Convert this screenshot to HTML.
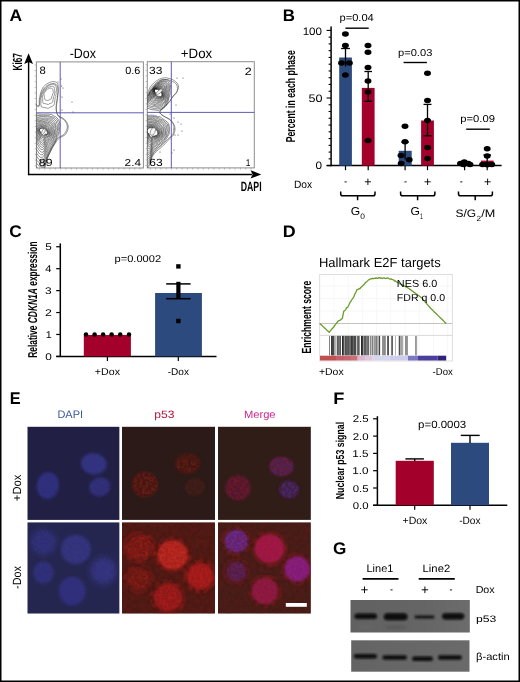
<!DOCTYPE html>
<html><head><meta charset="utf-8"><title>Figure</title>
<style>html,body{margin:0;padding:0;background:#fff;width:520px;height:682px;overflow:hidden;}svg{display:block;will-change:transform;}
text{font-family:"Liberation Sans", sans-serif;text-rendering:geometricPrecision;}</style></head>
<body><svg width="520" height="682" viewBox="0 0 520 682">
<defs><filter id="bl1" x="-30%" y="-30%" width="160%" height="160%"><feGaussianBlur stdDeviation="1.3"/></filter><filter id="bl2" x="-50%" y="-50%" width="200%" height="200%"><feGaussianBlur stdDeviation="3"/></filter><filter id="bl6" x="-50%" y="-50%" width="200%" height="200%"><feGaussianBlur stdDeviation="6"/></filter><filter id="spk" x="-20%" y="-20%" width="140%" height="140%"><feTurbulence type="fractalNoise" baseFrequency="0.55" numOctaves="2" seed="4" result="n"/><feColorMatrix in="n" type="matrix" values="0 0 0 0 0  0 0 0 0 0  0 0 0 0 0  0 0 0 -2.2 1.75" result="m"/><feComposite in="SourceGraphic" in2="m" operator="in" result="s"/><feGaussianBlur in="s" stdDeviation="0.45"/></filter><filter id="spk2" x="-20%" y="-20%" width="140%" height="140%"><feTurbulence type="fractalNoise" baseFrequency="0.5" numOctaves="2" seed="9" result="n"/><feColorMatrix in="n" type="matrix" values="0 0 0 0 0  0 0 0 0 0  0 0 0 0 0  0 0 0 -1.6 1.45" result="m"/><feComposite in="SourceGraphic" in2="m" operator="in" result="s"/><feGaussianBlur in="s" stdDeviation="0.4"/></filter><filter id="tx1" x="-30%" y="-30%" width="160%" height="160%"><feTurbulence type="fractalNoise" baseFrequency="0.35" numOctaves="2" seed="3" result="n"/><feColorMatrix in="n" type="matrix" values="0 0 0 0 0  0 0 0 0 0  0 0 0 0 0  0 0 0 -3.0 2.0" result="m"/><feComposite in="SourceGraphic" in2="m" operator="in" result="s"/><feGaussianBlur in="s" stdDeviation="0.7"/></filter><filter id="tx2" x="-30%" y="-30%" width="160%" height="160%"><feTurbulence type="fractalNoise" baseFrequency="0.35" numOctaves="2" seed="8" result="n"/><feColorMatrix in="n" type="matrix" values="0 0 0 0 0  0 0 0 0 0  0 0 0 0 0  0 0 0 -3.0 2.0" result="m"/><feComposite in="SourceGraphic" in2="m" operator="in" result="s"/><feGaussianBlur in="s" stdDeviation="0.7"/></filter><filter id="tx3" x="-30%" y="-30%" width="160%" height="160%"><feTurbulence type="fractalNoise" baseFrequency="0.25" numOctaves="2" seed="5" result="n"/><feColorMatrix in="n" type="matrix" values="0 0 0 0 0  0 0 0 0 0  0 0 0 0 0  0 0 0 -2.5 1.6" result="m"/><feComposite in="SourceGraphic" in2="m" operator="in" result="s"/><feGaussianBlur in="s" stdDeviation="0.9"/></filter><filter id="tx4" x="-30%" y="-30%" width="160%" height="160%"><feTurbulence type="fractalNoise" baseFrequency="0.45" numOctaves="2" seed="12" result="n"/><feColorMatrix in="n" type="matrix" values="0 0 0 0 0  0 0 0 0 0  0 0 0 0 0  0 0 0 -3.2 2.0" result="m"/><feComposite in="SourceGraphic" in2="m" operator="in" result="s"/><feGaussianBlur in="s" stdDeviation="0.5"/></filter><filter id="bl15" x="-30%" y="-30%" width="160%" height="160%"><feGaussianBlur stdDeviation="1.5"/></filter><filter id="bl4" x="-60%" y="-60%" width="220%" height="220%"><feGaussianBlur stdDeviation="4"/></filter><filter id="bb" x="-20%" y="-100%" width="140%" height="300%"><feGaussianBlur stdDeviation="0.9 1.1"/></filter><linearGradient id="blot1" x1="0" y1="0" x2="1" y2="0"><stop offset="0" stop-color="#616161"/><stop offset="0.6" stop-color="#656565"/><stop offset="1" stop-color="#6c6c6c"/></linearGradient><linearGradient id="blot2" x1="0" y1="0" x2="1" y2="0"><stop offset="0" stop-color="#646464"/><stop offset="1" stop-color="#6a6a6a"/></linearGradient></defs>
<rect width="520" height="682" fill="#fff"/>
<rect x="0.75" y="0.75" width="518.5" height="680.5" fill="none" stroke="#000" stroke-width="1.5"/>
<text transform="translate(9.56,20.60) scale(1.0478,1)" font-size="16.67" font-weight="bold" font-style="normal" fill="#000" >A</text>
<text transform="translate(282.80,20.60) scale(1.0131,1)" font-size="16.67" font-weight="bold" font-style="normal" fill="#000" >B</text>
<text transform="translate(9.31,237.40) scale(1.0234,1)" font-size="16.86" font-weight="bold" font-style="normal" fill="#000" >C</text>
<text transform="translate(282.64,237.40) scale(1.0732,1)" font-size="16.67" font-weight="bold" font-style="normal" fill="#000" >D</text>
<text transform="translate(9.74,403.90) scale(0.9603,1)" font-size="16.96" font-weight="bold" font-style="normal" fill="#000" >E</text>
<text transform="translate(333.21,404.40) scale(1.0941,1)" font-size="16.67" font-weight="bold" font-style="normal" fill="#000" >F</text>
<text transform="translate(333.11,553.60) scale(1.0282,1)" font-size="16.71" font-weight="bold" font-style="normal" fill="#000" >G</text>
<g id="panelA">
<text transform="translate(21.50,70.43) rotate(-90) scale(0.6193,1)" font-size="13.24" font-weight="bold" font-style="normal" fill="#000">Ki67</text>
<line x1="28.6" y1="62" x2="28.6" y2="175.1" stroke="#000" stroke-width="1.4"/>
<polygon points="28.6,53.3 33.0,64.0 28.6,62.0 24.2,64.0" fill="#000"/>
<line x1="27.9" y1="174.4" x2="252" y2="174.4" stroke="#000" stroke-width="1.5"/>
<polygon points="261.3,174.4 250.6,170.2 252.6,174.4 250.6,178.6" fill="#000"/>
<text transform="translate(240.73,190.60) scale(0.6482,1)" font-size="13.48" font-weight="bold" font-style="normal" fill="#000" >DAPI</text>
<text transform="translate(69.64,57.80) scale(0.9144,1)" font-size="13.62" font-weight="normal" font-style="normal" fill="#000" >-Dox</text>
<text transform="translate(180.83,57.80) scale(0.9766,1)" font-size="13.62" font-weight="normal" font-style="normal" fill="#000" >+Dox</text>
<clipPath id="cb1"><rect x="36.4" y="61.9" width="107.0" height="106.1"/></clipPath>
<rect x="36.4" y="61.9" width="107.0" height="106.1" fill="#fff" stroke="#8c8c8c" stroke-width="1"/>
<line x1="34.6" y1="64.9" x2="36.7" y2="64.9" stroke="#999" stroke-width="0.6"/>
<line x1="34.6" y1="70.5" x2="36.7" y2="70.5" stroke="#999" stroke-width="0.6"/>
<line x1="34.6" y1="76.1" x2="36.7" y2="76.1" stroke="#999" stroke-width="0.6"/>
<line x1="34.6" y1="81.7" x2="36.7" y2="81.7" stroke="#999" stroke-width="0.6"/>
<line x1="34.6" y1="87.3" x2="36.7" y2="87.3" stroke="#999" stroke-width="0.6"/>
<line x1="34.6" y1="92.9" x2="36.7" y2="92.9" stroke="#999" stroke-width="0.6"/>
<line x1="34.6" y1="98.5" x2="36.7" y2="98.5" stroke="#999" stroke-width="0.6"/>
<line x1="34.6" y1="104.1" x2="36.7" y2="104.1" stroke="#999" stroke-width="0.6"/>
<line x1="34.6" y1="109.7" x2="36.7" y2="109.7" stroke="#999" stroke-width="0.6"/>
<line x1="34.6" y1="115.3" x2="36.7" y2="115.3" stroke="#999" stroke-width="0.6"/>
<line x1="34.6" y1="120.9" x2="36.7" y2="120.9" stroke="#999" stroke-width="0.6"/>
<line x1="34.6" y1="126.5" x2="36.7" y2="126.5" stroke="#999" stroke-width="0.6"/>
<line x1="34.6" y1="132.1" x2="36.7" y2="132.1" stroke="#999" stroke-width="0.6"/>
<line x1="34.6" y1="137.7" x2="36.7" y2="137.7" stroke="#999" stroke-width="0.6"/>
<line x1="34.6" y1="143.3" x2="36.7" y2="143.3" stroke="#999" stroke-width="0.6"/>
<line x1="34.6" y1="148.9" x2="36.7" y2="148.9" stroke="#999" stroke-width="0.6"/>
<line x1="34.6" y1="154.5" x2="36.7" y2="154.5" stroke="#999" stroke-width="0.6"/>
<line x1="34.6" y1="160.1" x2="36.7" y2="160.1" stroke="#999" stroke-width="0.6"/>
<line x1="34.6" y1="165.7" x2="36.7" y2="165.7" stroke="#999" stroke-width="0.6"/>
<line x1="39.4" y1="167.7" x2="39.4" y2="169.8" stroke="#999" stroke-width="0.6"/>
<line x1="44.7" y1="167.7" x2="44.7" y2="169.8" stroke="#999" stroke-width="0.6"/>
<line x1="50.0" y1="167.7" x2="50.0" y2="169.8" stroke="#999" stroke-width="0.6"/>
<line x1="55.3" y1="167.7" x2="55.3" y2="169.8" stroke="#999" stroke-width="0.6"/>
<line x1="60.6" y1="167.7" x2="60.6" y2="169.8" stroke="#999" stroke-width="0.6"/>
<line x1="65.9" y1="167.7" x2="65.9" y2="169.8" stroke="#999" stroke-width="0.6"/>
<line x1="71.2" y1="167.7" x2="71.2" y2="169.8" stroke="#999" stroke-width="0.6"/>
<line x1="76.5" y1="167.7" x2="76.5" y2="169.8" stroke="#999" stroke-width="0.6"/>
<line x1="81.8" y1="167.7" x2="81.8" y2="169.8" stroke="#999" stroke-width="0.6"/>
<line x1="87.1" y1="167.7" x2="87.1" y2="169.8" stroke="#999" stroke-width="0.6"/>
<line x1="92.4" y1="167.7" x2="92.4" y2="169.8" stroke="#999" stroke-width="0.6"/>
<line x1="97.7" y1="167.7" x2="97.7" y2="169.8" stroke="#999" stroke-width="0.6"/>
<line x1="103.0" y1="167.7" x2="103.0" y2="169.8" stroke="#999" stroke-width="0.6"/>
<line x1="108.3" y1="167.7" x2="108.3" y2="169.8" stroke="#999" stroke-width="0.6"/>
<line x1="113.6" y1="167.7" x2="113.6" y2="169.8" stroke="#999" stroke-width="0.6"/>
<line x1="118.9" y1="167.7" x2="118.9" y2="169.8" stroke="#999" stroke-width="0.6"/>
<line x1="124.2" y1="167.7" x2="124.2" y2="169.8" stroke="#999" stroke-width="0.6"/>
<line x1="129.5" y1="167.7" x2="129.5" y2="169.8" stroke="#999" stroke-width="0.6"/>
<line x1="134.8" y1="167.7" x2="134.8" y2="169.8" stroke="#999" stroke-width="0.6"/>
<line x1="140.1" y1="167.7" x2="140.1" y2="169.8" stroke="#999" stroke-width="0.6"/>
<clipPath id="cb2"><rect x="147.3" y="61.7" width="107.0" height="106.2"/></clipPath>
<rect x="147.3" y="61.7" width="107.0" height="106.2" fill="#fff" stroke="#8c8c8c" stroke-width="1"/>
<line x1="145.5" y1="64.7" x2="147.6" y2="64.7" stroke="#999" stroke-width="0.6"/>
<line x1="145.5" y1="70.3" x2="147.6" y2="70.3" stroke="#999" stroke-width="0.6"/>
<line x1="145.5" y1="75.9" x2="147.6" y2="75.9" stroke="#999" stroke-width="0.6"/>
<line x1="145.5" y1="81.5" x2="147.6" y2="81.5" stroke="#999" stroke-width="0.6"/>
<line x1="145.5" y1="87.1" x2="147.6" y2="87.1" stroke="#999" stroke-width="0.6"/>
<line x1="145.5" y1="92.7" x2="147.6" y2="92.7" stroke="#999" stroke-width="0.6"/>
<line x1="145.5" y1="98.3" x2="147.6" y2="98.3" stroke="#999" stroke-width="0.6"/>
<line x1="145.5" y1="103.9" x2="147.6" y2="103.9" stroke="#999" stroke-width="0.6"/>
<line x1="145.5" y1="109.5" x2="147.6" y2="109.5" stroke="#999" stroke-width="0.6"/>
<line x1="145.5" y1="115.1" x2="147.6" y2="115.1" stroke="#999" stroke-width="0.6"/>
<line x1="145.5" y1="120.7" x2="147.6" y2="120.7" stroke="#999" stroke-width="0.6"/>
<line x1="145.5" y1="126.3" x2="147.6" y2="126.3" stroke="#999" stroke-width="0.6"/>
<line x1="145.5" y1="131.9" x2="147.6" y2="131.9" stroke="#999" stroke-width="0.6"/>
<line x1="145.5" y1="137.5" x2="147.6" y2="137.5" stroke="#999" stroke-width="0.6"/>
<line x1="145.5" y1="143.1" x2="147.6" y2="143.1" stroke="#999" stroke-width="0.6"/>
<line x1="145.5" y1="148.7" x2="147.6" y2="148.7" stroke="#999" stroke-width="0.6"/>
<line x1="145.5" y1="154.3" x2="147.6" y2="154.3" stroke="#999" stroke-width="0.6"/>
<line x1="145.5" y1="159.9" x2="147.6" y2="159.9" stroke="#999" stroke-width="0.6"/>
<line x1="145.5" y1="165.5" x2="147.6" y2="165.5" stroke="#999" stroke-width="0.6"/>
<line x1="150.3" y1="167.6" x2="150.3" y2="169.7" stroke="#999" stroke-width="0.6"/>
<line x1="155.6" y1="167.6" x2="155.6" y2="169.7" stroke="#999" stroke-width="0.6"/>
<line x1="160.9" y1="167.6" x2="160.9" y2="169.7" stroke="#999" stroke-width="0.6"/>
<line x1="166.2" y1="167.6" x2="166.2" y2="169.7" stroke="#999" stroke-width="0.6"/>
<line x1="171.5" y1="167.6" x2="171.5" y2="169.7" stroke="#999" stroke-width="0.6"/>
<line x1="176.8" y1="167.6" x2="176.8" y2="169.7" stroke="#999" stroke-width="0.6"/>
<line x1="182.1" y1="167.6" x2="182.1" y2="169.7" stroke="#999" stroke-width="0.6"/>
<line x1="187.4" y1="167.6" x2="187.4" y2="169.7" stroke="#999" stroke-width="0.6"/>
<line x1="192.7" y1="167.6" x2="192.7" y2="169.7" stroke="#999" stroke-width="0.6"/>
<line x1="198.0" y1="167.6" x2="198.0" y2="169.7" stroke="#999" stroke-width="0.6"/>
<line x1="203.3" y1="167.6" x2="203.3" y2="169.7" stroke="#999" stroke-width="0.6"/>
<line x1="208.6" y1="167.6" x2="208.6" y2="169.7" stroke="#999" stroke-width="0.6"/>
<line x1="213.9" y1="167.6" x2="213.9" y2="169.7" stroke="#999" stroke-width="0.6"/>
<line x1="219.2" y1="167.6" x2="219.2" y2="169.7" stroke="#999" stroke-width="0.6"/>
<line x1="224.5" y1="167.6" x2="224.5" y2="169.7" stroke="#999" stroke-width="0.6"/>
<line x1="229.8" y1="167.6" x2="229.8" y2="169.7" stroke="#999" stroke-width="0.6"/>
<line x1="235.1" y1="167.6" x2="235.1" y2="169.7" stroke="#999" stroke-width="0.6"/>
<line x1="240.4" y1="167.6" x2="240.4" y2="169.7" stroke="#999" stroke-width="0.6"/>
<line x1="245.7" y1="167.6" x2="245.7" y2="169.7" stroke="#999" stroke-width="0.6"/>
<line x1="251.0" y1="167.6" x2="251.0" y2="169.7" stroke="#999" stroke-width="0.6"/>
<g clip-path="url(#cb1)">
<path d="M30.2,168.1C32.6,178.4 41.4,169.5 44.1,168.2C46.8,166.9 45.5,162.6 46.4,160.1C47.3,157.6 48.6,155.4 49.7,153.2C50.8,151.0 51.8,148.9 53.0,146.8C54.2,144.8 55.7,142.3 57.0,140.7C58.2,139.2 59.0,138.3 60.3,137.4C61.6,136.5 63.5,136.3 64.7,135.2C65.9,134.1 66.8,132.5 67.4,130.9C67.9,129.4 68.4,127.6 68.2,125.9C68.0,124.3 66.9,122.4 66.0,121.1C65.0,119.7 63.8,118.8 62.7,118.0C61.5,117.2 59.8,117.2 58.8,116.2C57.8,115.3 57.2,113.8 56.8,112.3C56.4,110.8 56.4,109.1 56.4,107.1C56.5,105.1 57.0,102.6 57.3,100.1C57.6,97.5 58.1,94.1 58.2,91.8C58.4,89.5 58.3,87.6 58.2,86.1C58.0,84.6 58.1,83.6 57.2,82.9C56.3,82.1 54.4,81.5 52.9,81.6C51.4,81.6 49.7,82.3 48.1,83.2C46.5,84.1 44.6,85.2 43.3,86.9C42.1,88.5 41.3,90.8 40.6,93.0C40.0,95.2 39.6,97.9 39.2,100.1C38.9,102.2 40.0,104.9 38.4,106.0C36.9,107.0 31.2,95.9 29.8,106.2C28.5,116.6 27.8,157.8 30.2,168.1Z" fill="none" stroke="#333" stroke-width="0.5"/>
<path d="M30.6,166.1C32.8,176.0 41.6,167.3 44.2,166.0C46.8,164.7 45.5,160.9 46.4,158.5C47.3,156.1 48.5,153.8 49.5,151.7C50.6,149.6 51.6,147.8 52.7,145.8C53.9,143.8 55.1,141.2 56.3,139.7C57.5,138.2 58.7,137.5 59.9,136.7C61.2,135.8 62.8,135.6 63.9,134.6C64.9,133.5 65.9,131.9 66.4,130.5C67.0,129.0 67.5,127.6 67.3,126.0C67.1,124.5 66.3,122.5 65.3,121.2C64.4,119.9 62.7,119.0 61.6,118.2C60.4,117.4 59.3,117.2 58.5,116.4C57.7,115.5 57.2,114.4 56.8,113.0C56.4,111.5 56.0,109.9 56.0,107.9C56.0,106.0 56.4,103.7 56.7,101.3C57.1,98.9 57.7,95.7 57.9,93.5C58.0,91.2 58.1,89.2 57.8,87.7C57.6,86.2 57.2,85.3 56.4,84.6C55.6,83.9 54.3,83.5 52.9,83.6C51.5,83.6 49.6,84.1 48.1,85.0C46.6,85.8 45.1,87.1 43.9,88.7C42.7,90.3 41.7,92.4 41.0,94.5C40.3,96.6 40.2,99.1 39.8,101.2C39.4,103.2 40.1,105.9 38.6,106.8C37.1,107.7 32.3,96.8 30.9,106.7C29.6,116.5 28.4,156.2 30.6,166.1Z" fill="none" stroke="#333" stroke-width="0.5"/>
<path d="M53.3,92.8C53.3,93.0 53.3,93.2 53.2,93.3C53.1,93.5 52.7,93.6 52.6,93.8C52.5,93.9 52.5,94.1 52.5,94.3C52.5,94.4 52.6,94.7 52.6,94.9C52.6,95.1 52.5,95.2 52.4,95.4C52.3,95.5 52.2,95.7 52.1,95.9C52.1,96.0 51.9,96.1 51.8,96.3C51.7,96.5 51.8,96.8 51.7,97.1C51.6,97.3 51.6,97.6 51.5,97.9C51.4,98.2 51.4,98.6 51.2,98.9C51.1,99.1 50.8,99.1 50.6,99.2C50.3,99.4 50.1,99.5 49.9,99.7C49.6,99.8 49.4,99.8 49.1,99.9C48.8,100.1 48.6,100.3 48.3,100.4C48.0,100.5 47.7,100.5 47.4,100.5C47.1,100.5 46.9,100.4 46.6,100.3C46.3,100.2 46.1,100.0 45.8,99.9C45.5,99.8 45.2,99.9 45.0,99.7C44.8,99.5 44.7,99.1 44.6,98.7C44.5,98.3 44.6,97.8 44.5,97.5C44.5,97.2 44.5,96.9 44.4,96.7C44.4,96.4 44.2,96.3 44.2,96.1C44.1,95.9 44.2,95.6 44.2,95.4C44.2,95.2 44.2,95.0 44.2,94.8C44.1,94.6 43.9,94.5 43.9,94.3C43.9,94.2 44.1,93.9 44.1,93.8C44.1,93.6 44.1,93.4 44.2,93.3C44.2,93.1 44.3,92.9 44.5,92.8C44.6,92.7 44.7,92.5 44.8,92.4C44.9,92.3 44.8,92.1 44.9,92.0C44.9,91.9 45.1,91.8 45.2,91.7C45.3,91.6 45.3,91.5 45.3,91.3C45.3,91.2 45.2,91.0 45.3,90.9C45.4,90.8 45.5,90.8 45.7,90.7C45.8,90.6 46.0,90.7 46.1,90.6C46.2,90.5 46.0,90.2 46.1,90.0C46.2,89.9 46.3,89.9 46.5,89.9C46.6,89.8 46.7,89.8 46.8,89.7C46.9,89.6 47.0,89.4 47.1,89.4C47.2,89.3 47.3,89.3 47.5,89.2C47.6,89.1 47.7,89.0 47.9,88.9C48.0,88.9 48.1,89.0 48.3,88.9C48.5,88.8 48.6,88.6 48.8,88.5C49.0,88.4 49.2,88.3 49.3,88.3C49.5,88.3 49.6,88.6 49.8,88.5C50.0,88.5 50.3,88.2 50.6,88.1C50.8,88.1 51.0,88.2 51.2,88.2C51.4,88.3 51.6,88.4 51.8,88.4C52.0,88.5 52.2,88.6 52.4,88.7C52.5,88.9 52.5,89.2 52.6,89.3C52.8,89.5 53.0,89.6 53.1,89.8C53.2,90.0 53.1,90.3 53.1,90.5C53.2,90.7 53.3,90.8 53.3,91.0C53.3,91.2 53.1,91.5 53.1,91.7C53.1,91.9 53.3,92.1 53.3,92.2C53.4,92.4 53.3,92.6 53.3,92.8Z" fill="none" stroke="#333" stroke-width="0.5"/><path d="M54.8,92.8C54.8,93.0 54.6,93.3 54.5,93.5C54.5,93.7 54.5,94.0 54.5,94.2C54.5,94.5 54.5,94.7 54.5,95.0C54.4,95.2 54.3,95.4 54.2,95.6C54.1,95.9 54.0,96.1 53.9,96.3C53.8,96.5 53.7,96.7 53.6,97.0C53.5,97.3 53.5,97.6 53.4,97.9C53.4,98.2 53.4,98.7 53.3,99.1C53.2,99.4 53.0,99.6 52.9,100.1C52.8,100.6 52.9,101.6 52.8,102.0C52.6,102.5 52.1,102.4 51.8,102.7C51.4,102.9 51.1,103.3 50.7,103.4C50.4,103.6 49.9,103.5 49.5,103.6C49.1,103.8 48.7,104.4 48.3,104.5C47.9,104.6 47.4,104.3 47.0,104.2C46.6,104.1 46.2,103.9 45.8,103.8C45.4,103.7 45.0,103.6 44.5,103.5C44.1,103.4 43.5,103.6 43.2,103.3C42.9,103.0 42.8,102.3 42.7,101.7C42.6,101.1 42.7,100.4 42.7,99.8C42.7,99.3 42.7,98.8 42.7,98.4C42.7,98.0 42.6,97.7 42.5,97.4C42.5,97.1 42.5,96.8 42.5,96.4C42.5,96.1 42.6,95.8 42.7,95.5C42.8,95.2 43.1,94.9 43.1,94.6C43.1,94.4 42.8,94.3 42.8,94.1C42.8,93.8 42.9,93.6 43.0,93.4C43.0,93.2 42.9,93.0 43.1,92.8C43.2,92.6 43.6,92.5 43.7,92.3C43.8,92.1 43.6,91.9 43.7,91.8C43.8,91.6 44.2,91.6 44.3,91.4C44.4,91.3 44.3,91.0 44.3,90.9C44.4,90.7 44.6,90.7 44.8,90.6C44.9,90.5 45.0,90.4 45.0,90.2C45.1,90.0 45.0,89.7 45.1,89.6C45.2,89.4 45.5,89.6 45.6,89.5C45.8,89.4 45.8,89.1 45.9,89.0C46.0,88.8 46.1,88.6 46.2,88.5C46.4,88.4 46.6,88.5 46.8,88.5C47.0,88.4 47.1,88.3 47.2,88.1C47.4,88.0 47.5,87.6 47.7,87.4C47.9,87.3 48.1,87.4 48.3,87.3C48.5,87.2 48.7,87.0 49.0,86.9C49.2,86.9 49.4,87.1 49.6,87.0C49.9,87.0 50.2,86.7 50.5,86.6C50.8,86.5 51.1,86.5 51.4,86.4C51.7,86.4 52.1,86.3 52.4,86.3C52.7,86.4 52.8,86.7 53.1,86.7C53.4,86.8 54.1,86.6 54.2,86.9C54.4,87.1 54.1,87.8 54.2,88.1C54.3,88.4 54.6,88.5 54.7,88.8C54.8,89.0 54.6,89.5 54.6,89.8C54.6,90.1 54.6,90.3 54.7,90.6C54.7,90.8 54.9,91.0 54.9,91.3C54.9,91.5 54.5,91.8 54.5,92.1C54.5,92.3 54.8,92.6 54.8,92.8Z" fill="none" stroke="#333" stroke-width="0.5"/><path d="M56.0,92.8C56.0,93.1 56.2,93.4 56.2,93.7C56.2,94.0 56.1,94.3 56.0,94.6C55.9,94.8 55.7,95.1 55.7,95.4C55.7,95.7 56.0,96.2 55.9,96.5C55.9,96.8 55.5,96.9 55.4,97.2C55.2,97.5 55.2,97.9 55.1,98.2C55.1,98.6 55.0,99.0 55.0,99.5C55.0,100.0 54.9,100.4 54.8,101.0C54.8,101.5 54.7,102.2 54.6,102.8C54.4,103.4 54.3,104.2 54.0,104.7C53.8,105.3 53.4,105.8 52.9,106.1C52.5,106.4 51.9,106.3 51.4,106.6C50.9,106.8 50.5,107.1 49.9,107.4C49.4,107.7 48.9,108.2 48.3,108.3C47.7,108.4 47.2,108.1 46.6,108.0C46.0,107.9 45.5,107.9 44.9,107.7C44.3,107.6 43.8,107.4 43.2,107.3C42.7,107.1 41.9,107.3 41.5,106.9C41.1,106.5 41.0,105.5 40.9,104.7C40.8,103.9 40.9,102.8 40.9,102.1C40.9,101.3 41.0,100.7 41.0,100.1C41.0,99.5 40.8,99.2 40.9,98.7C40.9,98.2 41.2,97.6 41.3,97.2C41.4,96.7 41.6,96.3 41.7,96.0C41.7,95.7 41.7,95.4 41.7,95.1C41.7,94.8 41.6,94.6 41.7,94.3C41.7,94.0 42.1,93.7 42.2,93.5C42.3,93.2 42.1,93.0 42.2,92.8C42.2,92.6 42.5,92.4 42.6,92.2C42.7,92.0 42.8,91.7 42.9,91.6C43.0,91.4 43.3,91.3 43.4,91.1C43.5,90.9 43.2,90.6 43.3,90.4C43.4,90.2 43.8,90.2 43.9,90.0C44.0,89.9 44.0,89.6 44.1,89.4C44.2,89.2 44.3,89.1 44.5,89.0C44.6,88.8 44.8,88.8 45.0,88.6C45.1,88.4 45.1,88.1 45.3,88.0C45.4,87.8 45.7,87.9 45.9,87.8C46.1,87.7 46.2,87.5 46.4,87.4C46.6,87.2 46.8,87.1 47.0,86.9C47.2,86.7 47.3,86.5 47.6,86.3C47.8,86.1 48.0,86.0 48.3,85.9C48.6,85.7 48.8,85.4 49.1,85.3C49.4,85.2 49.7,85.2 50.1,85.1C50.4,84.9 50.8,84.6 51.2,84.5C51.6,84.3 52.1,84.1 52.5,84.1C52.9,84.1 53.3,84.2 53.6,84.3C54.0,84.4 54.3,84.7 54.7,84.8C55.0,85.0 55.5,85.0 55.8,85.3C56.0,85.6 55.9,86.3 56.0,86.7C56.1,87.1 56.3,87.4 56.4,87.7C56.5,88.1 56.6,88.4 56.6,88.8C56.6,89.2 56.6,89.5 56.6,89.9C56.6,90.3 56.5,90.6 56.5,90.9C56.4,91.3 56.2,91.6 56.2,91.9C56.1,92.2 56.0,92.5 56.0,92.8Z" fill="none" stroke="#333" stroke-width="0.5"/>
<path d="M46.9,131.5C47.0,131.6 47.2,131.8 47.2,131.9C47.3,132.1 47.3,132.2 47.3,132.4C47.4,132.5 47.5,132.7 47.6,132.9C47.6,133.1 47.6,133.3 47.5,133.4C47.4,133.5 47.1,133.6 47.0,133.6C46.8,133.7 46.7,133.8 46.6,133.9C46.5,134.0 46.5,134.2 46.4,134.3C46.3,134.4 45.9,134.2 45.7,134.2C45.6,134.2 45.4,134.2 45.3,134.3C45.2,134.3 45.2,134.6 45.1,134.7C45.0,134.7 44.8,134.5 44.7,134.6C44.6,134.6 44.5,134.9 44.4,134.9C44.3,135.0 44.1,135.0 44.0,135.1C43.9,135.2 43.7,135.6 43.6,135.7C43.5,135.8 43.3,135.6 43.1,135.5C43.0,135.5 42.8,135.5 42.7,135.4C42.6,135.4 42.4,135.3 42.3,135.2C42.2,135.1 42.1,134.8 42.1,134.7C42.0,134.5 41.9,134.5 41.8,134.3C41.8,134.2 41.7,134.1 41.7,133.9C41.6,133.8 41.8,133.5 41.7,133.4C41.6,133.3 41.4,133.4 41.3,133.4C41.2,133.3 41.2,133.1 41.2,133.0C41.1,132.9 41.1,132.8 41.1,132.7C41.1,132.6 41.2,132.5 41.1,132.4C41.0,132.3 40.6,132.3 40.5,132.2C40.4,132.1 40.5,132.0 40.5,131.9C40.4,131.7 40.2,131.6 40.1,131.5C40.0,131.4 39.9,131.2 39.8,131.1C39.7,130.9 39.7,130.8 39.7,130.6C39.6,130.4 39.4,130.2 39.4,130.0C39.4,129.9 39.6,129.8 39.7,129.6C39.7,129.5 39.6,129.2 39.7,129.1C39.8,128.9 40.1,128.9 40.3,128.8C40.4,128.7 40.4,128.5 40.5,128.4C40.6,128.3 40.9,128.3 41.1,128.4C41.3,128.4 41.6,128.6 41.8,128.6C42.0,128.7 42.1,128.7 42.2,128.7C42.4,128.7 42.5,128.8 42.6,128.7C42.7,128.7 42.8,128.4 42.9,128.4C43.0,128.4 43.2,128.7 43.3,128.7C43.4,128.8 43.5,128.7 43.6,128.7C43.7,128.8 43.8,128.9 43.9,128.9C44.0,129.0 44.1,128.9 44.2,128.9C44.3,128.9 44.4,129.0 44.5,129.0C44.6,129.1 44.6,129.1 44.7,129.2C44.8,129.2 45.0,129.1 45.1,129.2C45.2,129.2 45.2,129.3 45.3,129.3C45.4,129.4 45.6,129.3 45.7,129.4C45.8,129.5 45.8,129.6 45.9,129.7C46.0,129.8 46.1,129.8 46.2,129.9C46.3,130.0 46.3,130.1 46.4,130.2C46.4,130.3 46.6,130.3 46.6,130.4C46.7,130.6 46.7,130.7 46.7,130.8C46.7,130.9 46.6,131.0 46.6,131.2C46.6,131.3 46.7,131.4 46.9,131.5Z" fill="none" stroke="#1a1a1a" stroke-width="0.5"/><path d="M47.5,131.5C47.6,131.6 47.7,131.8 47.8,132.0C47.8,132.1 47.9,132.3 47.9,132.5C47.9,132.7 47.9,132.8 47.8,133.0C47.8,133.2 47.9,133.4 47.8,133.5C47.7,133.7 47.4,133.7 47.3,133.8C47.2,134.0 47.3,134.2 47.1,134.3C47.0,134.4 46.7,134.4 46.6,134.5C46.4,134.5 46.2,134.5 46.0,134.5C45.8,134.5 45.6,134.5 45.5,134.5C45.4,134.6 45.4,134.9 45.3,135.0C45.2,135.2 45.1,135.3 44.9,135.3C44.8,135.3 44.6,135.0 44.4,135.1C44.3,135.3 44.2,135.7 44.1,136.0C44.0,136.2 43.8,136.4 43.6,136.5C43.4,136.6 43.2,136.6 43.0,136.5C42.9,136.5 42.7,136.3 42.5,136.2C42.4,136.1 42.2,136.0 42.1,135.9C41.9,135.8 41.7,135.8 41.7,135.5C41.6,135.3 41.7,134.8 41.7,134.6C41.6,134.4 41.4,134.5 41.3,134.4C41.3,134.2 41.4,133.9 41.3,133.8C41.3,133.6 41.0,133.7 40.9,133.6C40.8,133.5 41.0,133.3 40.9,133.2C40.8,133.1 40.6,133.1 40.5,133.0C40.4,132.9 40.3,132.8 40.3,132.7C40.2,132.5 40.4,132.4 40.3,132.3C40.2,132.1 39.9,132.0 39.9,131.9C39.8,131.8 40.0,131.6 40.0,131.5C40.0,131.4 40.0,131.2 39.9,131.1C39.8,130.9 39.4,130.7 39.4,130.5C39.3,130.4 39.5,130.2 39.5,130.1C39.5,129.9 39.4,129.7 39.5,129.5C39.5,129.3 39.5,129.1 39.6,129.0C39.6,128.8 39.7,128.6 39.9,128.5C40.0,128.4 40.2,128.4 40.4,128.3C40.6,128.3 40.9,128.4 41.1,128.3C41.2,128.2 41.2,127.9 41.3,127.9C41.5,127.9 41.8,128.2 42.0,128.2C42.2,128.2 42.2,128.0 42.4,127.9C42.5,127.9 42.7,128.0 42.8,128.0C43.0,128.1 43.1,128.3 43.2,128.4C43.4,128.4 43.5,128.4 43.6,128.4C43.7,128.4 43.8,128.4 43.9,128.4C44.1,128.4 44.2,128.4 44.3,128.4C44.4,128.4 44.5,128.5 44.6,128.5C44.8,128.6 44.9,128.6 45.0,128.7C45.1,128.7 45.2,128.7 45.3,128.8C45.4,128.8 45.6,128.7 45.7,128.8C45.8,128.9 45.8,129.1 45.9,129.2C46.0,129.3 46.0,129.4 46.1,129.5C46.2,129.6 46.4,129.6 46.5,129.7C46.5,129.8 46.4,130.0 46.5,130.1C46.5,130.2 46.6,130.3 46.7,130.4C46.8,130.5 47.1,130.6 47.2,130.7C47.3,130.8 47.1,131.0 47.2,131.1C47.2,131.2 47.4,131.4 47.5,131.5Z" fill="none" stroke="#1a1a1a" stroke-width="0.5"/><path d="M47.8,131.5C47.8,131.7 47.7,131.8 47.7,132.0C47.8,132.1 48.0,132.3 48.1,132.5C48.2,132.7 48.3,132.9 48.2,133.1C48.2,133.3 47.9,133.4 47.9,133.6C47.8,133.7 47.9,134.0 47.8,134.2C47.8,134.3 47.6,134.5 47.4,134.5C47.2,134.6 46.9,134.5 46.7,134.6C46.5,134.7 46.5,134.9 46.4,135.0C46.3,135.1 46.1,135.1 45.9,135.2C45.8,135.2 45.7,135.4 45.5,135.5C45.4,135.6 45.2,135.5 45.0,135.6C44.9,135.7 44.8,136.0 44.7,136.2C44.5,136.4 44.4,136.6 44.2,136.9C44.0,137.1 43.8,137.4 43.6,137.5C43.4,137.7 43.1,137.7 42.9,137.7C42.7,137.7 42.4,137.6 42.2,137.5C42.0,137.4 41.8,137.2 41.7,137.0C41.5,136.8 41.5,136.4 41.4,136.1C41.3,135.9 41.2,135.7 41.1,135.5C41.0,135.3 40.9,135.1 40.9,134.9C40.8,134.8 40.8,134.5 40.8,134.3C40.7,134.2 40.6,134.1 40.6,133.9C40.5,133.8 40.5,133.6 40.4,133.5C40.3,133.4 40.3,133.3 40.2,133.1C40.1,133.0 40.0,132.9 40.0,132.8C39.9,132.6 40.0,132.5 39.9,132.3C39.9,132.2 39.8,132.1 39.7,131.9C39.6,131.8 39.3,131.7 39.3,131.5C39.2,131.3 39.5,131.2 39.4,131.0C39.4,130.9 39.1,130.6 39.0,130.4C38.8,130.2 38.8,130.0 38.8,129.8C38.8,129.6 38.9,129.5 39.0,129.3C39.1,129.1 39.2,128.9 39.2,128.8C39.3,128.6 39.2,128.3 39.3,128.1C39.5,128.0 39.8,127.9 40.0,127.9C40.2,127.8 40.4,127.8 40.6,127.8C40.8,127.7 41.0,127.6 41.1,127.6C41.3,127.5 41.5,127.4 41.7,127.5C41.9,127.5 42.1,127.8 42.3,127.8C42.5,127.9 42.6,127.8 42.7,127.8C42.9,127.8 43.0,127.8 43.2,127.8C43.3,127.8 43.5,127.6 43.6,127.6C43.7,127.7 43.9,127.9 44.0,127.9C44.1,127.9 44.3,127.7 44.5,127.8C44.6,127.8 44.6,128.1 44.8,128.2C44.9,128.2 45.0,128.2 45.2,128.2C45.3,128.2 45.5,128.2 45.6,128.2C45.8,128.3 46.0,128.3 46.1,128.4C46.2,128.4 46.2,128.7 46.3,128.8C46.4,128.9 46.5,129.0 46.5,129.2C46.6,129.3 46.6,129.4 46.7,129.5C46.8,129.6 47.1,129.7 47.1,129.8C47.2,129.9 47.0,130.1 47.1,130.3C47.2,130.4 47.5,130.5 47.6,130.6C47.7,130.7 47.7,130.9 47.8,131.0C47.8,131.2 47.8,131.3 47.8,131.5Z" fill="none" stroke="#1a1a1a" stroke-width="0.5"/><path d="M48.2,131.5C48.2,131.7 48.3,131.8 48.4,132.0C48.5,132.2 48.7,132.5 48.8,132.7C48.8,132.9 48.7,133.1 48.7,133.3C48.7,133.5 48.8,133.8 48.7,133.9C48.6,134.1 48.3,134.2 48.1,134.4C48.0,134.5 47.8,134.6 47.6,134.7C47.4,134.8 47.3,134.9 47.2,135.1C47.0,135.2 47.0,135.5 46.8,135.5C46.7,135.6 46.4,135.6 46.2,135.6C46.0,135.7 45.9,135.8 45.8,136.0C45.6,136.1 45.5,136.2 45.3,136.4C45.2,136.6 45.0,136.7 44.8,136.9C44.7,137.2 44.5,137.4 44.3,137.8C44.1,138.2 43.9,139.2 43.6,139.4C43.3,139.7 43.0,139.4 42.7,139.3C42.5,139.2 42.2,138.7 42.0,138.6C41.7,138.4 41.5,138.4 41.3,138.2C41.0,138.0 40.9,137.8 40.7,137.5C40.6,137.2 40.5,136.9 40.4,136.6C40.4,136.2 40.4,135.8 40.4,135.6C40.3,135.3 40.1,135.3 40.0,135.1C39.9,135.0 39.8,134.8 39.8,134.6C39.8,134.3 39.9,134.0 39.9,133.9C39.8,133.7 39.5,133.6 39.4,133.5C39.3,133.4 39.3,133.2 39.3,133.0C39.2,132.9 39.2,132.7 39.2,132.5C39.2,132.3 39.1,132.2 39.1,132.0C39.0,131.8 39.0,131.7 39.0,131.5C38.9,131.3 38.8,131.1 38.8,131.0C38.7,130.8 38.7,130.6 38.6,130.4C38.6,130.2 38.6,130.0 38.6,129.7C38.5,129.5 38.3,129.2 38.4,129.0C38.4,128.8 38.6,128.6 38.7,128.4C38.8,128.2 38.7,127.9 38.8,127.7C39.0,127.5 39.3,127.5 39.5,127.4C39.7,127.3 39.7,127.0 39.9,126.9C40.1,126.8 40.4,126.9 40.7,126.8C40.9,126.8 41.1,126.7 41.3,126.7C41.5,126.7 41.7,126.8 42.0,126.8C42.2,126.8 42.3,126.8 42.5,126.8C42.7,126.9 42.9,127.0 43.1,127.1C43.3,127.2 43.4,127.4 43.6,127.4C43.8,127.4 43.9,127.1 44.1,127.1C44.2,127.1 44.4,127.4 44.5,127.4C44.7,127.5 44.8,127.4 45.0,127.4C45.2,127.4 45.4,127.4 45.6,127.4C45.7,127.5 45.9,127.6 46.0,127.7C46.1,127.8 46.2,127.9 46.4,128.0C46.6,128.0 46.9,128.0 47.0,128.1C47.1,128.2 47.2,128.4 47.2,128.6C47.3,128.8 47.3,129.0 47.4,129.1C47.5,129.3 47.5,129.4 47.6,129.6C47.7,129.7 48.0,129.8 48.0,129.9C48.1,130.1 48.0,130.3 48.0,130.5C48.1,130.7 48.3,130.8 48.3,131.0C48.4,131.1 48.2,131.3 48.2,131.5Z" fill="none" stroke="#1a1a1a" stroke-width="0.5"/><path d="M48.9,131.5C48.9,131.7 48.9,131.9 49.0,132.1C49.0,132.3 49.1,132.5 49.2,132.8C49.3,133.0 49.4,133.3 49.3,133.5C49.3,133.7 48.9,133.8 48.9,134.0C48.8,134.2 48.9,134.6 48.8,134.8C48.7,135.0 48.5,135.2 48.4,135.3C48.2,135.5 48.0,135.6 47.8,135.7C47.6,135.8 47.5,136.0 47.3,136.1C47.0,136.2 46.7,136.0 46.5,136.1C46.3,136.2 46.3,136.6 46.2,136.8C46.0,137.0 45.9,137.3 45.7,137.4C45.5,137.6 45.2,137.5 45.0,137.7C44.8,138.0 44.7,138.5 44.4,139.0C44.2,139.5 43.9,140.4 43.6,140.7C43.3,141.1 42.8,141.3 42.5,141.2C42.2,141.1 41.9,140.6 41.6,140.3C41.3,140.0 41.1,139.6 40.9,139.4C40.6,139.1 40.3,139.0 40.2,138.6C40.0,138.3 40.1,137.5 40.1,137.1C40.0,136.7 39.9,136.5 39.8,136.2C39.8,135.9 39.7,135.7 39.6,135.5C39.6,135.2 39.5,135.0 39.4,134.8C39.4,134.6 39.4,134.4 39.3,134.2C39.1,134.1 38.8,134.0 38.7,133.9C38.6,133.7 38.6,133.5 38.6,133.2C38.6,133.0 38.8,132.8 38.8,132.6C38.8,132.4 38.5,132.3 38.5,132.1C38.4,131.9 38.4,131.7 38.4,131.5C38.3,131.3 38.2,131.1 38.2,130.9C38.1,130.7 38.1,130.5 38.0,130.2C37.9,130.0 37.8,129.7 37.7,129.4C37.7,129.2 37.7,128.9 37.8,128.7C37.9,128.5 38.0,128.3 38.1,128.0C38.2,127.8 38.4,127.6 38.5,127.4C38.6,127.2 38.6,126.9 38.8,126.7C39.0,126.6 39.4,126.7 39.7,126.6C39.9,126.5 40.0,126.3 40.3,126.2C40.5,126.1 40.7,126.1 41.0,126.1C41.3,126.1 41.5,126.2 41.8,126.3C42.0,126.4 42.3,126.5 42.5,126.5C42.7,126.5 42.8,126.5 43.0,126.5C43.2,126.5 43.4,126.5 43.6,126.5C43.8,126.5 44.0,126.4 44.2,126.4C44.4,126.4 44.6,126.4 44.8,126.4C44.9,126.5 45.1,126.6 45.3,126.7C45.5,126.7 45.7,126.6 45.9,126.7C46.1,126.7 46.3,126.8 46.5,127.0C46.6,127.1 46.8,127.2 46.9,127.3C47.1,127.4 47.2,127.6 47.4,127.7C47.5,127.9 47.7,128.0 47.8,128.1C48.0,128.3 48.1,128.4 48.2,128.6C48.3,128.8 48.3,129.0 48.4,129.2C48.4,129.4 48.6,129.6 48.6,129.7C48.7,129.9 48.7,130.1 48.7,130.3C48.7,130.5 48.7,130.7 48.7,130.9C48.7,131.1 48.8,131.3 48.9,131.5Z" fill="none" stroke="#1a1a1a" stroke-width="0.5"/><path d="M49.7,131.5C49.7,131.7 49.9,132.0 49.9,132.2C49.8,132.4 49.6,132.6 49.6,132.9C49.6,133.1 49.7,133.4 49.7,133.6C49.7,133.9 49.6,134.1 49.5,134.3C49.5,134.6 49.5,134.9 49.4,135.1C49.3,135.3 49.1,135.6 48.9,135.7C48.7,135.9 48.3,135.8 48.1,136.0C47.9,136.2 47.9,136.5 47.7,136.7C47.6,136.9 47.4,137.0 47.1,137.1C46.9,137.3 46.7,137.3 46.5,137.4C46.3,137.6 46.1,137.9 45.9,138.2C45.7,138.4 45.5,138.5 45.3,138.9C45.1,139.3 44.9,140.0 44.6,140.6C44.3,141.3 44.0,142.3 43.6,142.7C43.2,143.2 42.7,143.4 42.3,143.3C41.9,143.2 41.5,142.6 41.2,142.2C40.8,141.8 40.6,141.3 40.3,140.9C40.0,140.6 39.7,140.4 39.5,139.9C39.4,139.5 39.3,138.9 39.3,138.4C39.2,137.9 39.2,137.4 39.1,137.1C39.1,136.8 38.8,136.6 38.7,136.4C38.7,136.1 38.8,135.6 38.8,135.4C38.7,135.1 38.6,134.9 38.5,134.7C38.4,134.5 38.1,134.4 38.0,134.2C38.0,134.0 38.2,133.6 38.3,133.4C38.3,133.1 38.2,133.0 38.1,132.8C38.1,132.5 38.1,132.3 38.0,132.1C37.9,131.9 37.5,131.7 37.4,131.5C37.4,131.3 37.6,131.1 37.6,130.8C37.6,130.6 37.6,130.4 37.5,130.1C37.4,129.8 37.0,129.5 37.0,129.2C37.0,128.9 37.3,128.8 37.4,128.5C37.4,128.2 37.2,127.8 37.3,127.5C37.3,127.2 37.5,127.0 37.7,126.8C37.8,126.5 37.8,126.1 38.0,125.9C38.2,125.7 38.5,125.6 38.8,125.5C39.1,125.4 39.5,125.5 39.8,125.4C40.1,125.4 40.3,125.2 40.6,125.3C40.9,125.3 41.3,125.6 41.6,125.7C41.8,125.7 42.0,125.4 42.2,125.4C42.4,125.3 42.7,125.5 42.9,125.5C43.2,125.6 43.4,125.4 43.6,125.5C43.8,125.6 44.0,125.8 44.2,125.9C44.5,125.9 44.7,125.7 44.9,125.6C45.2,125.6 45.5,125.5 45.7,125.6C45.9,125.7 45.9,126.1 46.1,126.2C46.3,126.3 46.6,126.3 46.9,126.3C47.1,126.4 47.3,126.5 47.5,126.6C47.8,126.7 48.0,126.7 48.2,126.9C48.3,127.1 48.4,127.4 48.4,127.6C48.5,127.9 48.6,128.1 48.7,128.3C48.8,128.5 48.9,128.7 49.0,128.9C49.1,129.1 49.3,129.3 49.3,129.5C49.4,129.7 49.5,129.9 49.6,130.1C49.6,130.4 49.5,130.6 49.5,130.8C49.5,131.1 49.6,131.3 49.7,131.5Z" fill="none" stroke="#1a1a1a" stroke-width="0.5"/><path d="M50.3,131.5C50.3,131.8 50.4,132.0 50.4,132.3C50.4,132.5 50.4,132.8 50.4,133.0C50.4,133.3 50.4,133.6 50.3,133.9C50.2,134.1 50.0,134.3 50.0,134.6C49.9,134.8 49.9,135.1 49.8,135.4C49.7,135.6 49.6,136.0 49.4,136.2C49.2,136.3 48.9,136.4 48.6,136.5C48.4,136.7 48.4,137.1 48.2,137.2C48.0,137.4 47.6,137.4 47.4,137.6C47.2,137.8 47.2,138.2 47.0,138.5C46.8,138.8 46.6,139.0 46.3,139.3C46.1,139.6 45.9,139.9 45.6,140.4C45.4,140.8 45.1,141.3 44.8,142.0C44.4,142.7 44.1,144.0 43.6,144.6C43.1,145.1 42.5,145.3 42.1,145.2C41.6,145.1 41.1,144.6 40.7,144.1C40.3,143.6 40.1,142.8 39.8,142.3C39.5,141.8 39.2,141.5 39.0,141.1C38.8,140.6 38.6,140.1 38.5,139.6C38.3,139.2 38.2,138.8 38.1,138.4C38.1,137.9 38.1,137.5 38.0,137.1C37.9,136.7 37.9,136.4 37.8,136.1C37.7,135.8 37.5,135.6 37.5,135.4C37.4,135.1 37.5,134.7 37.5,134.4C37.5,134.2 37.4,133.9 37.4,133.7C37.3,133.4 37.4,133.2 37.3,132.9C37.2,132.7 37.0,132.5 37.0,132.2C36.9,132.0 37.0,131.8 37.0,131.5C36.9,131.2 36.9,131.0 36.9,130.7C36.8,130.5 36.6,130.2 36.5,129.9C36.4,129.6 36.3,129.2 36.3,128.9C36.3,128.6 36.6,128.4 36.6,128.1C36.7,127.8 36.6,127.4 36.6,127.1C36.7,126.8 36.9,126.6 37.1,126.3C37.2,125.9 37.0,125.4 37.2,125.1C37.5,124.9 38.0,125.0 38.3,124.9C38.7,124.8 39.0,124.7 39.3,124.7C39.7,124.7 40.0,124.6 40.3,124.7C40.6,124.7 41.0,124.8 41.3,124.8C41.5,124.8 41.8,124.6 42.0,124.6C42.3,124.6 42.6,124.7 42.8,124.7C43.1,124.8 43.3,124.9 43.6,124.9C43.9,124.9 44.1,124.8 44.3,124.9C44.6,124.9 44.8,124.9 45.1,124.9C45.4,124.9 45.7,124.7 46.0,124.8C46.2,124.8 46.3,125.2 46.6,125.3C46.8,125.4 47.3,125.1 47.5,125.2C47.8,125.3 47.9,125.6 48.1,125.8C48.3,126.0 48.6,126.1 48.8,126.3C49.0,126.5 49.1,126.7 49.3,127.0C49.5,127.2 49.7,127.4 49.8,127.6C49.9,127.8 50.1,128.1 50.1,128.4C50.2,128.6 50.1,128.9 50.1,129.2C50.1,129.5 50.2,129.7 50.2,130.0C50.3,130.2 50.4,130.5 50.4,130.7C50.4,131.0 50.3,131.2 50.3,131.5Z" fill="none" stroke="#1a1a1a" stroke-width="0.5"/><path d="M51.4,131.5C51.3,131.8 51.2,132.1 51.2,132.4C51.2,132.6 51.3,133.0 51.3,133.3C51.3,133.6 51.3,133.9 51.2,134.2C51.2,134.5 50.9,134.7 50.8,134.9C50.6,135.2 50.4,135.4 50.3,135.7C50.1,135.9 49.9,136.1 49.7,136.4C49.6,136.6 49.5,137.0 49.3,137.2C49.1,137.5 48.9,137.6 48.7,137.9C48.5,138.1 48.3,138.5 48.1,138.7C47.9,139.0 47.7,139.2 47.4,139.5C47.2,139.7 46.9,139.8 46.6,140.2C46.4,140.5 46.1,140.8 45.9,141.4C45.6,142.0 45.3,142.6 44.9,143.5C44.6,144.3 44.1,145.9 43.6,146.5C43.1,147.2 42.4,147.5 41.8,147.4C41.2,147.4 40.7,146.6 40.3,146.1C39.8,145.6 39.4,145.0 39.1,144.5C38.7,143.9 38.4,143.3 38.2,142.7C38.0,142.1 37.8,141.5 37.7,140.9C37.6,140.3 37.6,139.6 37.5,139.1C37.4,138.6 37.3,138.3 37.2,137.9C37.1,137.5 36.9,137.3 36.8,136.9C36.8,136.5 36.9,136.1 36.9,135.7C36.8,135.4 36.8,135.1 36.7,134.8C36.6,134.6 36.3,134.3 36.3,134.1C36.2,133.8 36.4,133.4 36.4,133.1C36.4,132.8 36.3,132.6 36.3,132.3C36.2,132.1 36.1,131.8 36.0,131.5C36.0,131.2 35.9,130.9 35.9,130.6C35.9,130.3 36.1,130.1 36.1,129.8C36.1,129.5 35.9,129.1 35.8,128.8C35.8,128.4 35.8,128.1 35.8,127.8C35.9,127.4 35.9,127.1 36.0,126.7C36.1,126.4 36.3,126.1 36.4,125.7C36.5,125.4 36.4,124.8 36.6,124.5C36.8,124.2 37.2,124.0 37.5,123.9C37.9,123.8 38.3,123.8 38.7,123.7C39.1,123.7 39.4,123.6 39.8,123.6C40.1,123.6 40.6,123.8 40.9,123.8C41.3,123.8 41.5,123.8 41.8,123.8C42.1,123.7 42.4,123.6 42.7,123.6C43.0,123.7 43.3,124.0 43.6,124.0C43.9,124.0 44.2,123.7 44.5,123.6C44.8,123.6 45.1,123.6 45.4,123.7C45.7,123.8 45.9,124.1 46.2,124.1C46.5,124.2 46.9,124.0 47.2,124.0C47.5,124.1 47.7,124.4 47.9,124.6C48.2,124.7 48.6,124.7 48.9,124.9C49.2,125.0 49.4,125.3 49.6,125.5C49.8,125.8 49.9,126.1 50.1,126.4C50.2,126.6 50.4,126.8 50.6,127.1C50.7,127.4 50.8,127.7 50.9,128.0C51.0,128.3 51.1,128.6 51.1,128.9C51.1,129.2 51.0,129.5 51.0,129.8C51.0,130.1 51.2,130.4 51.3,130.6C51.3,130.9 51.4,131.2 51.4,131.5Z" fill="none" stroke="#1a1a1a" stroke-width="0.5"/><path d="M52.3,131.5C52.3,131.8 52.2,132.1 52.1,132.5C52.1,132.8 52.1,133.1 52.0,133.4C51.9,133.7 51.6,134.0 51.6,134.3C51.5,134.6 51.5,135.0 51.4,135.3C51.3,135.6 51.1,135.8 51.0,136.1C50.8,136.4 50.7,136.8 50.5,137.0C50.4,137.3 50.1,137.5 49.9,137.8C49.7,138.1 49.5,138.3 49.2,138.6C49.0,138.8 48.7,138.9 48.5,139.2C48.2,139.5 48.1,140.0 47.9,140.4C47.6,140.8 47.4,141.1 47.1,141.5C46.8,141.9 46.5,142.1 46.2,142.8C45.9,143.4 45.6,144.5 45.2,145.5C44.8,146.6 44.2,148.3 43.6,149.0C43.0,149.7 42.2,149.6 41.6,149.5C40.9,149.4 40.3,148.9 39.8,148.3C39.3,147.7 38.9,146.6 38.5,146.0C38.1,145.3 37.7,145.0 37.4,144.4C37.1,143.8 37.0,142.9 36.9,142.2C36.7,141.5 36.7,140.9 36.6,140.3C36.5,139.8 36.4,139.3 36.3,138.8C36.2,138.4 36.1,138.0 36.0,137.6C35.9,137.2 35.9,136.8 35.8,136.4C35.8,136.0 35.7,135.7 35.7,135.3C35.7,135.0 35.7,134.6 35.7,134.3C35.7,133.9 35.7,133.6 35.7,133.3C35.6,133.0 35.3,132.7 35.2,132.4C35.2,132.1 35.1,131.8 35.1,131.5C35.1,131.2 35.1,130.9 35.1,130.5C35.1,130.2 34.9,129.9 34.9,129.5C34.9,129.2 35.0,128.9 35.0,128.5C35.1,128.2 35.1,127.8 35.1,127.4C35.2,127.0 35.2,126.7 35.2,126.3C35.3,125.8 35.2,125.3 35.3,124.9C35.4,124.5 35.7,124.1 35.9,123.8C36.2,123.6 36.6,123.3 37.0,123.2C37.3,123.0 37.8,122.9 38.1,122.8C38.5,122.7 38.9,122.5 39.3,122.5C39.7,122.5 40.1,122.7 40.5,122.7C40.9,122.7 41.3,122.7 41.6,122.7C41.9,122.7 42.3,122.7 42.6,122.8C42.9,122.8 43.3,122.7 43.6,122.7C43.9,122.7 44.3,122.6 44.6,122.7C44.9,122.7 45.2,122.9 45.6,122.9C45.9,123.0 46.3,122.7 46.7,122.8C47.0,122.8 47.2,123.3 47.5,123.4C47.8,123.6 48.2,123.5 48.5,123.7C48.8,123.8 49.1,124.0 49.4,124.2C49.7,124.4 49.9,124.7 50.2,124.9C50.5,125.1 50.9,125.2 51.1,125.5C51.3,125.8 51.4,126.2 51.5,126.5C51.6,126.9 51.6,127.3 51.7,127.6C51.7,128.0 51.7,128.3 51.8,128.6C51.8,129.0 51.9,129.3 52.0,129.6C52.0,129.9 52.1,130.2 52.1,130.5C52.2,130.9 52.3,131.2 52.3,131.5Z" fill="none" stroke="#1a1a1a" stroke-width="0.5"/><path d="M53.1,131.5C53.1,131.9 53.1,132.2 53.0,132.6C53.0,132.9 52.9,133.3 52.8,133.6C52.7,133.9 52.4,134.2 52.3,134.6C52.2,134.9 52.2,135.3 52.1,135.6C52.0,135.9 51.7,136.2 51.6,136.5C51.4,136.8 51.3,137.2 51.1,137.5C50.9,137.8 50.7,138.1 50.5,138.4C50.3,138.7 50.0,138.9 49.7,139.2C49.5,139.5 49.3,139.8 49.0,140.2C48.8,140.5 48.7,141.1 48.4,141.5C48.1,141.9 47.7,141.9 47.4,142.4C47.1,142.9 46.9,143.7 46.6,144.5C46.2,145.3 45.9,146.2 45.4,147.3C44.9,148.5 44.3,150.7 43.6,151.5C42.9,152.3 42.0,152.3 41.3,152.1C40.6,151.9 39.9,151.0 39.3,150.3C38.7,149.7 38.2,148.8 37.8,148.1C37.3,147.5 36.8,147.0 36.5,146.3C36.2,145.5 36.1,144.5 35.9,143.7C35.8,142.9 35.7,142.2 35.6,141.5C35.5,140.8 35.5,140.2 35.4,139.7C35.3,139.1 35.0,138.8 34.9,138.4C34.8,138.0 34.9,137.4 34.8,137.0C34.8,136.6 34.6,136.2 34.6,135.8C34.5,135.5 34.4,135.1 34.5,134.7C34.5,134.3 34.8,133.9 34.8,133.5C34.7,133.2 34.4,132.9 34.3,132.5C34.2,132.2 34.3,131.8 34.3,131.5C34.3,131.2 34.3,130.8 34.3,130.4C34.3,130.1 34.2,129.7 34.2,129.4C34.2,129.0 34.1,128.6 34.2,128.2C34.2,127.8 34.3,127.5 34.3,127.0C34.4,126.6 34.3,126.1 34.4,125.7C34.4,125.3 34.7,125.0 34.8,124.5C34.9,124.0 34.7,123.2 34.9,122.8C35.1,122.4 35.7,122.4 36.2,122.2C36.6,122.0 37.0,121.8 37.5,121.7C37.9,121.6 38.4,121.6 38.8,121.5C39.2,121.5 39.6,121.4 40.0,121.4C40.5,121.3 40.9,121.3 41.3,121.4C41.7,121.5 42.1,121.8 42.5,121.8C42.9,121.8 43.2,121.6 43.6,121.5C44.0,121.5 44.3,121.6 44.7,121.7C45.1,121.8 45.4,122.0 45.8,122.0C46.1,122.1 46.6,121.9 47.0,121.9C47.3,122.0 47.7,122.2 48.0,122.3C48.4,122.5 48.7,122.6 49.1,122.8C49.5,122.9 49.9,123.0 50.3,123.1C50.6,123.3 51.0,123.5 51.3,123.8C51.6,124.1 51.7,124.6 51.9,124.9C52.1,125.3 52.4,125.5 52.5,125.9C52.7,126.2 52.9,126.6 52.9,127.0C52.9,127.4 52.7,127.9 52.7,128.3C52.8,128.7 53.1,129.0 53.2,129.3C53.2,129.7 53.0,130.1 53.0,130.4C53.0,130.8 53.1,131.1 53.1,131.5Z" fill="none" stroke="#1a1a1a" stroke-width="0.5"/><path d="M54.1,131.5C54.0,131.9 54.0,132.3 53.9,132.7C53.8,133.0 53.8,133.4 53.7,133.8C53.6,134.2 53.3,134.5 53.2,134.9C53.1,135.2 53.1,135.7 53.0,136.0C52.9,136.4 52.8,136.8 52.6,137.2C52.4,137.5 52.2,137.8 51.9,138.2C51.7,138.5 51.4,138.7 51.1,139.0C50.9,139.4 50.8,139.8 50.5,140.2C50.3,140.5 50.0,140.8 49.7,141.2C49.4,141.5 49.1,141.8 48.8,142.3C48.5,142.7 48.2,143.1 47.9,143.7C47.6,144.3 47.2,144.8 46.8,145.7C46.5,146.6 46.1,147.6 45.6,148.9C45.0,150.2 44.4,152.6 43.6,153.6C42.8,154.6 41.8,154.9 41.0,154.8C40.2,154.7 39.4,153.5 38.7,152.8C38.1,152.0 37.6,151.0 37.1,150.2C36.5,149.4 36.0,148.9 35.7,148.0C35.3,147.1 35.2,146.0 35.1,145.0C34.9,144.1 34.9,143.3 34.8,142.6C34.7,141.8 34.5,141.3 34.4,140.7C34.3,140.1 34.1,139.7 34.0,139.2C33.9,138.7 33.9,138.1 33.9,137.6C33.8,137.1 33.8,136.7 33.7,136.2C33.7,135.8 33.4,135.5 33.4,135.1C33.3,134.7 33.4,134.2 33.4,133.8C33.5,133.4 33.6,133.0 33.6,132.6C33.6,132.2 33.5,131.9 33.5,131.5C33.5,131.1 33.4,130.7 33.4,130.3C33.3,130.0 33.3,129.5 33.3,129.1C33.3,128.7 33.4,128.4 33.4,127.9C33.5,127.5 33.5,127.1 33.6,126.7C33.6,126.2 33.6,125.8 33.6,125.2C33.6,124.7 33.5,124.1 33.6,123.5C33.7,123.0 33.8,122.4 34.1,122.0C34.4,121.7 35.0,121.5 35.4,121.3C35.9,121.0 36.4,120.9 36.8,120.7C37.3,120.6 37.8,120.6 38.3,120.6C38.8,120.6 39.3,120.6 39.8,120.6C40.2,120.6 40.7,120.5 41.1,120.5C41.5,120.5 42.0,120.6 42.4,120.7C42.8,120.7 43.2,120.8 43.6,120.8C44.0,120.8 44.4,120.8 44.8,120.8C45.2,120.8 45.6,120.8 46.0,120.8C46.5,120.8 47.0,120.6 47.4,120.7C47.8,120.8 48.1,121.1 48.5,121.3C48.9,121.5 49.3,121.6 49.7,121.7C50.2,121.9 50.7,122.0 51.0,122.2C51.4,122.4 51.7,122.8 52.0,123.1C52.3,123.4 52.8,123.6 53.0,124.0C53.2,124.4 53.1,125.0 53.2,125.5C53.3,125.9 53.7,126.2 53.8,126.6C53.9,127.0 53.9,127.5 53.9,127.9C53.9,128.3 53.7,128.8 53.8,129.2C53.8,129.6 54.1,129.9 54.2,130.3C54.2,130.7 54.1,131.1 54.1,131.5Z" fill="none" stroke="#1a1a1a" stroke-width="0.5"/><path d="M54.7,131.5C54.6,131.9 54.6,132.3 54.5,132.7C54.5,133.1 54.6,133.6 54.5,134.0C54.4,134.4 54.1,134.7 54.0,135.1C53.8,135.5 53.9,136.0 53.7,136.4C53.6,136.8 53.3,137.1 53.1,137.5C52.9,137.8 52.6,138.2 52.4,138.5C52.1,138.9 51.9,139.2 51.7,139.6C51.5,140.0 51.4,140.6 51.2,141.0C50.9,141.4 50.5,141.6 50.2,142.1C50.0,142.5 49.8,143.2 49.5,143.7C49.2,144.2 48.8,144.6 48.4,145.3C48.1,145.9 47.7,146.8 47.3,147.7C46.9,148.6 46.4,149.5 45.8,150.9C45.2,152.4 44.5,155.2 43.6,156.2C42.7,157.3 41.6,157.6 40.7,157.4C39.8,157.3 38.9,156.2 38.2,155.3C37.4,154.5 36.8,153.3 36.3,152.4C35.7,151.5 35.1,150.9 34.8,149.9C34.4,148.9 34.5,147.3 34.3,146.3C34.1,145.4 33.8,144.7 33.7,144.0C33.5,143.2 33.3,142.6 33.2,141.9C33.1,141.2 33.0,140.6 33.0,139.9C33.0,139.3 33.0,138.7 33.0,138.2C32.9,137.6 32.8,137.2 32.8,136.7C32.7,136.2 32.7,135.8 32.7,135.3C32.7,134.8 32.7,134.4 32.7,134.0C32.7,133.6 32.7,133.1 32.7,132.7C32.7,132.3 32.7,131.9 32.7,131.5C32.6,131.1 32.4,130.7 32.3,130.2C32.3,129.8 32.2,129.3 32.2,128.9C32.2,128.5 32.5,128.1 32.5,127.6C32.5,127.1 32.2,126.5 32.2,126.0C32.2,125.5 32.5,125.1 32.6,124.6C32.7,124.0 32.6,123.4 32.7,122.8C32.7,122.1 32.6,121.3 32.9,120.8C33.2,120.3 33.9,120.2 34.5,120.0C35.0,119.8 35.6,119.8 36.2,119.7C36.7,119.6 37.2,119.4 37.8,119.4C38.3,119.3 38.8,119.3 39.3,119.2C39.8,119.2 40.3,119.0 40.8,119.1C41.3,119.1 41.8,119.5 42.3,119.5C42.7,119.6 43.1,119.5 43.6,119.5C44.1,119.4 44.5,119.2 45.0,119.3C45.4,119.3 45.8,119.6 46.3,119.7C46.8,119.7 47.3,119.5 47.8,119.6C48.2,119.6 48.6,119.9 49.1,120.0C49.6,120.2 50.1,120.2 50.6,120.4C51.1,120.5 51.6,120.6 52.0,121.0C52.4,121.3 52.5,121.9 52.8,122.3C53.2,122.6 53.7,122.8 54.0,123.2C54.3,123.6 54.4,124.1 54.6,124.6C54.7,125.1 55.0,125.5 55.1,126.0C55.2,126.5 55.0,127.0 55.0,127.5C55.0,128.0 55.3,128.4 55.3,128.8C55.2,129.3 55.0,129.8 54.9,130.2C54.8,130.7 54.8,131.1 54.7,131.5Z" fill="none" stroke="#1a1a1a" stroke-width="0.5"/><path d="M55.8,131.5C55.8,132.0 55.6,132.4 55.6,132.9C55.5,133.3 55.7,133.8 55.5,134.2C55.4,134.7 55.2,135.1 55.0,135.5C54.8,135.9 54.6,136.3 54.4,136.7C54.2,137.1 54.0,137.5 53.8,137.9C53.7,138.4 53.6,138.9 53.4,139.3C53.2,139.7 52.8,140.1 52.6,140.5C52.3,140.9 52.1,141.4 51.9,141.9C51.6,142.3 51.2,142.7 50.9,143.1C50.6,143.6 50.3,144.2 50.0,144.8C49.6,145.3 49.2,145.8 48.9,146.5C48.5,147.3 48.1,148.2 47.7,149.3C47.2,150.3 46.7,151.3 46.0,152.9C45.3,154.5 44.5,157.8 43.6,159.1C42.7,160.3 41.3,160.7 40.3,160.5C39.3,160.3 38.4,158.9 37.6,157.8C36.8,156.8 36.2,155.4 35.6,154.4C34.9,153.4 34.2,152.9 33.8,151.8C33.4,150.8 33.3,149.4 33.1,148.3C32.9,147.2 32.8,146.1 32.6,145.2C32.5,144.4 32.3,143.7 32.2,142.9C32.0,142.2 31.9,141.6 31.8,140.9C31.7,140.2 31.8,139.6 31.7,139.0C31.6,138.4 31.3,138.0 31.3,137.4C31.2,136.9 31.3,136.3 31.3,135.8C31.4,135.3 31.5,134.7 31.5,134.3C31.6,133.8 31.5,133.3 31.5,132.9C31.5,132.4 31.7,132.0 31.7,131.5C31.7,131.0 31.6,130.6 31.5,130.1C31.4,129.7 31.2,129.1 31.2,128.7C31.2,128.2 31.6,127.8 31.6,127.3C31.7,126.8 31.4,126.2 31.5,125.7C31.5,125.1 31.7,124.7 31.8,124.1C31.9,123.5 31.9,122.9 32.0,122.2C32.0,121.5 31.7,120.4 32.0,119.9C32.3,119.4 33.2,119.5 33.8,119.2C34.4,119.0 34.9,118.7 35.4,118.5C36.0,118.3 36.6,118.3 37.2,118.2C37.8,118.2 38.3,118.0 38.9,118.0C39.4,118.0 40.0,118.0 40.5,118.0C41.1,118.1 41.6,118.3 42.1,118.3C42.6,118.4 43.1,118.4 43.6,118.3C44.1,118.2 44.6,118.0 45.1,118.0C45.6,118.0 46.1,118.3 46.6,118.4C47.1,118.4 47.7,118.2 48.2,118.3C48.8,118.3 49.2,118.7 49.7,118.8C50.2,119.0 50.8,119.0 51.3,119.2C51.9,119.4 52.3,119.7 52.8,120.0C53.2,120.3 53.7,120.7 54.0,121.1C54.4,121.5 54.8,121.9 55.0,122.4C55.2,122.9 55.3,123.5 55.4,124.1C55.6,124.6 55.8,125.0 55.9,125.6C56.0,126.1 55.8,126.7 55.9,127.2C56.0,127.7 56.3,128.1 56.3,128.6C56.3,129.1 55.9,129.6 55.8,130.1C55.8,130.6 55.9,131.0 55.8,131.5Z" fill="none" stroke="#1a1a1a" stroke-width="0.5"/><path d="M56.7,131.5C56.6,132.0 57.1,132.5 57.0,133.0C56.9,133.5 56.4,133.9 56.2,134.4C56.1,134.9 56.2,135.4 56.1,135.9C55.9,136.3 55.4,136.6 55.2,137.1C55.0,137.5 55.0,138.1 54.8,138.5C54.6,139.0 54.2,139.3 54.0,139.8C53.7,140.2 53.7,140.8 53.4,141.3C53.2,141.8 52.8,142.2 52.5,142.7C52.2,143.2 52.0,143.7 51.6,144.3C51.3,144.9 51.0,145.5 50.6,146.1C50.3,146.8 49.9,147.5 49.5,148.3C49.0,149.1 48.5,149.6 48.0,150.8C47.5,152.0 47.0,153.5 46.3,155.3C45.6,157.2 44.6,160.6 43.6,161.9C42.6,163.2 41.1,163.4 40.0,163.2C38.9,162.9 37.9,161.6 37.0,160.6C36.1,159.6 35.4,158.1 34.7,157.0C34.0,156.0 33.1,155.4 32.7,154.2C32.3,152.9 32.4,150.9 32.2,149.7C32.0,148.4 31.7,147.5 31.6,146.6C31.4,145.6 31.3,144.7 31.2,143.9C31.0,143.1 30.8,142.5 30.7,141.8C30.6,141.0 30.7,140.3 30.7,139.6C30.6,139.0 30.4,138.5 30.3,137.9C30.3,137.3 30.3,136.7 30.3,136.1C30.4,135.6 30.6,135.0 30.6,134.5C30.6,134.0 30.4,133.5 30.3,133.0C30.3,132.5 30.3,132.0 30.3,131.5C30.3,131.0 30.4,130.5 30.4,130.0C30.5,129.5 30.4,129.0 30.4,128.5C30.3,128.0 30.4,127.4 30.4,126.9C30.5,126.3 30.6,125.8 30.7,125.3C30.7,124.7 30.7,124.1 30.7,123.4C30.7,122.7 30.5,121.9 30.6,121.1C30.7,120.4 30.7,119.5 31.1,119.0C31.5,118.5 32.3,118.3 32.8,118.0C33.4,117.7 34.0,117.5 34.7,117.3C35.3,117.1 36.0,117.0 36.6,117.0C37.2,116.9 37.9,117.0 38.5,117.0C39.1,116.9 39.6,116.6 40.2,116.6C40.8,116.5 41.4,116.7 41.9,116.7C42.5,116.7 43.0,116.7 43.6,116.7C44.2,116.7 44.7,116.6 45.3,116.7C45.8,116.7 46.4,116.9 46.9,116.9C47.5,116.9 48.2,116.7 48.7,116.8C49.3,116.9 49.8,117.3 50.3,117.5C50.9,117.7 51.4,117.9 52.0,118.1C52.6,118.3 53.2,118.4 53.8,118.8C54.3,119.1 54.7,119.6 55.1,120.0C55.5,120.5 56.0,120.9 56.3,121.4C56.5,121.9 56.5,122.7 56.7,123.3C56.9,123.8 57.3,124.3 57.4,124.9C57.5,125.4 57.2,126.2 57.2,126.7C57.3,127.3 57.5,127.8 57.6,128.3C57.6,128.9 57.5,129.4 57.4,129.9C57.2,130.5 56.8,131.0 56.7,131.5Z" fill="none" stroke="#1a1a1a" stroke-width="0.5"/><path d="M57.9,131.5C57.9,132.0 58.1,132.6 58.0,133.1C57.9,133.6 57.5,134.1 57.2,134.6C57.0,135.1 56.8,135.5 56.6,136.1C56.5,136.6 56.5,137.1 56.3,137.6C56.2,138.1 55.8,138.5 55.5,139.0C55.3,139.5 55.1,140.0 54.9,140.5C54.7,141.0 54.4,141.6 54.1,142.0C53.8,142.5 53.4,142.9 53.1,143.4C52.8,144.0 52.7,144.8 52.4,145.4C52.0,146.1 51.6,146.5 51.2,147.2C50.8,147.9 50.4,148.7 49.9,149.6C49.5,150.5 49.0,151.3 48.4,152.6C47.9,153.9 47.3,155.6 46.5,157.7C45.7,159.7 44.7,163.5 43.6,164.9C42.5,166.4 40.9,166.6 39.7,166.3C38.5,166.0 37.4,164.2 36.4,163.0C35.4,161.9 34.6,160.5 33.9,159.3C33.1,158.2 32.2,157.5 31.7,156.1C31.3,154.8 31.3,152.7 31.1,151.3C30.9,150.0 30.8,148.9 30.6,147.8C30.4,146.8 30.1,146.0 29.9,145.2C29.8,144.3 29.7,143.5 29.6,142.7C29.4,141.9 29.2,141.3 29.1,140.6C29.0,139.9 28.9,139.3 28.9,138.6C28.8,137.9 28.9,137.3 29.0,136.6C29.0,136.0 29.2,135.4 29.3,134.8C29.3,134.2 29.4,133.6 29.4,133.1C29.4,132.6 29.4,132.0 29.4,131.5C29.4,131.0 29.4,130.4 29.4,129.9C29.4,129.4 29.4,128.8 29.4,128.3C29.4,127.7 29.4,127.1 29.4,126.5C29.5,126.0 29.6,125.4 29.6,124.7C29.6,124.1 29.4,123.3 29.5,122.6C29.5,121.9 29.7,121.3 29.8,120.5C29.9,119.7 29.6,118.5 30.0,117.9C30.3,117.2 31.2,117.0 31.8,116.7C32.4,116.3 33.0,115.9 33.7,115.7C34.4,115.5 35.2,115.6 36.0,115.6C36.7,115.6 37.4,115.7 38.0,115.6C38.7,115.6 39.3,115.3 39.9,115.3C40.5,115.4 41.2,115.7 41.8,115.8C42.4,115.8 43.0,115.8 43.6,115.7C44.2,115.7 44.8,115.6 45.4,115.6C46.0,115.6 46.6,115.6 47.2,115.6C47.8,115.7 48.5,115.7 49.1,115.8C49.7,116.0 50.2,116.3 50.8,116.5C51.5,116.6 52.1,116.8 52.7,117.0C53.3,117.2 54.1,117.3 54.6,117.7C55.2,118.0 55.5,118.7 56.0,119.1C56.4,119.6 57.1,119.9 57.4,120.5C57.8,121.0 57.8,121.8 58.0,122.4C58.2,123.1 58.7,123.6 58.7,124.2C58.7,124.9 58.3,125.7 58.3,126.4C58.2,127.0 58.4,127.5 58.4,128.1C58.3,128.7 58.1,129.3 58.1,129.9C58.0,130.4 58.0,131.0 57.9,131.5Z" fill="none" stroke="#1a1a1a" stroke-width="0.5"/><path d="M59.2,131.5C59.1,132.1 59.0,132.7 58.8,133.2C58.7,133.8 58.4,134.3 58.2,134.8C58.0,135.4 58.0,135.9 57.8,136.5C57.6,137.0 57.2,137.4 57.0,137.9C56.7,138.4 56.6,139.0 56.4,139.6C56.2,140.1 55.9,140.5 55.6,141.1C55.4,141.6 55.3,142.3 55.0,142.9C54.7,143.5 54.3,144.0 54.0,144.5C53.7,145.1 53.3,145.7 52.9,146.4C52.6,147.0 52.2,147.6 51.7,148.4C51.3,149.2 51.0,150.1 50.5,151.1C50.0,152.2 49.5,153.1 48.9,154.6C48.3,156.0 47.7,157.7 46.8,159.9C45.9,162.2 44.9,166.4 43.6,168.0C42.3,169.7 40.6,170.1 39.3,169.8C38.0,169.4 36.8,167.3 35.7,166.0C34.7,164.7 33.9,163.0 33.0,161.8C32.1,160.5 31.1,159.9 30.6,158.5C30.1,157.1 30.0,155.0 29.8,153.4C29.6,151.9 29.5,150.6 29.3,149.4C29.1,148.3 28.9,147.4 28.7,146.4C28.6,145.4 28.5,144.5 28.4,143.6C28.3,142.7 28.2,142.0 28.2,141.2C28.1,140.4 28.0,139.7 28.0,139.0C28.0,138.3 28.2,137.6 28.2,136.9C28.2,136.2 28.0,135.7 27.9,135.1C27.9,134.5 27.9,133.9 27.9,133.3C27.9,132.7 27.9,132.1 28.0,131.5C28.0,130.9 28.2,130.4 28.3,129.8C28.3,129.2 28.2,128.6 28.2,128.0C28.2,127.4 28.2,126.7 28.2,126.1C28.2,125.5 28.3,124.8 28.3,124.1C28.4,123.5 28.5,122.8 28.5,122.0C28.6,121.3 28.6,120.5 28.7,119.6C28.7,118.7 28.4,117.4 28.8,116.7C29.2,116.1 30.3,116.1 31.0,115.7C31.7,115.4 32.3,114.9 33.0,114.7C33.7,114.4 34.5,114.2 35.2,114.1C36.0,114.0 36.7,113.9 37.4,113.9C38.2,113.9 38.9,114.1 39.6,114.1C40.3,114.1 41.0,114.2 41.6,114.2C42.3,114.2 43.0,114.2 43.6,114.3C44.2,114.3 44.9,114.3 45.5,114.2C46.2,114.2 46.9,114.1 47.6,114.1C48.2,114.1 48.9,114.2 49.6,114.3C50.3,114.4 51.0,114.5 51.7,114.7C52.3,115.0 52.9,115.4 53.5,115.7C54.1,116.1 54.9,116.3 55.4,116.6C56.0,117.0 56.6,117.5 57.1,118.0C57.6,118.5 58.0,119.1 58.4,119.7C58.8,120.3 59.0,121.0 59.3,121.6C59.5,122.3 59.8,123.0 59.9,123.7C60.0,124.3 60.0,125.1 60.0,125.8C59.9,126.5 59.9,127.1 59.8,127.8C59.7,128.5 59.4,129.1 59.3,129.7C59.2,130.4 59.2,130.9 59.2,131.5Z" fill="none" stroke="#1a1a1a" stroke-width="0.5"/>
<ellipse cx="43.4" cy="131.6" rx="1.4" ry="3.4" transform="rotate(28 43.4 131.6)" fill="#f2f2f2" stroke="#222" stroke-width="0.4"/>
</g>
<g clip-path="url(#cb2)">
<path d="M140.0,167.9C141.5,179.0 147.0,167.9 148.8,166.6C150.6,165.2 150.0,162.0 150.9,159.9C151.7,157.8 152.6,155.9 153.9,154.1C155.3,152.3 157.4,150.7 159.2,149.0C161.1,147.3 163.5,145.5 165.2,143.7C167.0,142.0 168.5,139.7 169.9,138.3C171.2,136.9 172.5,136.7 173.3,135.2C174.2,133.7 175.0,131.1 175.0,129.2C175.1,127.4 174.5,125.6 173.7,124.1C173.0,122.5 171.8,120.9 170.5,119.8C169.2,118.6 167.3,118.0 165.8,117.2C164.3,116.3 162.6,115.5 161.6,114.6C160.6,113.8 159.8,113.0 159.8,112.1C159.8,111.2 160.6,110.3 161.6,109.2C162.6,108.1 164.3,107.0 165.8,105.5C167.3,104.0 169.1,101.9 170.4,100.2C171.7,98.5 172.6,96.8 173.7,95.4C174.8,94.0 176.0,93.2 176.8,91.9C177.6,90.5 178.5,88.6 178.5,87.1C178.5,85.6 177.9,84.1 177.0,82.9C176.0,81.7 174.6,80.7 172.9,79.8C171.2,79.0 168.8,78.1 166.8,77.9C164.9,77.7 162.9,77.8 161.0,78.5C159.1,79.1 157.1,80.3 155.2,81.8C153.4,83.3 151.1,85.5 149.8,87.7C148.5,89.9 148.9,92.9 147.2,95.0C145.6,97.1 141.2,88.1 140.0,100.2C138.8,112.4 138.6,156.8 140.0,167.9Z" fill="none" stroke="#333" stroke-width="0.5"/>
<path d="M140.6,165.6C142.0,176.2 147.6,165.7 149.4,164.4C151.1,163.1 150.4,159.9 151.1,157.9C151.9,155.9 152.8,154.2 154.0,152.5C155.3,150.8 157.0,149.4 158.8,147.7C160.6,146.0 163.0,143.9 164.8,142.2C166.5,140.5 168.1,138.8 169.5,137.6C170.8,136.3 172.0,136.0 172.8,134.5C173.5,132.9 174.0,130.1 174.0,128.3C174.1,126.5 173.7,125.1 173.0,123.7C172.3,122.3 171.0,120.9 169.8,119.8C168.5,118.8 167.0,118.2 165.6,117.3C164.1,116.4 162.2,115.3 161.2,114.5C160.2,113.7 159.7,113.1 159.8,112.3C159.8,111.5 160.6,110.6 161.6,109.6C162.5,108.5 164.1,107.3 165.6,105.9C167.0,104.5 168.9,102.6 170.1,101.1C171.3,99.5 171.5,97.9 172.6,96.6C173.6,95.3 175.5,94.6 176.3,93.2C177.2,91.9 177.5,90.0 177.5,88.5C177.5,87.0 177.1,85.4 176.3,84.2C175.4,83.0 174.0,82.2 172.4,81.4C170.7,80.6 168.3,79.8 166.4,79.5C164.4,79.3 162.6,79.4 160.8,80.0C158.9,80.7 156.9,82.1 155.2,83.6C153.5,85.1 151.8,87.0 150.6,89.1C149.3,91.2 149.4,94.3 147.7,96.2C146.1,98.1 141.9,89.1 140.7,100.6C139.5,112.2 139.1,154.9 140.6,165.6Z" fill="none" stroke="#333" stroke-width="0.5"/>
<path d="M161.3,92.5C161.4,92.6 161.5,92.8 161.5,92.9C161.6,93.0 161.7,93.2 161.7,93.4C161.8,93.5 161.9,93.7 162.0,93.9C162.0,94.1 162.0,94.2 162.0,94.4C162.0,94.6 162.2,94.9 162.1,95.1C162.1,95.3 161.8,95.3 161.7,95.4C161.6,95.6 161.6,95.9 161.6,96.1C161.5,96.3 161.4,96.5 161.3,96.6C161.1,96.7 160.8,96.6 160.6,96.6C160.4,96.7 160.3,96.8 160.1,96.8C159.9,96.7 159.5,96.4 159.4,96.4C159.2,96.3 159.1,96.5 158.9,96.5C158.8,96.4 158.6,96.3 158.4,96.2C158.3,96.2 158.1,96.3 158.0,96.3C157.9,96.3 157.7,96.2 157.6,96.1C157.5,96.0 157.4,95.8 157.3,95.7C157.2,95.6 157.0,95.7 156.9,95.6C156.8,95.6 156.7,95.5 156.6,95.5C156.4,95.5 156.2,95.6 156.1,95.5C156.0,95.5 155.9,95.4 155.8,95.2C155.8,95.1 155.9,94.8 155.8,94.7C155.8,94.6 155.5,94.6 155.5,94.5C155.5,94.4 155.7,94.1 155.7,94.0C155.7,93.8 155.4,93.9 155.4,93.8C155.4,93.7 155.5,93.5 155.5,93.4C155.5,93.3 155.6,93.2 155.5,93.1C155.4,93.0 155.0,92.9 155.0,92.8C154.9,92.7 155.2,92.6 155.2,92.5C155.2,92.4 155.2,92.3 155.1,92.2C155.0,92.0 154.7,91.9 154.6,91.7C154.5,91.6 154.5,91.4 154.5,91.3C154.5,91.1 154.7,91.1 154.6,90.9C154.6,90.7 154.3,90.4 154.3,90.2C154.3,90.0 154.5,89.9 154.6,89.8C154.6,89.6 154.6,89.4 154.8,89.3C154.9,89.2 155.2,89.3 155.4,89.2C155.5,89.1 155.6,88.9 155.7,88.9C155.9,88.8 156.1,89.0 156.3,89.0C156.5,89.0 156.6,88.9 156.8,89.0C156.9,89.0 157.1,89.0 157.2,89.1C157.4,89.2 157.5,89.4 157.7,89.5C157.8,89.5 157.9,89.5 158.0,89.5C158.1,89.6 158.2,89.7 158.3,89.7C158.4,89.7 158.5,89.7 158.6,89.8C158.7,89.8 158.8,89.9 158.9,89.9C159.0,89.9 159.2,89.9 159.3,89.9C159.4,89.9 159.6,89.8 159.7,89.9C159.7,89.9 159.7,90.2 159.8,90.2C159.9,90.3 160.2,90.2 160.3,90.2C160.4,90.3 160.3,90.5 160.3,90.6C160.4,90.8 160.4,90.9 160.5,91.0C160.5,91.0 160.8,91.0 160.8,91.1C160.9,91.2 160.8,91.4 160.8,91.5C160.8,91.6 160.8,91.7 160.9,91.8C160.9,92.0 161.0,92.0 161.1,92.2C161.2,92.3 161.2,92.4 161.3,92.5Z" fill="none" stroke="#1a1a1a" stroke-width="0.5"/><path d="M161.6,92.5C161.6,92.6 161.4,92.7 161.4,92.9C161.5,93.0 162.0,93.3 162.0,93.4C162.1,93.6 161.7,93.6 161.7,93.8C161.8,94.0 162.1,94.3 162.2,94.5C162.3,94.7 162.3,95.0 162.3,95.2C162.2,95.4 161.9,95.4 161.9,95.6C161.8,95.8 162.0,96.2 161.9,96.4C161.8,96.5 161.4,96.5 161.2,96.6C161.1,96.7 160.9,96.8 160.7,96.9C160.5,96.9 160.2,96.7 160.0,96.7C159.8,96.6 159.6,96.7 159.5,96.7C159.3,96.7 159.1,96.6 159.0,96.7C158.8,96.7 158.7,97.0 158.5,97.0C158.3,96.9 158.2,96.5 158.0,96.5C157.8,96.4 157.7,96.6 157.5,96.6C157.4,96.6 157.2,96.5 157.1,96.5C156.9,96.5 156.8,96.4 156.7,96.3C156.5,96.2 156.5,96.0 156.4,95.9C156.3,95.8 156.1,95.7 156.0,95.6C155.9,95.6 155.7,95.6 155.6,95.5C155.5,95.4 155.3,95.3 155.3,95.2C155.3,95.0 155.5,94.6 155.5,94.5C155.5,94.3 155.3,94.4 155.2,94.3C155.1,94.2 155.1,94.0 155.1,93.9C155.0,93.8 154.9,93.7 154.9,93.6C155.0,93.4 155.3,93.2 155.3,93.1C155.3,93.0 154.8,93.0 154.8,92.9C154.8,92.8 155.1,92.6 155.1,92.5C155.2,92.4 155.0,92.3 154.9,92.2C154.8,92.0 154.7,91.9 154.7,91.7C154.6,91.6 154.4,91.4 154.4,91.2C154.4,91.1 154.6,91.0 154.5,90.8C154.5,90.7 154.3,90.3 154.3,90.1C154.2,90.0 154.4,89.8 154.5,89.7C154.6,89.6 154.7,89.5 154.9,89.4C155.0,89.3 155.1,89.2 155.3,89.1C155.5,89.1 155.7,89.1 155.9,89.1C156.0,89.1 156.2,89.2 156.4,89.2C156.6,89.2 156.7,89.2 156.9,89.2C157.0,89.2 157.1,89.1 157.2,89.0C157.3,89.0 157.5,88.9 157.6,89.0C157.7,89.0 157.9,89.3 158.0,89.4C158.1,89.5 158.2,89.6 158.3,89.5C158.5,89.5 158.7,89.1 158.8,89.1C158.9,89.1 159.0,89.3 159.1,89.4C159.2,89.5 159.3,89.5 159.4,89.5C159.5,89.6 159.6,89.7 159.7,89.7C159.9,89.8 160.1,89.7 160.2,89.7C160.3,89.8 160.5,89.8 160.6,89.9C160.7,90.0 160.6,90.3 160.6,90.4C160.7,90.5 160.8,90.6 160.8,90.8C160.8,90.9 160.7,91.1 160.7,91.2C160.8,91.3 161.2,91.3 161.3,91.4C161.3,91.5 161.0,91.7 161.0,91.8C161.0,91.9 161.2,92.0 161.3,92.1C161.4,92.2 161.6,92.4 161.6,92.5Z" fill="none" stroke="#1a1a1a" stroke-width="0.5"/><path d="M162.0,92.5C162.0,92.6 161.7,92.8 161.8,92.9C161.8,93.1 162.1,93.3 162.2,93.5C162.3,93.6 162.4,93.9 162.4,94.1C162.5,94.2 162.4,94.4 162.4,94.6C162.4,94.8 162.6,95.1 162.5,95.3C162.5,95.5 162.2,95.6 162.1,95.8C162.0,96.0 162.1,96.3 162.0,96.5C161.8,96.6 161.5,96.6 161.4,96.8C161.2,96.9 161.2,97.2 161.0,97.3C160.8,97.4 160.5,97.2 160.2,97.2C160.0,97.2 159.9,97.2 159.7,97.3C159.5,97.3 159.3,97.5 159.2,97.5C159.0,97.6 158.7,97.4 158.6,97.4C158.4,97.4 158.2,97.5 158.0,97.4C157.8,97.3 157.7,97.1 157.5,97.0C157.3,96.9 157.2,96.8 157.0,96.8C156.9,96.8 156.7,96.8 156.5,96.7C156.4,96.7 156.2,96.5 156.1,96.4C156.0,96.3 155.9,96.2 155.7,96.1C155.6,96.0 155.4,96.0 155.3,95.9C155.2,95.8 155.2,95.5 155.2,95.3C155.1,95.2 155.1,95.0 155.1,94.8C155.0,94.7 154.8,94.7 154.8,94.5C154.7,94.4 154.7,94.2 154.7,94.1C154.7,93.9 154.7,93.8 154.8,93.6C154.8,93.5 154.8,93.4 154.8,93.2C154.8,93.1 154.8,93.0 154.9,92.9C154.9,92.7 154.9,92.6 154.9,92.5C154.9,92.4 154.8,92.3 154.8,92.1C154.7,92.0 154.5,91.8 154.4,91.7C154.3,91.5 154.3,91.3 154.3,91.2C154.3,91.0 154.4,91.0 154.4,90.8C154.4,90.6 154.2,90.3 154.2,90.1C154.2,89.9 154.3,89.7 154.3,89.6C154.4,89.4 154.5,89.3 154.7,89.2C154.8,89.1 155.0,89.0 155.1,88.9C155.3,88.8 155.5,88.8 155.6,88.8C155.8,88.8 156.1,88.9 156.3,88.9C156.5,88.9 156.5,88.8 156.7,88.8C156.9,88.8 157.1,89.0 157.2,89.0C157.4,89.1 157.5,89.0 157.6,89.0C157.7,89.0 157.9,88.9 158.0,88.9C158.1,88.9 158.3,88.9 158.4,88.9C158.5,88.9 158.6,89.1 158.8,89.1C158.9,89.1 159.1,88.9 159.3,88.9C159.4,88.8 159.5,89.0 159.7,89.0C159.8,89.1 160.0,89.1 160.1,89.2C160.2,89.3 160.2,89.5 160.3,89.6C160.4,89.7 160.7,89.6 160.8,89.7C160.9,89.8 160.8,90.0 160.9,90.2C161.0,90.3 161.2,90.3 161.2,90.5C161.3,90.6 161.2,90.8 161.3,90.9C161.3,91.0 161.5,91.1 161.6,91.3C161.6,91.4 161.6,91.5 161.6,91.7C161.7,91.8 161.8,91.9 161.8,92.1C161.9,92.2 162.0,92.4 162.0,92.5Z" fill="none" stroke="#1a1a1a" stroke-width="0.5"/><path d="M162.1,92.5C162.2,92.7 162.4,92.8 162.4,93.0C162.5,93.2 162.5,93.4 162.6,93.5C162.6,93.7 162.7,94.0 162.7,94.2C162.7,94.4 162.6,94.5 162.6,94.7C162.6,94.9 162.8,95.3 162.8,95.5C162.9,95.8 162.8,96.1 162.7,96.3C162.6,96.5 162.5,96.6 162.3,96.8C162.2,97.0 162.1,97.3 161.9,97.4C161.7,97.6 161.5,97.7 161.3,97.7C161.1,97.8 160.7,97.7 160.5,97.7C160.3,97.7 160.1,97.8 159.9,97.8C159.6,97.8 159.4,97.7 159.2,97.7C159.0,97.7 158.8,98.0 158.6,98.0C158.4,98.1 158.2,98.1 158.0,98.0C157.8,98.0 157.6,97.7 157.4,97.6C157.2,97.5 157.0,97.6 156.9,97.5C156.7,97.5 156.5,97.4 156.3,97.4C156.1,97.3 155.9,97.3 155.8,97.2C155.6,97.0 155.6,96.7 155.4,96.6C155.2,96.5 154.9,96.7 154.7,96.6C154.6,96.5 154.6,96.2 154.6,95.9C154.5,95.7 154.5,95.5 154.5,95.3C154.5,95.1 154.6,94.8 154.6,94.6C154.6,94.5 154.5,94.3 154.5,94.2C154.4,94.1 154.3,93.9 154.3,93.8C154.3,93.6 154.4,93.5 154.4,93.3C154.4,93.2 154.3,93.0 154.4,92.9C154.4,92.8 154.7,92.6 154.7,92.5C154.7,92.4 154.7,92.3 154.6,92.1C154.5,92.0 154.5,91.8 154.4,91.7C154.3,91.5 154.2,91.3 154.2,91.2C154.2,91.0 154.4,90.9 154.4,90.7C154.3,90.6 154.2,90.3 154.2,90.1C154.1,89.9 154.2,89.7 154.3,89.6C154.4,89.4 154.7,89.4 154.8,89.3C155.0,89.2 155.0,89.0 155.1,88.9C155.3,88.8 155.5,88.9 155.7,88.9C155.9,88.9 156.1,88.9 156.3,88.9C156.4,88.9 156.6,88.9 156.7,88.9C156.9,88.8 157.0,88.8 157.1,88.8C157.3,88.8 157.4,88.8 157.6,88.9C157.7,88.9 157.9,88.8 158.0,88.8C158.1,88.8 158.3,88.9 158.4,88.9C158.6,88.8 158.7,88.6 158.9,88.6C159.0,88.6 159.2,88.7 159.3,88.7C159.5,88.7 159.7,88.6 159.9,88.6C160.1,88.6 160.2,88.7 160.4,88.7C160.5,88.8 160.6,89.0 160.8,89.0C160.9,89.1 161.3,89.0 161.4,89.1C161.5,89.3 161.2,89.7 161.3,89.9C161.3,90.1 161.5,90.1 161.6,90.3C161.6,90.4 161.6,90.6 161.6,90.7C161.7,90.9 161.8,91.0 161.8,91.2C161.8,91.3 161.7,91.5 161.8,91.6C161.8,91.8 162.2,91.9 162.2,92.0C162.3,92.2 162.1,92.3 162.1,92.5Z" fill="none" stroke="#1a1a1a" stroke-width="0.5"/><path d="M162.6,92.5C162.6,92.7 162.5,92.8 162.6,93.0C162.6,93.2 162.9,93.4 162.9,93.6C163.0,93.8 162.8,94.0 162.8,94.2C162.8,94.4 163.0,94.7 163.1,94.9C163.1,95.2 163.0,95.4 163.0,95.6C163.0,95.9 163.0,96.2 163.0,96.5C162.9,96.7 162.9,97.0 162.7,97.2C162.6,97.5 162.4,97.6 162.2,97.7C162.0,97.9 161.7,97.9 161.4,98.0C161.2,98.1 161.1,98.3 160.8,98.4C160.6,98.5 160.3,98.5 160.1,98.5C159.9,98.5 159.6,98.5 159.4,98.5C159.1,98.5 158.9,98.3 158.7,98.4C158.4,98.4 158.2,98.6 158.0,98.6C157.8,98.6 157.6,98.4 157.3,98.4C157.1,98.4 156.9,98.4 156.7,98.4C156.4,98.4 156.2,98.3 156.0,98.2C155.8,98.1 155.6,98.0 155.4,97.8C155.3,97.7 155.1,97.5 154.9,97.4C154.7,97.3 154.3,97.4 154.2,97.3C154.1,97.1 154.2,96.6 154.2,96.3C154.2,96.0 154.3,95.7 154.2,95.5C154.2,95.3 154.1,95.2 154.1,95.0C154.0,94.8 154.0,94.6 154.0,94.4C154.0,94.2 154.2,94.0 154.2,93.8C154.2,93.7 154.1,93.6 154.0,93.4C154.0,93.3 153.9,93.1 154.0,93.0C154.0,92.8 154.2,92.6 154.2,92.5C154.3,92.4 154.2,92.2 154.2,92.1C154.2,91.9 154.3,91.8 154.3,91.7C154.3,91.5 154.3,91.4 154.2,91.2C154.1,91.0 153.9,90.7 153.9,90.5C153.9,90.3 154.1,90.3 154.2,90.1C154.2,89.9 154.0,89.6 154.1,89.4C154.1,89.2 154.3,89.0 154.4,88.9C154.6,88.8 154.8,88.8 155.0,88.7C155.2,88.7 155.4,88.8 155.6,88.7C155.8,88.6 155.8,88.3 156.0,88.3C156.1,88.3 156.4,88.4 156.6,88.5C156.8,88.5 156.9,88.4 157.1,88.4C157.2,88.4 157.4,88.5 157.5,88.5C157.7,88.4 157.8,88.1 158.0,88.1C158.2,88.0 158.3,88.2 158.5,88.2C158.6,88.2 158.8,88.2 159.0,88.2C159.2,88.2 159.4,88.1 159.5,88.1C159.7,88.1 159.8,88.3 160.0,88.3C160.2,88.3 160.5,88.2 160.7,88.2C160.9,88.2 161.1,88.3 161.2,88.4C161.4,88.5 161.5,88.7 161.6,88.9C161.8,89.0 162.0,89.1 162.1,89.3C162.2,89.4 162.2,89.6 162.2,89.8C162.2,90.1 162.0,90.4 162.0,90.6C162.0,90.8 162.3,90.8 162.4,91.0C162.4,91.1 162.3,91.3 162.3,91.5C162.4,91.7 162.7,91.8 162.8,92.0C162.8,92.1 162.6,92.3 162.6,92.5Z" fill="none" stroke="#1a1a1a" stroke-width="0.5"/><path d="M163.3,92.5C163.3,92.7 163.2,92.9 163.2,93.1C163.2,93.3 163.2,93.5 163.3,93.7C163.3,93.9 163.2,94.1 163.3,94.3C163.3,94.6 163.7,95.0 163.7,95.2C163.7,95.5 163.4,95.6 163.4,95.9C163.3,96.1 163.4,96.5 163.4,96.8C163.3,97.0 163.1,97.2 162.9,97.4C162.8,97.7 162.7,97.9 162.5,98.1C162.3,98.3 162.1,98.5 161.8,98.6C161.6,98.7 161.4,98.9 161.1,99.0C160.8,99.0 160.5,98.9 160.3,98.9C160.0,99.0 159.8,99.4 159.6,99.4C159.3,99.5 159.0,99.2 158.8,99.2C158.5,99.2 158.3,99.4 158.0,99.4C157.7,99.4 157.5,99.2 157.3,99.1C157.0,99.0 156.8,99.0 156.5,98.9C156.3,98.9 156.0,98.9 155.8,98.8C155.5,98.8 155.3,98.7 155.1,98.6C154.9,98.4 154.7,98.3 154.5,98.1C154.2,98.0 153.9,98.1 153.7,97.9C153.5,97.7 153.4,97.4 153.4,97.1C153.4,96.8 153.7,96.2 153.7,95.9C153.7,95.6 153.7,95.4 153.7,95.2C153.6,95.0 153.6,94.8 153.6,94.6C153.5,94.4 153.4,94.3 153.4,94.1C153.3,93.9 153.4,93.7 153.5,93.5C153.5,93.3 153.7,93.1 153.8,93.0C153.9,92.8 154.1,92.7 154.1,92.5C154.1,92.3 153.8,92.2 153.8,92.0C153.7,91.9 153.9,91.7 153.9,91.6C154.0,91.4 153.9,91.2 153.9,91.1C153.8,90.9 153.8,90.7 153.8,90.5C153.8,90.3 153.8,90.1 153.9,89.9C154.0,89.7 154.1,89.6 154.1,89.4C154.2,89.2 154.2,88.9 154.3,88.8C154.4,88.7 154.8,88.7 154.9,88.7C155.1,88.6 155.3,88.6 155.5,88.5C155.6,88.4 155.7,88.2 155.9,88.2C156.1,88.1 156.4,88.3 156.5,88.4C156.7,88.4 156.9,88.3 157.0,88.2C157.2,88.1 157.3,87.8 157.5,87.8C157.6,87.8 157.8,88.2 158.0,88.1C158.2,88.1 158.4,87.7 158.6,87.6C158.7,87.4 159.0,87.5 159.1,87.5C159.3,87.5 159.5,87.6 159.7,87.6C159.9,87.6 160.1,87.6 160.4,87.6C160.6,87.6 160.9,87.5 161.1,87.5C161.4,87.5 161.7,87.5 161.9,87.6C162.0,87.8 162.0,88.1 162.1,88.4C162.3,88.6 162.4,88.7 162.5,88.9C162.6,89.1 162.6,89.3 162.7,89.6C162.7,89.8 162.8,90.0 162.8,90.2C162.8,90.4 162.8,90.6 162.8,90.8C162.8,91.0 162.8,91.2 162.8,91.4C162.9,91.6 163.0,91.7 163.1,91.9C163.2,92.1 163.3,92.3 163.3,92.5Z" fill="none" stroke="#1a1a1a" stroke-width="0.5"/><path d="M163.9,92.5C163.9,92.7 163.7,92.9 163.7,93.1C163.6,93.4 163.7,93.6 163.8,93.8C163.8,94.1 164.0,94.4 164.1,94.6C164.1,94.9 164.1,95.2 164.1,95.4C164.1,95.7 164.1,96.0 164.0,96.3C163.9,96.5 163.6,96.6 163.5,96.9C163.5,97.2 163.5,97.6 163.4,97.9C163.3,98.2 163.1,98.5 163.0,98.7C162.8,99.0 162.6,99.2 162.3,99.3C162.0,99.5 161.7,99.5 161.4,99.6C161.1,99.7 160.8,99.6 160.5,99.7C160.2,99.8 160.1,100.2 159.8,100.3C159.5,100.4 159.2,100.1 158.9,100.1C158.6,100.1 158.3,100.3 158.0,100.4C157.7,100.4 157.4,100.4 157.1,100.3C156.8,100.3 156.5,100.2 156.3,100.0C156.0,99.9 155.8,99.7 155.5,99.6C155.3,99.5 155.0,99.4 154.7,99.4C154.4,99.3 154.0,99.4 153.8,99.2C153.5,99.1 153.4,98.7 153.2,98.5C153.1,98.2 152.8,98.1 152.7,97.8C152.7,97.4 152.9,96.9 152.9,96.5C153.0,96.2 153.1,95.8 153.1,95.6C153.1,95.3 152.9,95.2 153.0,94.9C153.0,94.7 153.2,94.4 153.3,94.2C153.3,93.9 153.4,93.7 153.4,93.6C153.4,93.4 153.4,93.2 153.4,93.0C153.5,92.8 153.7,92.7 153.7,92.5C153.8,92.3 153.8,92.2 153.8,92.0C153.8,91.9 153.6,91.7 153.6,91.5C153.6,91.3 153.6,91.1 153.6,90.9C153.5,90.8 153.5,90.5 153.5,90.4C153.6,90.2 153.9,90.1 154.0,90.0C154.0,89.8 154.0,89.5 154.0,89.3C154.1,89.2 154.3,89.0 154.4,88.9C154.5,88.8 154.6,88.6 154.8,88.4C154.9,88.3 155.2,88.3 155.3,88.3C155.5,88.2 155.6,87.9 155.8,87.9C156.0,87.8 156.2,88.0 156.4,88.0C156.6,88.0 156.8,88.0 157.0,88.0C157.1,87.9 157.3,87.6 157.4,87.5C157.6,87.4 157.8,87.7 158.0,87.6C158.2,87.5 158.4,87.2 158.6,87.1C158.8,87.0 159.0,87.0 159.3,87.0C159.5,86.9 159.8,86.7 160.0,86.7C160.3,86.7 160.5,86.8 160.7,86.8C161.0,86.8 161.3,86.8 161.5,86.9C161.8,87.0 162.0,87.1 162.2,87.2C162.4,87.3 162.8,87.4 162.9,87.6C163.0,87.8 163.0,88.2 163.1,88.5C163.2,88.7 163.3,88.9 163.4,89.1C163.5,89.3 163.5,89.6 163.4,89.9C163.4,90.1 163.3,90.4 163.3,90.6C163.3,90.9 163.4,91.0 163.5,91.3C163.5,91.5 163.5,91.7 163.6,91.9C163.7,92.1 163.9,92.3 163.9,92.5Z" fill="none" stroke="#1a1a1a" stroke-width="0.5"/><path d="M164.5,92.5C164.5,92.7 164.3,93.0 164.3,93.2C164.3,93.5 164.5,93.7 164.6,94.0C164.6,94.3 164.6,94.5 164.6,94.8C164.5,95.0 164.3,95.2 164.3,95.5C164.3,95.8 164.5,96.3 164.5,96.6C164.4,96.9 164.2,97.1 164.0,97.3C163.9,97.6 163.8,97.9 163.6,98.1C163.5,98.4 163.4,98.8 163.3,99.1C163.1,99.3 162.7,99.4 162.5,99.7C162.3,99.9 162.1,100.2 161.8,100.4C161.5,100.6 161.2,100.6 160.9,100.7C160.6,100.8 160.2,100.9 159.9,101.0C159.6,101.1 159.3,101.3 159.0,101.3C158.7,101.4 158.3,101.1 158.0,101.1C157.7,101.1 157.3,101.3 157.0,101.2C156.7,101.2 156.4,100.8 156.1,100.7C155.8,100.6 155.5,100.6 155.2,100.6C154.8,100.6 154.4,100.7 154.1,100.6C153.8,100.6 153.5,100.3 153.3,100.0C153.0,99.8 152.7,99.7 152.5,99.4C152.3,99.1 152.3,98.7 152.2,98.3C152.1,98.0 152.0,97.6 152.0,97.3C152.1,96.9 152.2,96.4 152.3,96.1C152.3,95.8 152.2,95.5 152.3,95.3C152.3,95.0 152.6,94.6 152.6,94.4C152.7,94.1 152.6,93.9 152.6,93.7C152.7,93.5 152.9,93.3 153.0,93.1C153.1,92.9 153.2,92.7 153.2,92.5C153.3,92.3 153.3,92.2 153.3,92.0C153.3,91.8 153.3,91.6 153.3,91.4C153.3,91.2 153.4,91.1 153.5,90.9C153.5,90.7 153.5,90.5 153.6,90.4C153.6,90.2 153.8,90.1 153.8,89.8C153.8,89.6 153.7,89.3 153.7,89.1C153.8,88.9 154.0,88.8 154.2,88.7C154.3,88.5 154.4,88.3 154.6,88.2C154.8,88.1 155.0,88.2 155.2,88.1C155.4,88.0 155.5,87.8 155.7,87.7C155.9,87.6 156.1,87.7 156.3,87.6C156.5,87.5 156.6,87.4 156.8,87.3C157.0,87.2 157.2,87.2 157.4,87.1C157.6,87.0 157.8,86.9 158.0,86.8C158.2,86.7 158.4,86.7 158.7,86.7C158.9,86.6 159.1,86.5 159.4,86.5C159.6,86.5 159.8,86.5 160.1,86.4C160.4,86.4 160.7,86.2 161.0,86.2C161.3,86.2 161.5,86.4 161.8,86.4C162.1,86.4 162.7,86.2 163.0,86.3C163.3,86.3 163.4,86.7 163.5,87.0C163.7,87.2 163.9,87.4 164.0,87.8C164.0,88.1 163.8,88.6 163.8,88.9C163.8,89.2 164.0,89.3 164.1,89.6C164.2,89.8 164.3,90.0 164.4,90.3C164.4,90.5 164.3,90.8 164.3,91.1C164.3,91.3 164.2,91.6 164.3,91.8C164.3,92.0 164.5,92.3 164.5,92.5Z" fill="none" stroke="#1a1a1a" stroke-width="0.5"/><path d="M165.0,92.5C165.0,92.8 165.0,93.0 164.9,93.3C164.9,93.5 164.9,93.8 164.9,94.1C164.9,94.4 164.9,94.6 164.9,94.9C164.9,95.2 165.0,95.5 165.0,95.9C165.0,96.2 164.9,96.5 164.9,96.8C164.9,97.2 165.0,97.7 164.8,98.0C164.7,98.3 164.3,98.4 164.1,98.6C163.9,98.9 163.8,99.2 163.6,99.5C163.4,99.8 163.2,100.1 162.9,100.4C162.7,100.6 162.3,100.7 162.0,100.9C161.7,101.1 161.5,101.3 161.2,101.5C160.8,101.7 160.5,101.8 160.1,101.9C159.8,102.0 159.5,102.2 159.1,102.2C158.7,102.3 158.4,102.1 158.0,102.2C157.6,102.2 157.2,102.5 156.9,102.4C156.5,102.4 156.2,102.0 155.8,101.9C155.5,101.9 155.0,102.1 154.7,102.0C154.3,101.9 154.0,101.7 153.6,101.6C153.3,101.4 153.0,101.2 152.6,101.0C152.3,100.8 151.9,100.7 151.7,100.4C151.4,100.1 151.1,99.9 151.1,99.4C151.1,98.9 151.6,98.0 151.6,97.6C151.7,97.1 151.5,96.9 151.6,96.5C151.6,96.2 151.8,95.8 151.9,95.5C151.9,95.1 151.7,94.9 151.8,94.7C151.8,94.4 151.9,94.1 152.0,93.9C152.2,93.6 152.5,93.3 152.6,93.1C152.7,92.9 152.8,92.7 152.8,92.5C152.9,92.3 153.1,92.1 153.1,91.9C153.2,91.8 153.1,91.6 153.2,91.4C153.2,91.2 153.3,91.1 153.4,90.9C153.4,90.7 153.3,90.5 153.3,90.2C153.3,90.0 153.2,89.7 153.2,89.5C153.3,89.3 153.6,89.3 153.8,89.1C153.9,89.0 154.0,88.8 154.1,88.6C154.3,88.5 154.4,88.3 154.6,88.2C154.7,88.1 155.0,88.1 155.1,87.9C155.3,87.8 155.4,87.6 155.6,87.5C155.7,87.3 155.9,87.2 156.1,87.2C156.3,87.1 156.6,87.2 156.8,87.1C157.0,87.0 157.2,86.9 157.4,86.8C157.6,86.7 157.8,86.5 158.0,86.3C158.2,86.1 158.5,85.9 158.8,85.8C159.0,85.6 159.3,85.6 159.6,85.5C159.9,85.5 160.1,85.6 160.4,85.5C160.8,85.4 161.3,85.1 161.6,85.1C161.9,85.1 162.0,85.5 162.3,85.6C162.6,85.8 163.0,85.7 163.4,85.8C163.7,85.9 164.2,85.9 164.4,86.1C164.6,86.4 164.5,86.9 164.6,87.3C164.6,87.6 164.5,88.1 164.5,88.4C164.6,88.7 164.8,88.9 164.9,89.2C165.0,89.4 165.1,89.7 165.1,90.0C165.2,90.3 165.0,90.6 165.0,90.9C164.9,91.2 164.9,91.5 164.9,91.7C164.9,92.0 165.0,92.2 165.0,92.5Z" fill="none" stroke="#1a1a1a" stroke-width="0.5"/><path d="M165.6,92.5C165.6,92.8 165.6,93.1 165.6,93.4C165.7,93.7 165.9,94.0 166.0,94.3C166.0,94.6 165.7,94.9 165.7,95.2C165.7,95.5 165.9,95.9 165.8,96.3C165.7,96.6 165.4,96.8 165.3,97.1C165.2,97.4 165.2,97.9 165.1,98.2C165.0,98.5 164.8,98.8 164.6,99.1C164.4,99.4 164.3,99.9 164.1,100.2C163.9,100.5 163.6,100.7 163.3,101.0C163.1,101.3 162.8,101.5 162.5,101.7C162.1,102.0 161.8,102.3 161.5,102.5C161.2,102.7 160.8,102.9 160.4,103.0C160.0,103.1 159.6,103.0 159.2,103.1C158.8,103.2 158.4,103.3 158.0,103.3C157.6,103.4 157.1,103.7 156.7,103.6C156.3,103.5 156.0,103.1 155.6,103.0C155.2,102.9 154.8,103.0 154.3,103.0C153.9,102.9 153.5,102.7 153.2,102.6C152.8,102.4 152.4,102.2 152.0,102.0C151.7,101.8 151.3,101.6 151.0,101.3C150.8,100.9 150.5,100.5 150.5,100.0C150.5,99.5 150.8,98.7 150.9,98.2C150.9,97.7 150.9,97.3 150.9,97.0C150.9,96.6 150.8,96.3 150.9,95.9C150.9,95.6 151.1,95.2 151.1,94.9C151.2,94.6 151.2,94.3 151.4,94.0C151.5,93.7 151.9,93.4 152.1,93.2C152.3,92.9 152.4,92.7 152.5,92.5C152.5,92.3 152.4,92.1 152.5,91.9C152.5,91.7 152.6,91.5 152.7,91.3C152.8,91.1 152.8,90.9 152.8,90.7C152.9,90.5 153.0,90.3 153.1,90.1C153.2,89.9 153.1,89.7 153.2,89.5C153.2,89.3 153.3,89.1 153.4,88.9C153.5,88.7 153.6,88.4 153.8,88.3C153.9,88.1 154.3,88.2 154.5,88.1C154.7,88.0 154.8,87.8 154.9,87.6C155.1,87.5 155.2,87.2 155.4,87.1C155.6,87.0 155.9,87.1 156.1,87.0C156.3,87.0 156.5,86.8 156.7,86.7C156.9,86.6 157.1,86.4 157.3,86.3C157.5,86.1 157.7,86.2 158.0,86.0C158.3,85.8 158.5,85.4 158.8,85.2C159.1,85.0 159.5,84.8 159.8,84.7C160.1,84.6 160.4,84.8 160.7,84.8C161.0,84.8 161.4,84.6 161.8,84.6C162.2,84.6 162.5,84.7 162.9,84.8C163.2,84.8 163.7,84.7 164.1,84.9C164.4,85.0 164.7,85.3 164.9,85.6C165.1,85.9 165.2,86.3 165.4,86.6C165.5,87.0 165.5,87.4 165.6,87.7C165.6,88.1 165.6,88.5 165.5,88.9C165.5,89.2 165.4,89.6 165.5,89.9C165.5,90.2 165.8,90.4 165.8,90.7C165.8,91.0 165.6,91.4 165.5,91.7C165.5,91.9 165.6,92.2 165.6,92.5Z" fill="none" stroke="#1a1a1a" stroke-width="0.5"/><path d="M166.4,92.5C166.4,92.8 166.5,93.1 166.5,93.5C166.5,93.8 166.5,94.1 166.4,94.4C166.4,94.7 166.2,95.0 166.2,95.4C166.1,95.7 166.2,96.1 166.2,96.5C166.2,96.8 166.1,97.1 166.0,97.5C166.0,97.9 166.0,98.4 165.9,98.8C165.8,99.2 165.5,99.4 165.3,99.8C165.1,100.2 165.0,100.7 164.8,101.0C164.6,101.4 164.3,101.7 164.0,102.0C163.7,102.3 163.3,102.6 163.0,102.9C162.6,103.1 162.3,103.4 161.9,103.6C161.5,103.8 161.1,104.0 160.7,104.2C160.2,104.4 159.8,104.5 159.4,104.7C158.9,104.8 158.5,104.9 158.0,104.9C157.5,104.9 157.1,104.9 156.6,104.8C156.2,104.8 155.7,104.6 155.3,104.5C154.8,104.4 154.3,104.4 153.9,104.3C153.4,104.1 153.1,103.8 152.6,103.7C152.2,103.5 151.7,103.5 151.2,103.3C150.8,103.1 150.3,102.8 150.1,102.4C149.8,102.0 149.7,101.4 149.7,100.8C149.7,100.2 149.9,99.4 150.1,98.8C150.2,98.3 150.2,97.8 150.3,97.4C150.3,96.9 150.4,96.5 150.4,96.1C150.5,95.8 150.3,95.5 150.4,95.2C150.5,94.8 150.8,94.4 151.0,94.1C151.2,93.8 151.5,93.5 151.6,93.2C151.7,93.0 151.5,92.7 151.6,92.5C151.7,92.3 151.9,92.0 152.0,91.8C152.2,91.6 152.4,91.4 152.6,91.3C152.7,91.1 152.7,90.9 152.8,90.7C152.8,90.5 152.9,90.3 152.9,90.1C153.0,89.9 153.0,89.6 153.1,89.4C153.1,89.2 153.1,88.9 153.2,88.7C153.3,88.5 153.4,88.3 153.6,88.1C153.8,88.0 154.0,87.9 154.2,87.8C154.4,87.6 154.7,87.6 154.9,87.5C155.0,87.4 155.2,87.2 155.4,87.0C155.5,86.9 155.7,86.7 155.9,86.6C156.1,86.5 156.3,86.2 156.5,86.1C156.8,86.0 157.0,86.0 157.3,85.9C157.5,85.7 157.7,85.4 158.0,85.1C158.3,84.9 158.6,84.6 158.9,84.4C159.2,84.2 159.6,84.0 160.0,83.9C160.3,83.9 160.6,84.1 161.0,84.0C161.4,84.0 161.9,83.6 162.3,83.5C162.7,83.5 163.0,83.8 163.4,83.8C163.9,83.9 164.5,83.7 164.9,83.8C165.3,83.9 165.6,84.3 165.8,84.7C166.1,85.0 166.3,85.4 166.4,85.8C166.5,86.2 166.5,86.7 166.5,87.2C166.5,87.6 166.3,88.1 166.3,88.5C166.3,88.9 166.4,89.2 166.4,89.6C166.5,89.9 166.7,90.2 166.7,90.5C166.7,90.8 166.6,91.2 166.5,91.5C166.5,91.9 166.4,92.2 166.4,92.5Z" fill="none" stroke="#1a1a1a" stroke-width="0.5"/><path d="M167.3,92.5C167.3,92.8 167.3,93.2 167.3,93.6C167.3,93.9 167.4,94.3 167.3,94.6C167.3,95.0 167.3,95.4 167.3,95.7C167.2,96.1 167.0,96.4 166.9,96.8C166.9,97.2 167.0,97.7 166.9,98.1C166.8,98.5 166.6,98.9 166.4,99.2C166.2,99.6 165.9,99.8 165.7,100.2C165.5,100.6 165.5,101.2 165.3,101.7C165.1,102.1 164.8,102.4 164.4,102.8C164.1,103.1 163.6,103.1 163.3,103.5C162.9,103.8 162.7,104.6 162.3,104.9C161.9,105.1 161.4,105.0 160.9,105.2C160.4,105.3 160.0,105.6 159.5,105.8C159.0,105.9 158.5,106.1 158.0,106.1C157.5,106.2 157.0,106.2 156.5,106.1C156.0,106.0 155.5,105.7 155.0,105.6C154.5,105.5 154.0,105.4 153.5,105.3C153.0,105.2 152.5,105.1 152.0,104.9C151.5,104.8 151.1,104.4 150.6,104.2C150.2,104.0 149.5,104.0 149.1,103.6C148.8,103.2 148.7,102.5 148.6,101.9C148.6,101.2 148.8,100.4 148.9,99.7C149.0,99.1 149.3,98.4 149.4,97.9C149.5,97.4 149.5,97.0 149.6,96.5C149.7,96.1 149.8,95.7 149.9,95.3C149.9,95.0 149.9,94.7 150.0,94.3C150.1,94.0 150.5,93.6 150.6,93.3C150.8,93.0 150.9,92.8 151.1,92.5C151.2,92.2 151.4,92.0 151.6,91.8C151.7,91.5 151.8,91.3 152.0,91.1C152.1,90.9 152.3,90.8 152.4,90.5C152.5,90.3 152.3,90.0 152.4,89.8C152.4,89.6 152.6,89.4 152.8,89.2C153.0,89.1 153.2,89.0 153.4,88.8C153.5,88.6 153.6,88.4 153.7,88.2C153.9,88.0 154.1,88.0 154.2,87.8C154.4,87.6 154.4,87.2 154.6,87.0C154.7,86.8 154.9,86.6 155.1,86.5C155.3,86.3 155.6,86.5 155.8,86.3C156.0,86.1 156.2,85.6 156.4,85.4C156.6,85.2 156.9,85.3 157.2,85.1C157.4,85.0 157.7,84.7 158.0,84.4C158.3,84.2 158.6,83.9 159.0,83.7C159.4,83.4 159.7,83.3 160.1,83.1C160.5,83.0 161.0,82.9 161.4,82.8C161.8,82.7 162.3,82.6 162.7,82.7C163.2,82.7 163.5,82.9 164.0,83.0C164.5,83.0 165.2,82.8 165.6,82.9C166.1,83.1 166.5,83.4 166.7,83.8C167.0,84.2 166.9,84.8 167.0,85.3C167.1,85.8 167.2,86.3 167.2,86.7C167.3,87.2 167.3,87.6 167.3,88.0C167.3,88.4 167.2,88.9 167.2,89.3C167.1,89.7 167.2,90.0 167.3,90.4C167.3,90.7 167.3,91.1 167.3,91.5C167.3,91.8 167.3,92.2 167.3,92.5Z" fill="none" stroke="#1a1a1a" stroke-width="0.5"/><path d="M168.2,92.5C168.2,92.9 168.3,93.3 168.3,93.7C168.3,94.0 168.0,94.4 168.0,94.8C167.9,95.2 168.1,95.6 168.0,96.0C168.0,96.4 167.8,96.8 167.8,97.2C167.7,97.6 167.7,98.1 167.6,98.5C167.5,98.9 167.3,99.3 167.1,99.8C166.9,100.2 166.7,100.6 166.5,101.0C166.3,101.4 166.0,101.8 165.8,102.3C165.6,102.7 165.4,103.4 165.1,103.8C164.8,104.2 164.2,104.3 163.8,104.6C163.4,104.9 163.1,105.5 162.7,105.8C162.2,106.2 161.7,106.5 161.2,106.7C160.7,106.9 160.2,107.0 159.6,107.1C159.1,107.2 158.5,107.4 158.0,107.4C157.5,107.4 156.9,107.1 156.4,107.1C155.8,107.0 155.3,106.9 154.7,106.8C154.2,106.8 153.6,106.8 153.0,106.7C152.5,106.7 151.9,106.6 151.3,106.4C150.8,106.2 150.2,105.9 149.7,105.7C149.2,105.4 148.5,105.3 148.1,104.9C147.8,104.4 147.7,103.6 147.7,102.8C147.6,102.1 147.8,101.3 147.9,100.5C148.1,99.8 148.4,99.0 148.5,98.4C148.7,97.9 148.5,97.5 148.6,97.0C148.7,96.5 149.0,96.0 149.2,95.6C149.3,95.2 149.3,94.8 149.4,94.5C149.6,94.1 149.9,93.7 150.1,93.4C150.3,93.1 150.3,92.8 150.5,92.5C150.6,92.2 150.8,92.0 151.0,91.7C151.1,91.5 151.3,91.2 151.4,91.0C151.6,90.8 151.6,90.5 151.7,90.3C151.8,90.1 152.0,89.9 152.1,89.7C152.2,89.5 152.4,89.2 152.5,89.1C152.7,88.9 152.9,88.8 153.1,88.6C153.2,88.4 153.3,88.1 153.4,87.9C153.5,87.7 153.6,87.4 153.8,87.2C154.0,87.1 154.3,87.2 154.5,87.0C154.7,86.8 154.7,86.3 154.9,86.1C155.1,85.9 155.4,85.9 155.6,85.7C155.8,85.5 156.1,85.2 156.3,85.1C156.6,84.9 156.8,84.9 157.1,84.7C157.4,84.5 157.7,84.1 158.0,83.9C158.3,83.6 158.7,83.5 159.0,83.2C159.4,82.9 159.9,82.5 160.3,82.2C160.8,82.0 161.2,81.9 161.7,81.8C162.2,81.7 162.8,81.4 163.3,81.4C163.8,81.4 164.3,81.6 164.8,81.7C165.3,81.8 165.9,81.8 166.4,82.0C166.8,82.2 167.2,82.6 167.5,83.0C167.8,83.4 168.0,83.9 168.1,84.4C168.3,84.9 168.2,85.6 168.2,86.1C168.3,86.6 168.4,87.0 168.4,87.5C168.4,88.0 168.2,88.5 168.2,88.9C168.2,89.4 168.5,89.7 168.4,90.1C168.4,90.5 168.1,91.0 168.1,91.4C168.0,91.8 168.2,92.1 168.2,92.5Z" fill="none" stroke="#1a1a1a" stroke-width="0.5"/><path d="M169.0,92.5C169.0,92.9 169.0,93.3 168.9,93.7C168.9,94.1 168.9,94.6 168.9,95.0C168.9,95.4 168.9,95.9 168.8,96.3C168.7,96.7 168.3,97.0 168.2,97.4C168.1,97.8 168.2,98.4 168.1,98.9C168.1,99.3 168.0,99.9 167.8,100.3C167.6,100.7 167.2,101.0 167.0,101.5C166.7,101.9 166.5,102.3 166.2,102.8C166.0,103.4 165.9,104.1 165.6,104.6C165.3,105.1 164.8,105.4 164.4,105.9C164.0,106.3 163.6,106.8 163.1,107.1C162.6,107.5 162.1,107.8 161.5,108.0C161.0,108.3 160.4,108.2 159.8,108.4C159.2,108.5 158.6,108.8 158.0,108.9C157.4,109.0 156.8,108.8 156.2,108.7C155.6,108.7 154.9,108.8 154.3,108.7C153.7,108.6 153.1,108.3 152.5,108.1C151.9,108.0 151.3,107.8 150.7,107.6C150.1,107.4 149.5,107.2 148.9,106.9C148.3,106.7 147.5,106.7 147.1,106.2C146.7,105.7 146.6,104.7 146.7,103.8C146.7,103.0 147.1,101.8 147.3,101.0C147.5,100.2 147.6,99.6 147.7,99.0C147.8,98.4 147.8,97.9 147.9,97.4C147.9,96.9 147.9,96.4 148.1,96.0C148.3,95.5 148.7,95.0 149.0,94.6C149.2,94.1 149.5,93.8 149.7,93.4C149.9,93.1 150.0,92.8 150.1,92.5C150.3,92.2 150.4,91.9 150.6,91.7C150.7,91.4 150.9,91.2 151.0,90.9C151.2,90.7 151.2,90.4 151.4,90.2C151.6,90.0 152.0,89.9 152.1,89.7C152.3,89.5 152.2,89.2 152.3,88.9C152.4,88.7 152.5,88.5 152.6,88.2C152.8,88.0 152.9,87.7 153.1,87.6C153.3,87.4 153.6,87.4 153.8,87.2C154.0,87.0 154.0,86.7 154.2,86.4C154.4,86.2 154.6,86.1 154.8,85.9C155.0,85.7 155.2,85.3 155.4,85.1C155.6,84.9 155.9,84.8 156.2,84.6C156.5,84.4 156.7,84.0 157.0,83.7C157.3,83.4 157.6,83.2 158.0,82.9C158.4,82.7 158.7,82.5 159.2,82.2C159.6,82.0 160.0,81.8 160.5,81.6C161.0,81.4 161.4,81.3 162.0,81.2C162.5,81.0 163.1,80.8 163.7,80.7C164.2,80.7 164.7,80.8 165.3,80.9C165.9,80.9 166.6,80.9 167.1,81.1C167.7,81.2 168.3,81.5 168.6,81.9C168.9,82.4 168.8,83.2 168.9,83.8C169.0,84.4 169.2,84.9 169.3,85.4C169.4,85.9 169.4,86.5 169.4,87.0C169.4,87.5 169.4,88.0 169.4,88.5C169.4,89.0 169.4,89.5 169.3,89.9C169.3,90.4 169.3,90.8 169.2,91.2C169.2,91.7 169.1,92.1 169.0,92.5Z" fill="none" stroke="#1a1a1a" stroke-width="0.5"/><path d="M170.2,92.5C170.3,93.0 170.3,93.4 170.2,93.9C170.1,94.3 169.8,94.7 169.7,95.2C169.7,95.6 169.8,96.1 169.6,96.6C169.5,97.0 169.1,97.3 168.9,97.8C168.8,98.2 168.8,98.7 168.6,99.2C168.5,99.7 168.4,100.1 168.2,100.6C168.0,101.1 167.8,101.6 167.6,102.1C167.4,102.6 167.2,103.2 167.0,103.7C166.7,104.3 166.5,105.0 166.2,105.5C165.8,106.0 165.4,106.4 164.9,106.9C164.5,107.3 164.0,107.9 163.5,108.3C163.0,108.7 162.4,108.8 161.8,109.1C161.2,109.3 160.6,109.6 159.9,109.8C159.3,110.0 158.7,110.4 158.0,110.5C157.3,110.5 156.7,110.2 156.0,110.1C155.4,110.0 154.7,109.8 154.1,109.8C153.4,109.7 152.6,109.8 152.0,109.7C151.3,109.6 150.6,109.4 150.0,109.1C149.3,108.9 148.7,108.6 148.1,108.3C147.4,108.0 146.7,107.8 146.2,107.3C145.7,106.8 145.4,106.0 145.3,105.2C145.3,104.3 145.7,103.1 145.9,102.1C146.2,101.2 146.6,100.3 146.8,99.6C146.9,98.8 146.8,98.4 146.9,97.9C146.9,97.3 147.0,96.8 147.2,96.3C147.4,95.8 147.8,95.2 148.2,94.7C148.5,94.3 148.8,93.9 149.1,93.5C149.3,93.1 149.4,92.8 149.6,92.5C149.8,92.2 150.1,91.9 150.2,91.6C150.4,91.3 150.4,91.1 150.6,90.8C150.7,90.5 150.8,90.3 151.0,90.0C151.1,89.8 151.5,89.7 151.7,89.5C151.9,89.2 152.0,89.0 152.2,88.8C152.3,88.6 152.4,88.4 152.6,88.2C152.7,87.9 152.8,87.7 153.0,87.5C153.1,87.3 153.3,87.0 153.5,86.8C153.7,86.6 153.9,86.4 154.1,86.3C154.3,86.1 154.5,85.9 154.7,85.7C154.9,85.4 155.1,85.2 155.3,84.9C155.5,84.6 155.7,84.0 156.0,83.7C156.3,83.4 156.6,83.3 156.9,83.1C157.3,82.9 157.6,82.8 158.0,82.6C158.4,82.3 158.8,81.7 159.3,81.4C159.7,81.1 160.2,80.8 160.7,80.5C161.3,80.3 161.8,80.1 162.4,79.9C163.0,79.8 163.6,79.7 164.2,79.7C164.8,79.6 165.4,79.7 166.0,79.7C166.7,79.8 167.4,79.8 168.0,80.0C168.5,80.2 169.1,80.5 169.5,81.0C169.9,81.4 170.1,82.1 170.3,82.7C170.4,83.4 170.2,84.2 170.2,84.8C170.2,85.5 170.2,86.0 170.3,86.6C170.3,87.1 170.5,87.6 170.4,88.1C170.4,88.7 170.0,89.3 170.0,89.8C169.9,90.3 170.0,90.7 170.0,91.1C170.1,91.6 170.2,92.0 170.2,92.5Z" fill="none" stroke="#1a1a1a" stroke-width="0.5"/>
<path d="M157.5,132.0C157.5,132.2 157.5,132.4 157.6,132.6C157.6,132.8 157.8,133.1 157.8,133.3C157.8,133.5 157.5,133.6 157.4,133.8C157.4,134.0 157.5,134.3 157.4,134.4C157.3,134.6 157.0,134.7 156.8,134.9C156.7,135.0 156.4,135.0 156.2,135.1C156.1,135.2 156.0,135.5 155.8,135.5C155.7,135.6 155.3,135.5 155.1,135.6C154.9,135.6 154.9,135.8 154.7,135.9C154.6,135.9 154.3,135.8 154.1,135.8C154.0,135.8 153.8,135.8 153.7,135.9C153.5,136.0 153.4,136.1 153.2,136.1C153.1,136.2 153.0,136.4 152.8,136.5C152.6,136.5 152.5,136.2 152.3,136.3C152.1,136.4 151.9,136.9 151.7,137.1C151.5,137.3 151.2,137.5 151.0,137.5C150.8,137.5 150.7,137.3 150.5,137.1C150.4,136.9 150.3,136.6 150.2,136.4C150.1,136.2 150.1,135.9 149.9,135.8C149.8,135.6 149.6,135.7 149.5,135.5C149.4,135.4 149.6,134.9 149.5,134.8C149.4,134.6 149.0,134.8 148.9,134.7C148.8,134.6 148.9,134.3 148.9,134.2C148.8,134.0 148.7,133.9 148.7,133.8C148.6,133.6 148.5,133.5 148.4,133.4C148.3,133.2 148.2,133.1 148.0,133.0C147.9,132.8 147.6,132.7 147.5,132.5C147.4,132.4 147.6,132.2 147.6,132.0C147.5,131.8 147.3,131.6 147.2,131.4C147.1,131.2 147.1,131.0 147.1,130.8C147.1,130.6 147.2,130.4 147.3,130.2C147.3,130.1 147.3,129.8 147.4,129.6C147.5,129.5 147.8,129.4 148.0,129.3C148.1,129.1 148.2,129.0 148.4,128.9C148.5,128.7 148.7,128.6 148.8,128.5C148.9,128.3 148.9,128.1 149.1,128.0C149.2,127.9 149.5,127.9 149.7,127.9C149.9,127.9 150.1,127.9 150.3,127.9C150.5,127.8 150.6,127.8 150.8,127.8C151.0,127.8 151.2,127.8 151.4,127.9C151.5,127.9 151.7,128.0 151.8,128.0C152.0,128.0 152.1,127.8 152.3,127.8C152.5,127.8 152.6,127.9 152.8,128.0C152.9,128.0 153.0,128.3 153.1,128.3C153.3,128.4 153.5,128.3 153.6,128.3C153.7,128.3 153.9,128.4 154.0,128.5C154.2,128.5 154.4,128.4 154.5,128.5C154.6,128.6 154.8,128.7 154.9,128.8C155.0,128.9 155.0,129.1 155.1,129.2C155.3,129.2 155.7,129.1 155.8,129.2C155.9,129.3 155.8,129.6 155.8,129.8C155.9,129.9 156.2,129.9 156.4,130.0C156.5,130.2 156.8,130.3 156.9,130.4C156.9,130.6 156.8,130.8 156.9,131.0C157.0,131.1 157.2,131.3 157.3,131.4C157.4,131.6 157.4,131.8 157.5,132.0Z" fill="none" stroke="#1a1a1a" stroke-width="0.5"/><path d="M157.7,132.0C157.7,132.2 158.0,132.4 158.1,132.7C158.2,132.9 158.2,133.1 158.2,133.3C158.1,133.6 158.0,133.8 157.9,134.0C157.9,134.2 157.9,134.5 157.7,134.6C157.6,134.8 157.2,134.8 157.1,135.0C156.9,135.1 156.8,135.4 156.7,135.5C156.5,135.6 156.3,135.7 156.1,135.8C155.9,135.9 155.7,135.9 155.5,136.0C155.3,136.0 155.1,136.0 154.9,136.1C154.7,136.2 154.6,136.3 154.4,136.4C154.3,136.5 154.1,136.6 153.9,136.6C153.7,136.6 153.5,136.5 153.3,136.5C153.2,136.5 153.0,136.7 152.8,136.8C152.7,136.8 152.5,136.6 152.3,136.8C152.1,137.0 151.9,137.8 151.6,138.0C151.4,138.3 151.1,138.3 150.9,138.2C150.7,138.2 150.5,138.0 150.3,137.8C150.1,137.6 150.0,137.3 149.9,137.0C149.8,136.8 149.8,136.4 149.7,136.1C149.6,135.9 149.5,135.8 149.4,135.6C149.3,135.5 149.1,135.4 149.0,135.3C149.0,135.1 149.1,134.8 149.0,134.6C148.9,134.5 148.6,134.5 148.5,134.4C148.4,134.2 148.5,134.0 148.4,133.9C148.3,133.7 148.3,133.6 148.2,133.4C148.1,133.3 148.1,133.1 147.9,133.0C147.8,132.8 147.4,132.7 147.3,132.6C147.2,132.4 147.4,132.2 147.4,132.0C147.4,131.8 147.2,131.6 147.2,131.4C147.1,131.2 147.1,131.0 147.0,130.8C147.0,130.6 146.8,130.3 146.9,130.1C146.9,129.9 147.3,129.8 147.4,129.7C147.6,129.5 147.5,129.2 147.6,129.0C147.7,128.9 147.9,128.7 148.0,128.6C148.1,128.4 148.2,128.2 148.3,128.0C148.5,127.9 148.6,127.7 148.8,127.6C149.0,127.5 149.2,127.4 149.4,127.4C149.6,127.4 149.9,127.5 150.2,127.6C150.4,127.6 150.5,127.5 150.7,127.5C150.9,127.5 151.1,127.6 151.3,127.6C151.5,127.5 151.6,127.4 151.8,127.4C151.9,127.3 152.1,127.3 152.3,127.4C152.5,127.5 152.6,127.8 152.8,127.9C152.9,128.0 153.1,128.0 153.2,128.0C153.4,128.0 153.5,128.1 153.7,128.1C153.8,128.2 153.9,128.2 154.1,128.3C154.2,128.3 154.4,128.3 154.6,128.4C154.7,128.4 154.9,128.5 155.0,128.6C155.2,128.7 155.3,128.8 155.4,128.9C155.5,129.1 155.5,129.2 155.7,129.3C155.8,129.4 156.1,129.4 156.3,129.5C156.4,129.6 156.5,129.8 156.7,129.9C156.8,130.0 156.9,130.2 157.1,130.3C157.3,130.5 157.5,130.6 157.6,130.8C157.7,131.0 157.7,131.2 157.7,131.4C157.8,131.6 157.6,131.8 157.7,132.0Z" fill="none" stroke="#1a1a1a" stroke-width="0.5"/><path d="M158.3,132.0C158.4,132.2 158.4,132.5 158.5,132.7C158.5,132.9 158.6,133.2 158.5,133.4C158.4,133.6 158.1,133.8 158.0,134.0C158.0,134.2 158.2,134.6 158.1,134.8C158.0,135.0 157.7,135.1 157.5,135.3C157.4,135.5 157.2,135.6 157.0,135.8C156.8,135.9 156.6,136.0 156.4,136.1C156.2,136.2 155.9,136.1 155.7,136.2C155.4,136.3 155.3,136.4 155.1,136.4C154.9,136.4 154.6,136.4 154.4,136.5C154.3,136.5 154.2,136.8 154.0,136.9C153.8,136.9 153.6,136.8 153.4,136.8C153.2,136.8 153.0,136.9 152.9,137.0C152.7,137.1 152.5,137.2 152.3,137.5C152.1,137.8 151.8,138.4 151.5,138.7C151.3,138.9 150.9,139.2 150.7,139.1C150.4,139.0 150.3,138.4 150.1,138.2C150.0,137.9 149.8,137.6 149.7,137.4C149.6,137.1 149.5,136.9 149.4,136.6C149.3,136.4 149.2,136.1 149.1,136.0C149.0,135.8 148.9,135.7 148.8,135.5C148.7,135.3 148.8,135.0 148.6,134.9C148.5,134.8 148.2,134.8 148.0,134.7C147.9,134.6 147.9,134.3 147.9,134.1C147.8,133.9 147.9,133.7 147.8,133.6C147.8,133.4 147.6,133.3 147.5,133.1C147.4,132.9 147.3,132.7 147.3,132.6C147.2,132.4 147.1,132.2 147.0,132.0C147.0,131.8 147.1,131.6 147.0,131.4C146.9,131.2 146.6,130.9 146.5,130.7C146.5,130.5 146.5,130.2 146.5,130.0C146.6,129.8 146.9,129.6 147.0,129.4C147.1,129.3 147.2,129.0 147.3,128.9C147.5,128.7 147.7,128.6 147.9,128.5C148.1,128.3 148.2,128.2 148.3,128.0C148.4,127.8 148.5,127.6 148.7,127.5C148.8,127.3 149.1,127.4 149.3,127.3C149.5,127.2 149.6,126.9 149.8,126.9C150.0,126.8 150.4,127.1 150.6,127.2C150.8,127.2 151.0,127.3 151.2,127.3C151.4,127.2 151.5,126.9 151.7,126.9C151.9,126.9 152.1,127.1 152.3,127.2C152.5,127.3 152.6,127.4 152.8,127.5C153.0,127.5 153.2,127.3 153.4,127.4C153.5,127.5 153.6,127.7 153.8,127.8C153.9,127.9 154.2,127.7 154.4,127.7C154.6,127.7 154.8,127.7 155.0,127.8C155.1,127.8 155.3,128.0 155.4,128.1C155.6,128.2 155.7,128.3 155.9,128.4C156.0,128.6 156.0,128.8 156.2,128.9C156.3,129.1 156.5,129.1 156.7,129.3C156.8,129.4 156.8,129.6 157.0,129.7C157.2,129.9 157.5,130.0 157.6,130.1C157.8,130.3 157.8,130.5 157.8,130.7C157.9,130.9 158.1,131.1 158.2,131.3C158.3,131.5 158.3,131.8 158.3,132.0Z" fill="none" stroke="#1a1a1a" stroke-width="0.5"/><path d="M158.7,132.0C158.7,132.2 158.7,132.5 158.8,132.7C158.8,133.0 159.0,133.3 159.0,133.5C159.0,133.8 159.0,134.1 158.9,134.3C158.8,134.5 158.6,134.8 158.4,135.0C158.3,135.2 158.1,135.3 157.9,135.5C157.7,135.7 157.5,135.9 157.3,136.0C157.1,136.2 156.9,136.3 156.7,136.4C156.4,136.5 156.1,136.4 155.9,136.5C155.7,136.6 155.5,136.8 155.3,136.8C155.2,136.9 154.9,137.0 154.7,137.0C154.5,137.0 154.3,137.0 154.1,137.1C153.9,137.1 153.7,137.2 153.5,137.3C153.3,137.4 153.1,137.6 152.9,137.7C152.7,137.9 152.6,137.9 152.3,138.3C152.0,138.6 151.7,139.6 151.4,140.0C151.1,140.4 150.6,140.7 150.3,140.6C150.1,140.5 149.9,139.7 149.7,139.4C149.5,139.0 149.3,138.9 149.1,138.6C148.9,138.3 148.9,137.9 148.8,137.6C148.7,137.3 148.5,137.1 148.5,136.8C148.4,136.5 148.4,136.2 148.4,135.9C148.3,135.7 148.2,135.5 148.2,135.3C148.1,135.1 148.0,135.0 147.9,134.8C147.8,134.6 147.7,134.4 147.7,134.2C147.6,134.1 147.5,133.9 147.4,133.7C147.3,133.5 147.1,133.4 147.0,133.2C146.9,133.0 146.7,132.8 146.6,132.6C146.5,132.4 146.5,132.2 146.5,132.0C146.4,131.8 146.5,131.6 146.5,131.3C146.5,131.1 146.4,130.9 146.3,130.6C146.3,130.4 146.2,130.1 146.3,129.9C146.4,129.7 146.8,129.6 146.9,129.4C147.0,129.2 146.9,128.9 146.9,128.6C147.0,128.4 147.1,128.2 147.2,128.0C147.4,127.8 147.6,127.6 147.7,127.4C147.9,127.2 148.0,127.0 148.2,126.8C148.4,126.7 148.7,126.7 149.0,126.7C149.2,126.6 149.5,126.7 149.7,126.6C149.9,126.6 150.1,126.3 150.3,126.3C150.5,126.3 150.8,126.6 151.1,126.6C151.3,126.6 151.5,126.5 151.7,126.4C151.9,126.4 152.1,126.4 152.3,126.4C152.5,126.5 152.7,126.7 152.9,126.8C153.1,126.9 153.3,126.9 153.5,126.9C153.7,126.9 153.9,126.8 154.1,126.9C154.3,126.9 154.5,127.0 154.6,127.2C154.8,127.3 154.9,127.5 155.0,127.7C155.2,127.8 155.4,127.9 155.5,128.0C155.7,128.1 155.8,128.2 156.1,128.2C156.3,128.3 156.6,128.3 156.8,128.4C157.1,128.5 157.2,128.6 157.3,128.8C157.5,129.0 157.4,129.3 157.5,129.5C157.7,129.7 158.0,129.8 158.2,129.9C158.4,130.1 158.5,130.3 158.6,130.6C158.7,130.8 158.7,131.0 158.7,131.3C158.7,131.5 158.7,131.8 158.7,132.0Z" fill="none" stroke="#1a1a1a" stroke-width="0.5"/><path d="M159.3,132.0C159.3,132.3 159.5,132.5 159.5,132.8C159.4,133.1 159.3,133.3 159.2,133.6C159.1,133.8 159.0,134.0 158.9,134.3C158.9,134.6 159.0,135.0 158.9,135.2C158.8,135.4 158.5,135.6 158.3,135.7C158.0,135.9 157.8,136.0 157.6,136.2C157.4,136.4 157.3,136.7 157.1,136.8C156.9,136.9 156.5,136.9 156.3,137.0C156.0,137.1 155.9,137.3 155.7,137.4C155.5,137.6 155.3,137.7 155.1,137.7C154.8,137.8 154.5,137.7 154.3,137.7C154.1,137.8 153.9,137.9 153.7,138.1C153.5,138.2 153.3,138.3 153.0,138.5C152.8,138.6 152.6,138.7 152.3,139.1C152.0,139.6 151.6,140.8 151.3,141.2C150.9,141.6 150.4,141.7 150.1,141.6C149.8,141.5 149.5,140.9 149.3,140.5C149.1,140.1 149.0,139.6 148.8,139.2C148.6,138.9 148.4,138.7 148.3,138.4C148.2,138.0 148.2,137.5 148.2,137.2C148.1,136.9 148.0,136.7 147.9,136.4C147.8,136.2 147.7,136.0 147.5,135.8C147.4,135.6 147.2,135.5 147.1,135.3C147.1,135.0 147.2,134.7 147.1,134.5C147.0,134.3 146.7,134.2 146.7,134.0C146.6,133.8 146.7,133.5 146.6,133.3C146.6,133.1 146.5,132.9 146.4,132.7C146.3,132.4 146.2,132.2 146.2,132.0C146.2,131.8 146.4,131.6 146.3,131.3C146.3,131.1 146.1,130.8 146.1,130.6C146.1,130.3 146.2,130.1 146.3,129.9C146.3,129.7 146.5,129.5 146.5,129.2C146.6,129.0 146.4,128.6 146.5,128.4C146.6,128.1 147.0,128.1 147.1,127.9C147.3,127.7 147.3,127.4 147.4,127.1C147.6,126.9 147.6,126.5 147.8,126.3C148.0,126.2 148.3,126.1 148.6,126.1C148.8,126.0 149.1,126.0 149.4,125.9C149.6,125.9 149.9,125.9 150.1,125.8C150.4,125.8 150.7,125.9 150.9,125.9C151.1,125.9 151.4,125.7 151.6,125.8C151.8,125.9 152.1,126.2 152.3,126.2C152.5,126.3 152.8,126.1 153.0,126.1C153.2,126.1 153.4,126.3 153.6,126.4C153.8,126.5 154.0,126.6 154.2,126.6C154.4,126.6 154.7,126.5 154.9,126.6C155.1,126.6 155.3,126.9 155.5,127.0C155.6,127.1 155.8,127.2 156.1,127.3C156.3,127.4 156.5,127.5 156.7,127.6C157.0,127.7 157.2,127.8 157.4,128.0C157.5,128.1 157.6,128.4 157.8,128.6C157.9,128.8 158.2,128.9 158.3,129.1C158.5,129.3 158.5,129.5 158.7,129.8C158.8,130.0 158.9,130.2 159.0,130.5C159.1,130.7 159.2,131.0 159.3,131.2C159.3,131.5 159.3,131.7 159.3,132.0Z" fill="none" stroke="#1a1a1a" stroke-width="0.5"/><path d="M160.0,132.0C160.1,132.3 160.1,132.6 160.1,132.9C160.1,133.2 159.9,133.4 159.9,133.7C159.9,134.0 160.0,134.4 159.9,134.7C159.8,134.9 159.5,135.1 159.3,135.4C159.1,135.6 159.0,135.9 158.8,136.1C158.6,136.3 158.4,136.5 158.2,136.7C157.9,136.8 157.5,136.8 157.3,137.0C157.0,137.1 156.9,137.3 156.7,137.5C156.5,137.6 156.3,137.8 156.1,138.0C155.8,138.1 155.6,138.2 155.3,138.3C155.1,138.3 154.8,138.2 154.5,138.3C154.3,138.4 154.1,138.5 153.8,138.7C153.6,138.9 153.4,139.1 153.1,139.4C152.9,139.6 152.6,139.5 152.3,140.0C152.0,140.5 151.5,141.9 151.1,142.4C150.7,142.9 150.2,143.2 149.8,143.1C149.4,143.0 149.1,142.3 148.8,141.9C148.6,141.5 148.3,141.1 148.2,140.6C148.0,140.1 147.9,139.7 147.8,139.2C147.7,138.7 147.8,138.1 147.7,137.8C147.6,137.4 147.4,137.3 147.2,137.1C147.1,136.8 147.0,136.5 147.0,136.2C146.9,136.0 147.0,135.6 146.9,135.4C146.8,135.1 146.5,135.1 146.4,134.9C146.2,134.6 146.2,134.4 146.1,134.2C146.1,133.9 146.4,133.6 146.3,133.4C146.2,133.1 145.8,133.0 145.8,132.7C145.7,132.5 145.9,132.2 145.9,132.0C145.9,131.8 145.8,131.5 145.7,131.3C145.6,131.0 145.4,130.7 145.4,130.4C145.4,130.2 145.5,129.9 145.6,129.6C145.7,129.4 146.0,129.2 146.1,129.0C146.2,128.8 146.2,128.5 146.2,128.2C146.3,127.9 146.4,127.7 146.6,127.4C146.7,127.2 146.9,127.0 147.1,126.8C147.2,126.5 147.3,126.2 147.5,126.0C147.7,125.8 148.0,125.7 148.2,125.5C148.5,125.4 148.7,125.1 149.0,125.1C149.3,125.1 149.7,125.4 150.0,125.4C150.3,125.4 150.5,125.2 150.7,125.2C151.0,125.1 151.3,125.2 151.5,125.3C151.8,125.4 152.1,125.5 152.3,125.6C152.5,125.6 152.8,125.5 153.0,125.5C153.3,125.5 153.5,125.5 153.8,125.5C154.0,125.6 154.2,125.7 154.5,125.8C154.7,125.9 154.8,126.2 155.1,126.2C155.3,126.3 155.7,126.1 156.0,126.2C156.2,126.2 156.3,126.5 156.6,126.6C156.8,126.8 157.1,126.8 157.3,127.0C157.5,127.2 157.4,127.6 157.6,127.8C157.8,128.0 158.1,128.0 158.3,128.2C158.5,128.4 158.5,128.7 158.7,128.9C158.9,129.1 159.3,129.2 159.5,129.5C159.6,129.7 159.5,130.1 159.6,130.3C159.6,130.6 159.6,130.9 159.7,131.2C159.7,131.4 159.9,131.7 160.0,132.0Z" fill="none" stroke="#1a1a1a" stroke-width="0.5"/><path d="M160.7,132.0C160.7,132.3 160.9,132.7 160.9,133.0C160.9,133.3 160.8,133.6 160.7,133.9C160.6,134.2 160.3,134.5 160.2,134.8C160.0,135.0 159.7,135.2 159.6,135.5C159.5,135.8 159.5,136.2 159.3,136.4C159.1,136.7 158.7,136.8 158.5,136.9C158.3,137.1 158.1,137.4 157.9,137.6C157.6,137.7 157.2,137.7 156.9,137.8C156.6,137.9 156.4,138.0 156.2,138.2C156.0,138.3 155.8,138.7 155.6,138.8C155.4,139.0 155.1,139.0 154.8,139.1C154.5,139.2 154.3,139.2 154.0,139.5C153.7,139.7 153.5,140.2 153.3,140.5C153.0,140.8 152.7,140.7 152.3,141.3C151.9,142.0 151.4,143.7 150.9,144.2C150.4,144.8 149.8,144.9 149.4,144.8C148.9,144.6 148.6,144.0 148.3,143.5C148.0,142.9 147.9,142.0 147.7,141.5C147.6,140.9 147.3,140.6 147.2,140.1C147.1,139.6 147.1,139.1 147.0,138.6C146.9,138.2 146.9,137.8 146.8,137.5C146.7,137.2 146.6,136.9 146.4,136.7C146.3,136.4 146.1,136.2 146.0,136.0C145.9,135.7 146.1,135.3 146.1,135.0C146.1,134.7 146.1,134.4 146.0,134.2C145.9,134.0 145.7,133.8 145.6,133.5C145.6,133.3 145.6,133.0 145.6,132.8C145.6,132.5 145.6,132.3 145.5,132.0C145.5,131.7 145.4,131.5 145.4,131.2C145.4,131.0 145.4,130.7 145.4,130.4C145.4,130.2 145.4,129.9 145.4,129.6C145.4,129.3 145.5,129.0 145.6,128.8C145.6,128.5 145.8,128.2 145.8,127.9C145.9,127.7 145.9,127.3 146.0,127.0C146.1,126.7 146.4,126.6 146.6,126.3C146.7,126.0 146.7,125.5 146.9,125.2C147.1,125.0 147.5,125.0 147.8,124.9C148.1,124.8 148.4,124.6 148.7,124.5C149.0,124.5 149.4,124.6 149.7,124.6C150.0,124.6 150.3,124.5 150.6,124.5C150.9,124.6 151.2,124.7 151.5,124.7C151.8,124.7 152.0,124.5 152.3,124.5C152.6,124.5 152.9,124.6 153.1,124.7C153.4,124.7 153.6,124.9 153.9,125.0C154.2,125.1 154.4,125.1 154.7,125.1C155.0,125.1 155.4,125.0 155.6,125.2C155.8,125.3 155.9,125.8 156.1,125.9C156.4,126.0 156.8,125.9 157.1,126.0C157.3,126.1 157.5,126.4 157.7,126.6C157.9,126.8 158.1,127.0 158.4,127.1C158.6,127.3 159.0,127.4 159.2,127.6C159.4,127.9 159.5,128.2 159.6,128.5C159.8,128.7 159.9,129.0 160.1,129.3C160.2,129.5 160.4,129.8 160.5,130.1C160.6,130.4 160.8,130.7 160.8,131.0C160.9,131.4 160.7,131.7 160.7,132.0Z" fill="none" stroke="#1a1a1a" stroke-width="0.5"/><path d="M161.4,132.0C161.4,132.3 161.6,132.7 161.6,133.0C161.6,133.4 161.4,133.7 161.3,134.1C161.2,134.4 161.1,134.7 161.0,135.0C160.8,135.3 160.5,135.6 160.3,135.9C160.1,136.1 159.9,136.4 159.6,136.6C159.4,136.8 159.1,137.0 158.8,137.2C158.6,137.4 158.4,137.6 158.1,137.8C157.9,138.0 157.6,138.1 157.3,138.3C157.1,138.5 157.0,138.9 156.7,139.0C156.5,139.2 156.1,139.2 155.8,139.3C155.5,139.4 155.3,139.6 155.0,139.8C154.7,139.9 154.5,140.0 154.2,140.3C153.9,140.6 153.7,141.0 153.4,141.4C153.0,141.8 152.7,141.9 152.3,142.6C151.9,143.3 151.3,145.1 150.7,145.8C150.2,146.5 149.4,146.9 148.9,146.7C148.5,146.5 148.2,145.3 147.9,144.7C147.5,144.1 147.3,143.5 147.1,142.8C146.9,142.2 146.8,141.5 146.7,140.9C146.6,140.3 146.6,139.8 146.5,139.3C146.4,138.8 146.2,138.6 146.1,138.2C146.0,137.8 146.0,137.4 145.9,137.1C145.8,136.8 145.5,136.6 145.4,136.4C145.2,136.1 145.2,135.8 145.2,135.4C145.1,135.1 145.2,134.8 145.2,134.5C145.2,134.2 145.3,133.9 145.2,133.6C145.1,133.3 144.8,133.1 144.7,132.9C144.7,132.6 144.9,132.3 144.9,132.0C144.9,131.7 144.8,131.4 144.8,131.2C144.8,130.9 145.0,130.6 145.0,130.3C145.0,130.0 144.9,129.7 144.9,129.4C144.9,129.1 144.9,128.8 145.0,128.5C145.1,128.2 145.2,127.9 145.3,127.6C145.4,127.3 145.6,127.1 145.7,126.8C145.9,126.4 145.9,126.0 146.0,125.7C146.1,125.4 146.3,125.0 146.5,124.8C146.8,124.5 147.0,124.3 147.3,124.1C147.7,124.0 148.0,123.9 148.4,123.8C148.7,123.7 149.0,123.6 149.4,123.6C149.7,123.6 150.1,123.8 150.4,123.8C150.8,123.9 151.1,123.9 151.4,123.9C151.7,123.9 152.0,123.8 152.3,123.9C152.6,123.9 152.9,124.0 153.2,124.0C153.5,124.0 153.8,124.0 154.1,124.0C154.4,124.1 154.7,124.2 155.0,124.3C155.3,124.4 155.6,124.4 155.9,124.5C156.2,124.6 156.5,124.8 156.7,125.0C157.0,125.1 157.3,125.3 157.6,125.4C157.8,125.6 158.2,125.6 158.5,125.8C158.7,126.1 158.8,126.4 159.0,126.6C159.2,126.9 159.5,127.1 159.8,127.3C160.1,127.5 160.5,127.7 160.7,128.0C160.9,128.2 160.6,128.7 160.7,129.0C160.8,129.4 161.2,129.6 161.3,129.9C161.5,130.3 161.4,130.6 161.4,131.0C161.5,131.3 161.4,131.7 161.4,132.0Z" fill="none" stroke="#1a1a1a" stroke-width="0.5"/><path d="M162.1,132.0C162.2,132.4 162.4,132.8 162.4,133.1C162.4,133.5 162.3,133.9 162.1,134.2C162.0,134.6 161.8,134.9 161.7,135.3C161.5,135.6 161.3,135.9 161.1,136.2C160.9,136.5 160.7,136.9 160.4,137.1C160.1,137.3 159.7,137.4 159.4,137.6C159.1,137.9 159.0,138.2 158.8,138.5C158.5,138.7 158.2,138.8 157.9,139.0C157.6,139.2 157.4,139.5 157.2,139.7C156.9,139.9 156.6,140.1 156.3,140.3C156.0,140.5 155.7,140.7 155.4,140.9C155.1,141.1 154.8,141.2 154.5,141.5C154.1,141.7 153.8,142.1 153.5,142.4C153.1,142.8 152.8,142.9 152.3,143.7C151.8,144.6 151.2,146.8 150.5,147.6C149.9,148.4 149.0,148.8 148.5,148.6C148.0,148.4 147.7,147.0 147.3,146.3C147.0,145.5 146.7,144.9 146.5,144.1C146.2,143.4 146.1,142.6 146.0,142.0C145.9,141.3 145.9,140.6 145.8,140.1C145.7,139.6 145.4,139.4 145.3,139.0C145.2,138.6 145.2,138.1 145.1,137.7C145.0,137.3 144.9,137.0 144.8,136.7C144.8,136.3 144.7,136.0 144.7,135.7C144.6,135.3 144.6,135.0 144.5,134.7C144.5,134.4 144.5,134.1 144.5,133.8C144.5,133.5 144.7,133.2 144.6,132.9C144.6,132.6 144.2,132.3 144.1,132.0C144.1,131.7 144.1,131.4 144.1,131.1C144.1,130.8 144.2,130.5 144.2,130.2C144.3,129.8 144.3,129.5 144.3,129.2C144.3,128.9 144.3,128.5 144.4,128.2C144.5,127.9 144.8,127.7 144.9,127.4C145.0,127.0 144.9,126.5 145.0,126.2C145.1,125.8 145.4,125.6 145.5,125.2C145.7,124.9 145.7,124.3 145.9,124.0C146.2,123.7 146.5,123.5 146.8,123.3C147.2,123.1 147.4,122.7 147.8,122.7C148.2,122.6 148.7,122.8 149.1,122.8C149.5,122.8 149.8,122.6 150.2,122.6C150.5,122.5 150.9,122.5 151.2,122.5C151.6,122.6 152.0,122.8 152.3,122.9C152.6,123.0 153.0,123.0 153.3,123.0C153.6,123.1 154.0,123.2 154.3,123.2C154.6,123.3 155.0,123.3 155.3,123.4C155.6,123.5 156.0,123.5 156.3,123.7C156.6,123.8 156.9,124.0 157.2,124.2C157.5,124.4 157.8,124.5 158.1,124.7C158.4,124.9 158.6,125.2 158.8,125.5C159.1,125.7 159.4,125.9 159.7,126.1C159.9,126.4 160.2,126.6 160.5,126.8C160.8,127.1 161.2,127.3 161.4,127.6C161.6,127.9 161.6,128.4 161.7,128.7C161.8,129.1 162.1,129.4 162.1,129.8C162.2,130.1 162.0,130.5 162.0,130.9C162.0,131.3 162.0,131.6 162.1,132.0Z" fill="none" stroke="#1a1a1a" stroke-width="0.5"/><path d="M163.0,132.0C162.9,132.4 163.0,132.8 162.9,133.2C162.9,133.6 162.9,134.0 162.8,134.4C162.7,134.8 162.6,135.2 162.4,135.5C162.2,135.9 162.0,136.2 161.7,136.5C161.4,136.8 161.1,137.1 160.8,137.3C160.5,137.6 160.4,137.9 160.1,138.2C159.8,138.5 159.6,138.7 159.3,139.0C159.0,139.2 158.7,139.4 158.4,139.6C158.1,139.8 157.7,139.9 157.4,140.1C157.1,140.3 157.0,140.9 156.7,141.1C156.4,141.3 155.9,141.2 155.6,141.4C155.3,141.7 155.1,142.2 154.7,142.6C154.4,143.0 154.0,143.2 153.6,143.6C153.2,143.9 152.8,143.7 152.3,144.7C151.8,145.7 151.1,148.3 150.3,149.4C149.6,150.4 148.6,151.1 148.0,151.0C147.3,150.8 146.9,149.3 146.5,148.5C146.2,147.6 145.9,146.6 145.7,145.7C145.5,144.8 145.5,143.8 145.3,143.1C145.2,142.3 145.2,141.6 145.1,141.1C144.9,140.5 144.6,140.3 144.5,139.8C144.4,139.3 144.6,138.6 144.5,138.2C144.5,137.8 144.2,137.5 144.1,137.1C144.1,136.7 144.2,136.3 144.2,135.9C144.2,135.5 144.0,135.2 143.9,134.9C143.9,134.6 143.6,134.3 143.7,134.0C143.7,133.6 144.0,133.3 144.0,132.9C144.0,132.6 143.6,132.3 143.6,132.0C143.5,131.7 143.7,131.4 143.7,131.0C143.7,130.7 143.5,130.3 143.5,130.0C143.5,129.7 143.6,129.3 143.7,129.0C143.8,128.7 144.0,128.4 144.1,128.0C144.1,127.7 144.0,127.2 144.0,126.8C144.1,126.4 144.3,126.1 144.5,125.8C144.7,125.4 144.9,125.1 145.0,124.7C145.1,124.3 145.1,123.7 145.3,123.3C145.5,122.9 145.9,122.6 146.2,122.4C146.6,122.1 147.0,121.9 147.4,121.9C147.8,121.8 148.3,121.8 148.7,121.8C149.2,121.9 149.6,121.9 150.0,121.9C150.4,122.0 150.8,121.9 151.2,121.9C151.5,121.9 151.9,122.0 152.3,122.0C152.7,122.0 153.1,121.8 153.4,121.9C153.8,122.0 154.1,122.4 154.5,122.5C154.8,122.6 155.2,122.5 155.6,122.5C156.0,122.5 156.4,122.6 156.7,122.8C157.1,123.0 157.2,123.4 157.6,123.6C157.9,123.8 158.4,123.7 158.8,123.9C159.1,124.0 159.4,124.3 159.7,124.6C160.1,124.8 160.4,125.0 160.7,125.3C161.0,125.6 161.2,125.9 161.4,126.3C161.7,126.6 162.0,126.9 162.2,127.2C162.4,127.6 162.5,128.0 162.7,128.4C162.8,128.8 163.2,129.1 163.3,129.5C163.4,129.9 163.2,130.4 163.2,130.8C163.1,131.2 163.0,131.6 163.0,132.0Z" fill="none" stroke="#1a1a1a" stroke-width="0.5"/><path d="M164.0,132.0C164.0,132.4 164.0,132.9 163.9,133.3C163.8,133.7 163.6,134.1 163.4,134.5C163.2,134.9 163.1,135.3 162.9,135.7C162.7,136.1 162.4,136.4 162.2,136.8C162.0,137.1 161.9,137.6 161.7,137.9C161.4,138.2 160.9,138.3 160.6,138.6C160.3,138.9 160.3,139.4 160.0,139.7C159.7,140.0 159.2,140.0 158.8,140.2C158.5,140.4 158.2,140.6 157.9,140.9C157.6,141.1 157.3,141.5 157.0,141.7C156.6,142.0 156.3,142.1 155.9,142.3C155.6,142.6 155.2,142.9 154.9,143.3C154.5,143.7 154.2,144.2 153.7,144.7C153.3,145.3 152.9,145.4 152.3,146.5C151.7,147.6 150.9,150.4 150.1,151.5C149.3,152.6 148.2,153.3 147.5,153.1C146.8,152.9 146.3,151.2 145.9,150.3C145.5,149.4 145.1,148.5 144.8,147.5C144.6,146.5 144.6,145.3 144.5,144.4C144.4,143.5 144.2,142.9 144.1,142.2C144.1,141.5 144.2,140.8 144.1,140.2C144.0,139.7 143.7,139.4 143.6,139.0C143.5,138.5 143.5,138.0 143.4,137.6C143.4,137.1 143.2,136.8 143.2,136.4C143.1,136.0 143.2,135.6 143.2,135.2C143.2,134.8 143.3,134.4 143.3,134.1C143.3,133.7 143.4,133.3 143.4,133.0C143.3,132.7 142.9,132.3 142.9,132.0C142.9,131.7 143.2,131.3 143.3,131.0C143.3,130.6 143.1,130.3 143.1,129.9C143.1,129.6 143.2,129.2 143.3,128.8C143.3,128.5 143.4,128.1 143.5,127.7C143.5,127.4 143.5,126.9 143.5,126.5C143.6,126.0 143.6,125.6 143.7,125.1C143.8,124.7 144.2,124.5 144.3,124.0C144.4,123.5 144.2,122.6 144.5,122.2C144.7,121.8 145.3,121.8 145.7,121.5C146.1,121.3 146.5,121.0 146.9,120.8C147.4,120.7 147.9,120.8 148.4,120.8C148.9,120.8 149.3,120.9 149.8,120.9C150.2,121.0 150.6,121.0 151.1,121.0C151.5,121.0 151.9,121.1 152.3,121.1C152.7,121.1 153.1,120.8 153.6,120.9C154.0,120.9 154.4,121.2 154.7,121.3C155.1,121.5 155.5,121.7 155.9,121.8C156.3,121.9 156.8,121.8 157.2,121.8C157.6,121.9 158.0,122.2 158.3,122.4C158.7,122.6 158.9,123.0 159.3,123.3C159.6,123.5 159.9,123.8 160.3,124.0C160.6,124.3 160.9,124.6 161.3,124.9C161.6,125.1 161.9,125.4 162.2,125.8C162.5,126.1 162.9,126.4 163.1,126.8C163.3,127.2 163.4,127.7 163.5,128.1C163.6,128.5 163.8,128.9 163.9,129.4C164.0,129.8 163.9,130.2 163.9,130.7C164.0,131.1 164.0,131.6 164.0,132.0Z" fill="none" stroke="#1a1a1a" stroke-width="0.5"/><path d="M165.1,132.0C165.1,132.5 165.1,133.0 165.0,133.4C164.9,133.9 164.7,134.4 164.5,134.8C164.3,135.2 164.1,135.6 163.8,136.0C163.6,136.4 163.3,136.8 163.0,137.2C162.8,137.5 162.5,137.9 162.2,138.2C161.9,138.6 161.6,138.9 161.3,139.2C161.0,139.5 160.7,139.8 160.4,140.1C160.1,140.4 159.6,140.5 159.3,140.8C159.0,141.0 158.7,141.3 158.4,141.6C158.1,142.0 157.8,142.5 157.5,142.8C157.1,143.0 156.6,143.0 156.2,143.2C155.8,143.5 155.5,144.0 155.1,144.4C154.7,144.9 154.3,145.2 153.9,145.8C153.4,146.4 153.0,146.7 152.3,148.0C151.6,149.2 150.8,152.1 149.9,153.3C149.0,154.5 147.8,155.4 147.0,155.2C146.2,155.0 145.8,153.0 145.3,151.9C144.8,150.9 144.4,149.9 144.2,148.9C143.9,147.8 143.9,146.5 143.7,145.6C143.6,144.7 143.4,144.1 143.3,143.3C143.1,142.6 143.1,141.9 143.0,141.3C142.9,140.7 142.7,140.2 142.7,139.6C142.7,139.1 142.8,138.5 142.8,138.0C142.8,137.4 142.8,137.0 142.7,136.6C142.7,136.2 142.5,135.8 142.4,135.5C142.4,135.1 142.3,134.7 142.3,134.3C142.3,133.9 142.5,133.5 142.5,133.1C142.5,132.7 142.4,132.4 142.4,132.0C142.5,131.6 142.7,131.3 142.7,130.9C142.8,130.6 142.6,130.2 142.6,129.8C142.5,129.4 142.4,128.9 142.4,128.5C142.4,128.1 142.6,127.8 142.6,127.3C142.7,126.9 142.8,126.5 142.8,126.1C142.9,125.6 142.9,125.1 143.1,124.6C143.2,124.2 143.5,123.8 143.6,123.3C143.8,122.8 143.7,122.0 144.0,121.6C144.2,121.1 144.8,120.9 145.2,120.6C145.6,120.4 146.0,120.0 146.4,119.8C146.9,119.6 147.5,119.7 148.0,119.6C148.5,119.6 149.0,119.5 149.5,119.5C149.9,119.5 150.4,119.6 150.9,119.7C151.4,119.7 151.8,119.8 152.3,119.8C152.8,119.9 153.2,119.8 153.7,119.9C154.1,120.0 154.5,120.2 155.0,120.3C155.4,120.5 155.8,120.5 156.3,120.7C156.7,120.8 157.0,121.1 157.5,121.3C157.9,121.4 158.4,121.4 158.8,121.6C159.2,121.8 159.4,122.3 159.9,122.5C160.3,122.8 160.9,122.7 161.3,123.0C161.7,123.2 162.0,123.7 162.3,124.0C162.6,124.4 163.0,124.7 163.3,125.1C163.6,125.5 163.8,125.9 164.0,126.4C164.3,126.8 164.4,127.2 164.6,127.7C164.8,128.2 165.0,128.6 165.1,129.1C165.2,129.5 165.2,130.1 165.2,130.6C165.2,131.0 165.1,131.5 165.1,132.0Z" fill="none" stroke="#1a1a1a" stroke-width="0.5"/><path d="M165.9,132.0C165.8,132.5 165.7,133.0 165.6,133.5C165.5,134.0 165.4,134.5 165.3,135.0C165.2,135.4 165.0,135.9 164.8,136.4C164.5,136.8 164.1,137.2 163.8,137.5C163.5,137.9 163.1,138.2 162.8,138.6C162.5,139.0 162.4,139.4 162.0,139.8C161.7,140.1 161.2,140.3 160.9,140.6C160.5,140.9 160.3,141.2 159.9,141.6C159.6,141.9 159.2,142.2 158.9,142.5C158.6,142.9 158.3,143.3 157.9,143.6C157.5,144.0 157.1,144.1 156.7,144.5C156.3,144.8 155.9,145.3 155.4,145.7C155.0,146.2 154.5,146.4 154.0,147.0C153.5,147.5 153.0,147.7 152.3,149.2C151.6,150.6 150.6,154.1 149.6,155.5C148.7,157.0 147.2,158.2 146.4,158.0C145.5,157.7 145.0,155.4 144.5,154.2C144.0,153.0 143.6,151.8 143.4,150.5C143.1,149.3 143.2,147.8 143.0,146.8C142.9,145.7 142.7,145.0 142.6,144.2C142.4,143.4 142.3,142.8 142.2,142.1C142.1,141.4 142.1,140.8 142.1,140.2C142.0,139.6 142.0,139.0 141.9,138.5C141.8,138.0 141.7,137.6 141.6,137.1C141.6,136.7 141.5,136.2 141.5,135.8C141.6,135.3 141.8,134.8 141.9,134.4C142.0,133.9 142.0,133.6 142.0,133.2C142.0,132.8 141.9,132.4 141.9,132.0C141.9,131.6 141.9,131.2 141.9,130.8C141.9,130.4 141.8,130.0 141.8,129.6C141.9,129.2 142.1,128.9 142.1,128.4C142.2,128.0 142.0,127.5 142.0,127.0C142.0,126.6 142.2,126.2 142.3,125.7C142.3,125.2 142.5,124.8 142.6,124.3C142.7,123.7 142.9,123.3 143.0,122.7C143.0,122.0 142.7,120.8 143.0,120.3C143.3,119.8 144.0,119.9 144.5,119.6C145.0,119.3 145.3,118.8 145.9,118.6C146.4,118.5 147.1,118.7 147.7,118.8C148.2,118.8 148.8,118.8 149.3,118.8C149.8,118.7 150.3,118.6 150.8,118.6C151.3,118.6 151.8,118.9 152.3,118.9C152.8,118.9 153.3,118.7 153.8,118.7C154.3,118.8 154.7,119.1 155.2,119.3C155.7,119.4 156.1,119.7 156.6,119.8C157.0,120.0 157.5,120.0 158.0,120.2C158.4,120.4 158.9,120.6 159.3,120.8C159.8,121.0 160.2,121.3 160.7,121.5C161.2,121.7 161.7,121.8 162.1,122.2C162.5,122.5 162.6,123.1 163.0,123.5C163.3,123.9 163.9,124.1 164.3,124.5C164.6,124.9 164.8,125.4 165.1,125.8C165.4,126.3 165.9,126.7 166.0,127.2C166.1,127.7 166.0,128.3 166.0,128.9C165.9,129.4 165.9,129.9 165.9,130.5C165.9,131.0 165.9,131.5 165.9,132.0Z" fill="none" stroke="#1a1a1a" stroke-width="0.5"/><path d="M166.9,132.0C166.8,132.6 166.8,133.1 166.7,133.6C166.7,134.2 166.6,134.7 166.4,135.2C166.2,135.7 166.1,136.3 165.8,136.7C165.5,137.2 165.1,137.6 164.8,138.0C164.5,138.4 164.2,138.9 163.9,139.3C163.6,139.7 163.2,140.1 162.9,140.4C162.5,140.8 162.0,141.0 161.7,141.4C161.3,141.7 160.8,141.9 160.5,142.3C160.1,142.6 159.9,143.2 159.6,143.5C159.2,143.9 158.7,144.2 158.3,144.5C157.9,144.8 157.4,144.8 156.9,145.2C156.5,145.6 156.1,146.3 155.7,146.8C155.2,147.3 154.7,147.6 154.1,148.2C153.6,148.9 153.1,149.2 152.3,150.8C151.5,152.4 150.5,156.3 149.4,157.9C148.3,159.4 146.8,160.4 145.9,160.1C145.0,159.8 144.5,157.3 143.9,156.0C143.3,154.7 142.8,153.6 142.5,152.3C142.2,151.0 142.2,149.4 142.1,148.3C141.9,147.2 141.6,146.4 141.5,145.5C141.4,144.6 141.6,143.5 141.5,142.8C141.4,142.0 141.0,141.7 141.0,141.0C140.9,140.4 141.1,139.7 141.0,139.1C141.0,138.5 141.0,138.0 140.9,137.5C140.9,137.0 140.8,136.5 140.8,136.0C140.8,135.6 140.8,135.1 140.8,134.6C140.9,134.2 141.0,133.7 141.1,133.3C141.2,132.8 141.3,132.4 141.3,132.0C141.3,131.6 141.2,131.2 141.2,130.7C141.2,130.3 141.3,129.9 141.3,129.5C141.3,129.0 141.1,128.5 141.2,128.1C141.2,127.7 141.5,127.3 141.6,126.9C141.7,126.4 141.7,125.9 141.7,125.4C141.8,124.8 141.6,124.1 141.7,123.6C141.8,123.0 142.2,122.7 142.3,122.0C142.4,121.3 142.2,120.2 142.4,119.6C142.7,119.0 143.2,118.7 143.7,118.3C144.2,118.0 144.7,117.6 145.3,117.5C145.9,117.4 146.7,117.7 147.3,117.7C147.9,117.7 148.5,117.7 149.0,117.7C149.6,117.7 150.2,117.8 150.7,117.8C151.2,117.7 151.8,117.5 152.3,117.5C152.8,117.5 153.4,117.8 153.9,117.9C154.4,118.0 155.0,117.9 155.5,118.0C156.0,118.1 156.6,118.2 157.1,118.4C157.6,118.6 158.0,118.9 158.5,119.1C159.0,119.4 159.4,119.7 159.9,119.9C160.4,120.1 161.0,120.2 161.5,120.5C162.0,120.7 162.4,121.1 162.8,121.5C163.3,121.8 163.5,122.3 164.0,122.7C164.4,123.1 165.1,123.3 165.5,123.7C165.8,124.2 166.0,124.7 166.3,125.3C166.5,125.8 166.7,126.4 166.8,126.9C166.9,127.5 166.9,128.1 167.0,128.6C167.1,129.2 167.3,129.7 167.3,130.3C167.3,130.9 167.0,131.4 166.9,132.0Z" fill="none" stroke="#1a1a1a" stroke-width="0.5"/><path d="M168.4,132.0C168.4,132.6 168.1,133.2 167.9,133.8C167.7,134.3 167.7,134.9 167.4,135.4C167.1,136.0 166.6,136.4 166.3,136.9C166.0,137.4 165.7,137.8 165.4,138.3C165.1,138.8 164.7,139.2 164.4,139.6C164.2,140.1 163.9,140.6 163.6,141.0C163.3,141.5 163.0,141.9 162.5,142.2C162.1,142.6 161.6,142.8 161.2,143.1C160.7,143.4 160.3,143.7 159.9,144.1C159.5,144.5 159.1,144.9 158.7,145.3C158.3,145.7 157.8,146.0 157.4,146.5C156.9,147.0 156.5,147.6 156.0,148.1C155.5,148.6 154.9,148.8 154.3,149.5C153.7,150.3 153.2,150.9 152.3,152.7C151.4,154.5 150.3,158.7 149.1,160.4C147.9,162.2 146.2,163.3 145.2,163.0C144.2,162.7 143.6,160.1 143.0,158.6C142.4,157.1 141.9,155.8 141.6,154.3C141.3,152.8 141.3,151.0 141.2,149.7C141.0,148.4 140.9,147.4 140.8,146.4C140.7,145.4 140.6,144.6 140.5,143.8C140.4,143.0 140.2,142.4 140.1,141.7C140.1,141.0 140.2,140.2 140.2,139.6C140.2,139.0 140.2,138.4 140.1,137.9C140.1,137.3 140.0,136.8 140.0,136.3C140.0,135.8 140.2,135.2 140.3,134.7C140.4,134.2 140.5,133.8 140.5,133.3C140.6,132.9 140.6,132.4 140.6,132.0C140.6,131.6 140.4,131.1 140.4,130.7C140.4,130.2 140.6,129.8 140.6,129.3C140.7,128.9 140.5,128.3 140.5,127.9C140.5,127.4 140.6,126.9 140.6,126.4C140.7,125.9 140.7,125.3 140.8,124.8C140.9,124.2 141.1,123.8 141.3,123.2C141.4,122.6 141.4,122.0 141.5,121.2C141.6,120.5 141.5,119.4 141.7,118.8C142.0,118.1 142.6,117.8 143.1,117.4C143.6,117.0 144.2,116.6 144.8,116.4C145.4,116.2 146.2,116.3 146.8,116.3C147.5,116.3 148.1,116.4 148.7,116.4C149.4,116.5 150.0,116.4 150.5,116.4C151.1,116.4 151.7,116.4 152.3,116.4C152.9,116.5 153.5,116.5 154.0,116.5C154.6,116.6 155.2,116.7 155.8,116.9C156.3,117.0 156.9,117.1 157.4,117.3C158.0,117.5 158.6,117.6 159.1,117.9C159.6,118.2 160.0,118.7 160.5,119.0C161.0,119.2 161.7,119.3 162.2,119.6C162.7,119.9 163.1,120.3 163.6,120.7C164.1,121.1 164.6,121.4 165.1,121.8C165.5,122.2 166.0,122.7 166.4,123.1C166.8,123.6 167.3,124.1 167.6,124.6C167.9,125.2 167.8,125.9 167.9,126.5C168.1,127.1 168.3,127.7 168.3,128.3C168.4,129.0 168.2,129.6 168.2,130.2C168.2,130.8 168.5,131.4 168.4,132.0Z" fill="none" stroke="#1a1a1a" stroke-width="0.5"/><path d="M169.2,132.0C169.1,132.6 169.3,133.3 169.1,133.9C169.0,134.5 168.5,135.1 168.2,135.6C167.9,136.2 167.7,136.8 167.4,137.3C167.1,137.8 166.7,138.3 166.3,138.8C166.0,139.3 165.8,139.8 165.5,140.3C165.1,140.7 164.6,141.1 164.2,141.5C163.8,141.9 163.4,142.3 163.0,142.7C162.6,143.1 162.3,143.6 161.9,144.1C161.5,144.5 161.0,144.8 160.6,145.2C160.1,145.6 159.8,146.2 159.3,146.5C158.8,146.9 158.2,147.0 157.7,147.5C157.2,147.9 156.8,148.5 156.2,149.2C155.7,149.8 155.1,150.4 154.5,151.3C153.8,152.1 153.2,152.4 152.3,154.4C151.4,156.4 150.1,161.2 148.8,163.0C147.5,164.8 145.8,165.7 144.7,165.4C143.6,165.0 142.9,162.2 142.3,160.7C141.6,159.1 141.1,157.6 140.8,156.0C140.4,154.4 140.4,152.5 140.3,151.1C140.1,149.8 139.8,148.9 139.7,147.8C139.5,146.8 139.6,145.7 139.5,144.8C139.4,143.9 139.2,143.3 139.1,142.5C139.1,141.8 139.2,140.9 139.1,140.3C139.1,139.6 138.9,139.1 138.9,138.4C138.9,137.8 139.2,137.1 139.3,136.6C139.4,136.0 139.5,135.4 139.5,134.9C139.5,134.4 139.4,133.9 139.4,133.5C139.3,133.0 139.3,132.5 139.4,132.0C139.5,131.5 139.9,131.1 139.9,130.6C140.0,130.1 139.8,129.6 139.8,129.1C139.8,128.7 139.9,128.2 139.9,127.7C140.0,127.2 140.2,126.7 140.2,126.2C140.3,125.7 140.3,125.1 140.3,124.5C140.4,123.9 140.5,123.3 140.6,122.6C140.6,122.0 140.6,121.2 140.7,120.4C140.8,119.6 140.6,118.4 140.9,117.7C141.2,117.0 141.8,116.6 142.4,116.2C142.9,115.8 143.5,115.4 144.2,115.2C144.9,115.0 145.7,115.2 146.4,115.2C147.1,115.2 147.8,115.3 148.5,115.3C149.2,115.3 149.8,115.3 150.4,115.2C151.0,115.2 151.7,115.1 152.3,115.2C152.9,115.2 153.5,115.4 154.2,115.6C154.8,115.7 155.4,115.7 156.0,115.9C156.6,116.0 157.1,116.3 157.7,116.5C158.4,116.6 159.1,116.5 159.7,116.7C160.3,116.9 160.8,117.4 161.3,117.7C161.8,118.1 162.2,118.5 162.8,118.9C163.3,119.2 163.9,119.5 164.4,119.9C165.0,120.2 165.5,120.7 166.0,121.1C166.5,121.5 167.1,121.9 167.6,122.4C168.0,122.9 168.5,123.5 168.7,124.1C169.0,124.7 169.0,125.5 169.1,126.1C169.2,126.8 169.4,127.4 169.5,128.1C169.6,128.7 169.7,129.4 169.6,130.0C169.6,130.7 169.3,131.4 169.2,132.0Z" fill="none" stroke="#1a1a1a" stroke-width="0.5"/>
<ellipse cx="159.3" cy="91.8" rx="1.5" ry="4.0" transform="rotate(50 159.3 91.8)" fill="#eee" stroke="#222" stroke-width="0.4"/>
<ellipse cx="152.8" cy="131.5" rx="2.3" ry="4.2" transform="rotate(25 152.8 131.5)" fill="#f4f4f4" stroke="#222" stroke-width="0.4"/>
</g>
<circle cx="58" cy="82" r="0.55" fill="#444"/>
<circle cx="61" cy="79" r="0.55" fill="#444"/>
<circle cx="61.5" cy="86" r="0.55" fill="#444"/>
<circle cx="63" cy="88" r="0.55" fill="#444"/>
<circle cx="62" cy="97" r="0.55" fill="#444"/>
<circle cx="72" cy="102" r="0.55" fill="#444"/>
<circle cx="62" cy="110" r="0.55" fill="#444"/>
<circle cx="73" cy="112" r="0.55" fill="#444"/>
<circle cx="177" cy="78" r="0.55" fill="#444"/>
<circle cx="183" cy="78" r="0.55" fill="#444"/>
<circle cx="171" cy="86" r="0.55" fill="#444"/>
<circle cx="176" cy="105" r="0.55" fill="#444"/>
<circle cx="170" cy="114" r="0.55" fill="#444"/>
<circle cx="174" cy="118" r="0.55" fill="#444"/>
<circle cx="178" cy="122" r="0.55" fill="#444"/>
<circle cx="181" cy="124" r="0.55" fill="#444"/>
<circle cx="168" cy="125" r="0.55" fill="#444"/>
<circle cx="174" cy="129" r="0.55" fill="#444"/>
<circle cx="175" cy="135" r="0.55" fill="#444"/>
<circle cx="178" cy="135" r="0.55" fill="#444"/>
<circle cx="182" cy="131" r="0.55" fill="#444"/>
<circle cx="174" cy="150" r="0.55" fill="#444"/>
<circle cx="172" cy="153" r="0.55" fill="#444"/>
<circle cx="160" cy="152" r="0.55" fill="#444"/>
<line x1="60.2" y1="62" x2="60.2" y2="168" stroke="#4f4aa8" stroke-width="0.9"/>
<line x1="36.4" y1="112.8" x2="143.4" y2="112.8" stroke="#4f4aa8" stroke-width="0.9"/>
<line x1="171.3" y1="61.7" x2="171.3" y2="167.9" stroke="#4f4aa8" stroke-width="0.9"/>
<line x1="147.3" y1="112.4" x2="254.3" y2="112.4" stroke="#4f4aa8" stroke-width="0.9"/>
<text transform="translate(39.39,74.00) scale(1.0525,1)" font-size="10.71" font-weight="normal" font-style="normal" fill="#000" >8</text>
<text transform="translate(125.16,74.00) scale(1.0293,1)" font-size="10.57" font-weight="normal" font-style="normal" fill="#000" >0.6</text>
<text transform="translate(38.85,166.30) scale(1.1751,1)" font-size="10.43" font-weight="normal" font-style="normal" fill="#000" >89</text>
<text transform="translate(124.61,166.30) scale(1.1590,1)" font-size="10.14" font-weight="normal" font-style="normal" fill="#000" >2.4</text>
<text transform="translate(149.12,74.00) scale(1.1351,1)" font-size="10.57" font-weight="normal" font-style="normal" fill="#000" >33</text>
<text transform="translate(244.67,74.90) scale(1.1692,1)" font-size="10.71" font-weight="normal" font-style="normal" fill="#000" >2</text>
<text transform="translate(149.20,166.40) scale(1.1370,1)" font-size="10.57" font-weight="normal" font-style="normal" fill="#000" >63</text>
<text transform="translate(245.77,165.50) scale(0.8622,1)" font-size="9.71" font-weight="normal" font-style="normal" fill="#000" >1</text>
</g>
<g id="panelB">
<text transform="translate(294.60,142.37) rotate(-90) scale(0.6732,1)" font-size="12.97" font-weight="bold" font-style="normal" fill="#000">Percent in each phase</text>
<line x1="331.1" y1="26.6" x2="331.1" y2="166.3" stroke="#000" stroke-width="1.5"/>
<line x1="326.6" y1="165.60" x2="331" y2="165.60" stroke="#000" stroke-width="1.1"/>
<line x1="328.6" y1="158.84" x2="331" y2="158.84" stroke="#000" stroke-width="1.1"/>
<line x1="328.6" y1="152.08" x2="331" y2="152.08" stroke="#000" stroke-width="1.1"/>
<line x1="328.6" y1="145.32" x2="331" y2="145.32" stroke="#000" stroke-width="1.1"/>
<line x1="328.6" y1="138.56" x2="331" y2="138.56" stroke="#000" stroke-width="1.1"/>
<line x1="328.6" y1="131.80" x2="331" y2="131.80" stroke="#000" stroke-width="1.1"/>
<line x1="328.6" y1="125.04" x2="331" y2="125.04" stroke="#000" stroke-width="1.1"/>
<line x1="328.6" y1="118.28" x2="331" y2="118.28" stroke="#000" stroke-width="1.1"/>
<line x1="328.6" y1="111.52" x2="331" y2="111.52" stroke="#000" stroke-width="1.1"/>
<line x1="328.6" y1="104.76" x2="331" y2="104.76" stroke="#000" stroke-width="1.1"/>
<line x1="326.6" y1="98.00" x2="331" y2="98.00" stroke="#000" stroke-width="1.1"/>
<line x1="328.6" y1="91.24" x2="331" y2="91.24" stroke="#000" stroke-width="1.1"/>
<line x1="328.6" y1="84.48" x2="331" y2="84.48" stroke="#000" stroke-width="1.1"/>
<line x1="328.6" y1="77.72" x2="331" y2="77.72" stroke="#000" stroke-width="1.1"/>
<line x1="328.6" y1="70.96" x2="331" y2="70.96" stroke="#000" stroke-width="1.1"/>
<line x1="328.6" y1="64.20" x2="331" y2="64.20" stroke="#000" stroke-width="1.1"/>
<line x1="328.6" y1="57.44" x2="331" y2="57.44" stroke="#000" stroke-width="1.1"/>
<line x1="328.6" y1="50.68" x2="331" y2="50.68" stroke="#000" stroke-width="1.1"/>
<line x1="328.6" y1="43.92" x2="331" y2="43.92" stroke="#000" stroke-width="1.1"/>
<line x1="328.6" y1="37.16" x2="331" y2="37.16" stroke="#000" stroke-width="1.1"/>
<line x1="326.6" y1="30.40" x2="331" y2="30.40" stroke="#000" stroke-width="1.1"/>
<text transform="translate(302.63,34.60) scale(1.0696,1)" font-size="10.86" font-weight="normal" font-style="normal" fill="#000" >100</text>
<text transform="translate(308.50,101.90) scale(1.1625,1)" font-size="10.86" font-weight="normal" font-style="normal" fill="#000" >50</text>
<text transform="translate(315.53,169.40) scale(1.0859,1)" font-size="10.86" font-weight="normal" font-style="normal" fill="#000" >0</text>
<line x1="326.6" y1="165.6" x2="501.6" y2="165.6" stroke="#000" stroke-width="1.5"/>
<line x1="345.5" y1="165.6" x2="345.5" y2="170.2" stroke="#000" stroke-width="1.2"/>
<line x1="368.2" y1="165.6" x2="368.2" y2="170.2" stroke="#000" stroke-width="1.2"/>
<line x1="405.1" y1="165.6" x2="405.1" y2="170.2" stroke="#000" stroke-width="1.2"/>
<line x1="427.5" y1="165.6" x2="427.5" y2="170.2" stroke="#000" stroke-width="1.2"/>
<line x1="464.6" y1="165.6" x2="464.6" y2="170.2" stroke="#000" stroke-width="1.2"/>
<line x1="487.2" y1="165.6" x2="487.2" y2="170.2" stroke="#000" stroke-width="1.2"/>
<rect x="339.2" y="57.5" width="12.70" height="108.10" fill="#2c4a7e"/>
<rect x="361.8" y="87.9" width="12.80" height="77.70" fill="#a3002b"/>
<rect x="398.7" y="150.8" width="13.00" height="14.80" fill="#2c4a7e"/>
<rect x="421.1" y="120.5" width="12.80" height="45.10" fill="#a3002b"/>
<rect x="458.0" y="163.3" width="13.00" height="2.30" fill="#2c4a7e"/>
<rect x="480.9" y="160.6" width="12.70" height="5.00" fill="#a3002b"/>
<line x1="345.5" y1="48.5" x2="345.5" y2="66.5" stroke="#000" stroke-width="1.3"/><line x1="341.1" y1="48.5" x2="349.9" y2="48.5" stroke="#000" stroke-width="1.3"/>
<line x1="368.2" y1="71.5" x2="368.2" y2="101.3" stroke="#000" stroke-width="1.3"/><line x1="364.4" y1="71.5" x2="372.0" y2="71.5" stroke="#000" stroke-width="1.3"/><line x1="364.4" y1="101.3" x2="372.0" y2="101.3" stroke="#000" stroke-width="1.3"/>
<line x1="405.1" y1="142.1" x2="405.1" y2="159.5" stroke="#000" stroke-width="1.3"/><line x1="401.3" y1="142.1" x2="408.90000000000003" y2="142.1" stroke="#000" stroke-width="1.3"/>
<line x1="427.5" y1="104.4" x2="427.5" y2="135.8" stroke="#000" stroke-width="1.3"/><line x1="423.5" y1="104.4" x2="431.5" y2="104.4" stroke="#000" stroke-width="1.3"/><line x1="423.5" y1="135.8" x2="431.5" y2="135.8" stroke="#000" stroke-width="1.3"/>
<line x1="487.2" y1="155.0" x2="487.2" y2="166.0" stroke="#000" stroke-width="1.3"/><line x1="483.4" y1="155.0" x2="491.0" y2="155.0" stroke="#000" stroke-width="1.3"/>
<ellipse cx="345.4" cy="34.0" rx="3.45" ry="2.75" fill="#000"/>
<ellipse cx="345.4" cy="45.4" rx="3.45" ry="2.75" fill="#000"/>
<ellipse cx="341.5" cy="62.9" rx="3.45" ry="2.75" fill="#000"/>
<ellipse cx="349.4" cy="62.9" rx="3.45" ry="2.75" fill="#000"/>
<ellipse cx="345.4" cy="75.0" rx="3.45" ry="2.75" fill="#000"/>
<ellipse cx="368.0" cy="45.6" rx="3.45" ry="2.75" fill="#000"/>
<ellipse cx="368.0" cy="52.3" rx="3.45" ry="2.75" fill="#000"/>
<ellipse cx="368.0" cy="67.4" rx="3.45" ry="2.75" fill="#000"/>
<ellipse cx="368.0" cy="81.0" rx="3.45" ry="2.75" fill="#000"/>
<ellipse cx="368.0" cy="91.9" rx="3.45" ry="2.75" fill="#000"/>
<ellipse cx="368.0" cy="140.4" rx="3.45" ry="2.75" fill="#000"/>
<ellipse cx="405.0" cy="126.3" rx="3.45" ry="2.75" fill="#000"/>
<ellipse cx="405.0" cy="141.8" rx="3.45" ry="2.75" fill="#000"/>
<ellipse cx="401.0" cy="155.4" rx="3.45" ry="2.75" fill="#000"/>
<ellipse cx="409.2" cy="159.8" rx="3.45" ry="2.75" fill="#000"/>
<ellipse cx="401.2" cy="163.5" rx="3.45" ry="2.75" fill="#000"/>
<ellipse cx="427.5" cy="73.3" rx="3.45" ry="2.75" fill="#000"/>
<ellipse cx="427.5" cy="100.4" rx="3.45" ry="2.75" fill="#000"/>
<ellipse cx="427.5" cy="120.5" rx="3.45" ry="2.75" fill="#000"/>
<ellipse cx="427.5" cy="147.5" rx="3.45" ry="2.75" fill="#000"/>
<ellipse cx="427.5" cy="158.6" rx="3.45" ry="2.75" fill="#000"/>
<ellipse cx="460.5" cy="163.6" rx="3.45" ry="2.75" fill="#000"/>
<ellipse cx="464.3" cy="162.0" rx="3.45" ry="2.75" fill="#000"/>
<ellipse cx="468.2" cy="163.4" rx="3.45" ry="2.75" fill="#000"/>
<ellipse cx="463.5" cy="164.6" rx="3.45" ry="2.75" fill="#000"/>
<ellipse cx="470.0" cy="164.6" rx="3.45" ry="2.75" fill="#000"/>
<ellipse cx="487.2" cy="148.8" rx="3.45" ry="2.75" fill="#000"/>
<ellipse cx="487.2" cy="156.0" rx="3.45" ry="2.75" fill="#000"/>
<ellipse cx="482.6" cy="164.6" rx="3.45" ry="2.75" fill="#000"/>
<ellipse cx="491.8" cy="164.6" rx="3.45" ry="2.75" fill="#000"/>
<ellipse cx="487.2" cy="164.8" rx="3.45" ry="2.75" fill="#000"/>
<line x1="345.4" y1="28.2" x2="368.7" y2="28.2" stroke="#000" stroke-width="1.4"/>
<line x1="403.6" y1="62.5" x2="426.9" y2="62.5" stroke="#000" stroke-width="1.4"/>
<line x1="466.2" y1="129.2" x2="489.8" y2="129.2" stroke="#000" stroke-width="1.4"/>
<text transform="translate(339.48,21.00) scale(1.0980,1)" font-size="10.14" font-weight="normal" font-style="normal" fill="#000" >p=0.04</text>
<text transform="translate(397.98,56.30) scale(1.1126,1)" font-size="10.00" font-weight="normal" font-style="normal" fill="#000" >p=0.03</text>
<text transform="translate(460.27,121.60) scale(1.1227,1)" font-size="10.00" font-weight="normal" font-style="normal" fill="#000" >p=0.09</text>
<text transform="translate(293.98,188.40) scale(0.9545,1)" font-size="10.72" font-weight="normal" font-style="normal" fill="#000" >Dox</text>
<line x1="344.5" y1="181.9" x2="346.70000000000005" y2="181.9" stroke="#000" stroke-width="0.9"/>
<line x1="404.4" y1="181.9" x2="406.6" y2="181.9" stroke="#000" stroke-width="0.9"/>
<line x1="460.2" y1="181.9" x2="462.40000000000003" y2="181.9" stroke="#000" stroke-width="0.9"/>
<line x1="364.79999999999995" y1="181.8" x2="371.0" y2="181.8" stroke="#000" stroke-width="0.9"/>
<line x1="367.9" y1="178.6" x2="367.9" y2="185.0" stroke="#000" stroke-width="0.9"/>
<line x1="424.5" y1="181.8" x2="430.70000000000005" y2="181.8" stroke="#000" stroke-width="0.9"/>
<line x1="427.6" y1="178.6" x2="427.6" y2="185.0" stroke="#000" stroke-width="0.9"/>
<line x1="484.5" y1="181.8" x2="490.70000000000005" y2="181.8" stroke="#000" stroke-width="0.9"/>
<line x1="487.6" y1="178.6" x2="487.6" y2="185.0" stroke="#000" stroke-width="0.9"/>
<path d="M340.7,191.4 L340.7,193.9 Q340.7,195.7 342.7,195.7 L373.0,195.7 Q375.0,195.7 375.0,193.9 L375.0,191.4 M357.6,195.7 L357.6,200.2" fill="none" stroke="#000" stroke-width="1.5"/>
<path d="M400.6,191.4 L400.6,193.9 Q400.6,195.7 402.6,195.7 L432.9,195.7 Q434.9,195.7 434.9,193.9 L434.9,191.4 M417.6,195.7 L417.6,200.2" fill="none" stroke="#000" stroke-width="1.5"/>
<path d="M458.5,191.4 L458.5,193.9 Q458.5,195.7 460.5,195.7 L490.4,195.7 Q492.4,195.7 492.4,193.9 L492.4,191.4 M475.2,195.7 L475.2,200.2" fill="none" stroke="#000" stroke-width="1.5"/>
<text transform="translate(350.70,214.50) scale(1.0553,1)" font-size="11.43" font-weight="normal" font-style="normal" fill="#000" >G</text>
<text transform="translate(360.16,218.60) scale(1.0526,1)" font-size="8.00" font-weight="normal" font-style="normal" fill="#000" >0</text>
<text transform="translate(410.40,214.50) scale(1.0553,1)" font-size="11.43" font-weight="normal" font-style="normal" fill="#000" >G</text>
<text transform="translate(420.10,218.60) scale(0.6591,1)" font-size="8.12" font-weight="normal" font-style="normal" fill="#000" >1</text>
<text transform="translate(455.46,216.50) scale(1.0978,1)" font-size="10.90" font-weight="normal" font-style="normal" fill="#000" >S/G</text>
<text transform="translate(476.58,220.60) scale(1.1243,1)" font-size="7.43" font-weight="normal" font-style="normal" fill="#000" >2</text>
<text transform="translate(481.20,216.50) scale(1.1731,1)" font-size="10.76" font-weight="normal" font-style="normal" fill="#000" >/M</text>
</g>
<g id="panelC">
<text transform="translate(37.10,357.85) rotate(-90) scale(0.6561,1)" font-size="12.83" font-weight="bold" font-style="normal" fill="#000">Relative <tspan font-style="italic">CDKN1A</tspan> expression</text>
<line x1="60.3" y1="243.4" x2="60.3" y2="357.1" stroke="#000" stroke-width="1.5"/>
<line x1="56.2" y1="356.40" x2="60.3" y2="356.40" stroke="#000" stroke-width="1.2"/>
<text transform="translate(45.13,359.80) scale(1.2136,1)" font-size="9.71" font-weight="normal" font-style="normal" fill="#000" >0</text>
<line x1="56.2" y1="334.47" x2="60.3" y2="334.47" stroke="#000" stroke-width="1.2"/>
<text transform="translate(45.80,337.87) scale(1.0855,1)" font-size="9.86" font-weight="normal" font-style="normal" fill="#000" >1</text>
<line x1="56.2" y1="312.54" x2="60.3" y2="312.54" stroke="#000" stroke-width="1.2"/>
<text transform="translate(44.98,315.94) scale(1.2670,1)" font-size="9.71" font-weight="normal" font-style="normal" fill="#000" >2</text>
<line x1="56.2" y1="290.61" x2="60.3" y2="290.61" stroke="#000" stroke-width="1.2"/>
<text transform="translate(45.12,294.01) scale(1.2265,1)" font-size="9.71" font-weight="normal" font-style="normal" fill="#000" >3</text>
<line x1="56.2" y1="268.68" x2="60.3" y2="268.68" stroke="#000" stroke-width="1.2"/>
<text transform="translate(45.32,272.08) scale(1.1365,1)" font-size="9.86" font-weight="normal" font-style="normal" fill="#000" >4</text>
<line x1="56.2" y1="246.75" x2="60.3" y2="246.75" stroke="#000" stroke-width="1.2"/>
<text transform="translate(45.13,250.15) scale(1.1963,1)" font-size="9.86" font-weight="normal" font-style="normal" fill="#000" >5</text>
<line x1="56.2" y1="356.4" x2="216.5" y2="356.4" stroke="#000" stroke-width="1.5"/>
<line x1="107.4" y1="356.4" x2="107.4" y2="361.0" stroke="#000" stroke-width="1.2"/>
<line x1="178.3" y1="356.4" x2="178.3" y2="361.0" stroke="#000" stroke-width="1.2"/>
<rect x="83.8" y="335.0" width="47.1" height="21.40" fill="#a3002b"/>
<rect x="155.1" y="293.0" width="46.8" height="63.40" fill="#2c4a7e"/>
<circle cx="86.0" cy="334.4" r="2.25" fill="#000"/>
<circle cx="94.6" cy="334.4" r="2.25" fill="#000"/>
<circle cx="103.1" cy="334.4" r="2.25" fill="#000"/>
<circle cx="111.6" cy="334.4" r="2.25" fill="#000"/>
<circle cx="120.2" cy="334.4" r="2.25" fill="#000"/>
<circle cx="129.0" cy="334.4" r="2.25" fill="#000"/>
<line x1="178.4" y1="283.9" x2="178.4" y2="298.7" stroke="#000" stroke-width="1.5"/><line x1="166.20000000000002" y1="283.9" x2="190.6" y2="283.9" stroke="#000" stroke-width="1.5"/><line x1="166.20000000000002" y1="298.7" x2="190.6" y2="298.7" stroke="#000" stroke-width="1.5"/>
<rect x="176.3" y="281.8" width="4.2" height="17" fill="#000"/>
<rect x="176.20000000000002" y="264.2" width="4.4" height="4.4" fill="#000"/>
<rect x="176.20000000000002" y="318.8" width="4.4" height="4.4" fill="#000"/>
<text transform="translate(114.58,261.90) scale(1.1250,1)" font-size="9.86" font-weight="normal" font-style="normal" fill="#000" >p=0.0002</text>
<text transform="translate(94.87,374.80) scale(1.0609,1)" font-size="10.00" font-weight="normal" font-style="normal" fill="#000" >+Dox</text>
<text transform="translate(167.75,374.70) scale(1.0172,1)" font-size="9.86" font-weight="normal" font-style="normal" fill="#000" >-Dox</text>
</g>
<g id="panelD">
<text transform="translate(318.96,266.60) scale(0.9795,1)" font-size="13.24" font-weight="normal" font-style="normal" fill="#000" >Hallmark E2F targets</text>
<text transform="translate(310.90,353.46) rotate(-90) scale(0.6498,1)" font-size="13.24" font-weight="bold" font-style="normal" fill="#000">Enrichment score</text>
<rect x="319.7" y="274.5" width="132.6" height="86.5" fill="#fff" stroke="#d6d6d6" stroke-width="0.8"/>
<line x1="334.0" y1="274.5" x2="334.0" y2="355.6" stroke="#f3f3f3" stroke-width="0.7"/>
<line x1="348.2" y1="274.5" x2="348.2" y2="355.6" stroke="#f3f3f3" stroke-width="0.7"/>
<line x1="362.4" y1="274.5" x2="362.4" y2="355.6" stroke="#f3f3f3" stroke-width="0.7"/>
<line x1="376.6" y1="274.5" x2="376.6" y2="355.6" stroke="#f3f3f3" stroke-width="0.7"/>
<line x1="390.8" y1="274.5" x2="390.8" y2="355.6" stroke="#f3f3f3" stroke-width="0.7"/>
<line x1="405.0" y1="274.5" x2="405.0" y2="355.6" stroke="#f3f3f3" stroke-width="0.7"/>
<line x1="419.2" y1="274.5" x2="419.2" y2="355.6" stroke="#f3f3f3" stroke-width="0.7"/>
<line x1="433.4" y1="274.5" x2="433.4" y2="355.6" stroke="#f3f3f3" stroke-width="0.7"/>
<line x1="447.6" y1="274.5" x2="447.6" y2="355.6" stroke="#f3f3f3" stroke-width="0.7"/>
<line x1="319.7" y1="286.0" x2="452.3" y2="286.0" stroke="#f3f3f3" stroke-width="0.7"/>
<line x1="319.7" y1="298.5" x2="452.3" y2="298.5" stroke="#f3f3f3" stroke-width="0.7"/>
<line x1="319.7" y1="311.0" x2="452.3" y2="311.0" stroke="#f3f3f3" stroke-width="0.7"/>
<line x1="319.7" y1="323.5" x2="452.3" y2="323.5" stroke="#b4b4b4" stroke-width="0.8"/>
<line x1="319.7" y1="335.4" x2="452.3" y2="335.4" stroke="#d0d0d0" stroke-width="0.8"/>
<rect x="329.00" y="335.9" width="0.80" height="19.5" fill="rgb(101,101,101)"/>
<rect x="331.20" y="335.9" width="0.80" height="19.5" fill="rgb(11,11,11)"/>
<rect x="332.00" y="335.9" width="0.80" height="19.5" fill="rgb(41,41,41)"/>
<rect x="332.80" y="335.9" width="0.80" height="19.5" fill="rgb(6,6,6)"/>
<rect x="333.60" y="335.9" width="0.80" height="19.5" fill="rgb(34,34,34)"/>
<rect x="335.50" y="335.9" width="0.80" height="19.5" fill="rgb(111,111,111)"/>
<rect x="337.00" y="335.9" width="0.80" height="19.5" fill="rgb(53,53,53)"/>
<rect x="337.80" y="335.9" width="0.80" height="19.5" fill="rgb(80,80,80)"/>
<rect x="338.60" y="335.9" width="0.80" height="19.5" fill="rgb(52,52,52)"/>
<rect x="339.40" y="335.9" width="0.80" height="19.5" fill="rgb(76,76,76)"/>
<rect x="340.20" y="335.9" width="0.80" height="19.5" fill="rgb(54,54,54)"/>
<rect x="342.00" y="335.9" width="0.80" height="19.5" fill="rgb(0,0,0)"/>
<rect x="342.80" y="335.9" width="0.80" height="19.5" fill="rgb(11,11,11)"/>
<rect x="343.60" y="335.9" width="0.60" height="19.5" fill="rgb(35,35,35)"/>
<rect x="344.70" y="335.9" width="0.80" height="19.5" fill="rgb(21,21,21)"/>
<rect x="345.50" y="335.9" width="0.80" height="19.5" fill="rgb(27,27,27)"/>
<rect x="346.30" y="335.9" width="0.80" height="19.5" fill="rgb(51,51,51)"/>
<rect x="347.10" y="335.9" width="0.80" height="19.5" fill="rgb(70,70,70)"/>
<rect x="347.90" y="335.9" width="0.80" height="19.5" fill="rgb(48,48,48)"/>
<rect x="348.70" y="335.9" width="0.30" height="19.5" fill="rgb(37,37,37)"/>
<rect x="349.00" y="335.9" width="0.80" height="19.5" fill="rgb(96,96,96)"/>
<rect x="349.80" y="335.9" width="0.80" height="19.5" fill="rgb(40,40,40)"/>
<rect x="350.60" y="335.9" width="0.40" height="19.5" fill="rgb(89,89,89)"/>
<rect x="351.00" y="335.9" width="0.80" height="19.5" fill="rgb(23,23,23)"/>
<rect x="351.80" y="335.9" width="0.80" height="19.5" fill="rgb(14,14,14)"/>
<rect x="352.60" y="335.9" width="0.80" height="19.5" fill="rgb(13,13,13)"/>
<rect x="353.40" y="335.9" width="0.40" height="19.5" fill="rgb(24,24,24)"/>
<rect x="354.10" y="335.9" width="0.80" height="19.5" fill="rgb(34,34,34)"/>
<rect x="354.90" y="335.9" width="0.80" height="19.5" fill="rgb(0,0,0)"/>
<rect x="356.70" y="335.9" width="0.80" height="19.5" fill="rgb(60,60,60)"/>
<rect x="357.50" y="335.9" width="0.80" height="19.5" fill="rgb(64,64,64)"/>
<rect x="358.30" y="335.9" width="0.80" height="19.5" fill="rgb(48,48,48)"/>
<rect x="359.10" y="335.9" width="0.50" height="19.5" fill="rgb(58,58,58)"/>
<rect x="361.00" y="335.9" width="0.80" height="19.5" fill="rgb(0,0,0)"/>
<rect x="361.80" y="335.9" width="0.80" height="19.5" fill="rgb(0,0,0)"/>
<rect x="362.60" y="335.9" width="0.80" height="19.5" fill="rgb(0,0,0)"/>
<rect x="364.00" y="335.9" width="0.80" height="19.5" fill="rgb(66,66,66)"/>
<rect x="364.80" y="335.9" width="0.80" height="19.5" fill="rgb(51,51,51)"/>
<rect x="365.60" y="335.9" width="0.80" height="19.5" fill="rgb(44,44,44)"/>
<rect x="366.50" y="335.9" width="0.80" height="19.5" fill="rgb(85,85,85)"/>
<rect x="367.30" y="335.9" width="0.80" height="19.5" fill="rgb(77,77,77)"/>
<rect x="368.10" y="335.9" width="0.80" height="19.5" fill="rgb(67,67,67)"/>
<rect x="368.90" y="335.9" width="0.30" height="19.5" fill="rgb(97,97,97)"/>
<rect x="370.00" y="335.9" width="0.80" height="19.5" fill="rgb(123,123,123)"/>
<rect x="370.80" y="335.9" width="0.60" height="19.5" fill="rgb(96,96,96)"/>
<rect x="372.40" y="335.9" width="0.80" height="19.5" fill="rgb(44,44,44)"/>
<rect x="373.80" y="335.9" width="0.80" height="19.5" fill="rgb(113,113,113)"/>
<rect x="374.60" y="335.9" width="0.80" height="19.5" fill="rgb(134,134,134)"/>
<rect x="375.40" y="335.9" width="0.80" height="19.5" fill="rgb(125,125,125)"/>
<rect x="376.20" y="335.9" width="0.80" height="19.5" fill="rgb(99,99,99)"/>
<rect x="377.00" y="335.9" width="0.70" height="19.5" fill="rgb(140,140,140)"/>
<rect x="378.70" y="335.9" width="0.80" height="19.5" fill="rgb(0,0,0)"/>
<rect x="379.50" y="335.9" width="0.60" height="19.5" fill="rgb(15,15,15)"/>
<rect x="382.00" y="335.9" width="0.80" height="19.5" fill="rgb(135,135,135)"/>
<rect x="382.80" y="335.9" width="0.80" height="19.5" fill="rgb(99,99,99)"/>
<rect x="383.60" y="335.9" width="0.80" height="19.5" fill="rgb(119,119,119)"/>
<rect x="384.40" y="335.9" width="0.80" height="19.5" fill="rgb(92,92,92)"/>
<rect x="385.20" y="335.9" width="0.70" height="19.5" fill="rgb(130,130,130)"/>
<rect x="387.30" y="335.9" width="0.80" height="19.5" fill="rgb(35,35,35)"/>
<rect x="388.10" y="335.9" width="0.70" height="19.5" fill="rgb(24,24,24)"/>
<rect x="391.20" y="335.9" width="0.80" height="19.5" fill="rgb(94,94,94)"/>
<rect x="392.00" y="335.9" width="0.80" height="19.5" fill="rgb(60,60,60)"/>
<rect x="395.00" y="335.9" width="0.80" height="19.5" fill="rgb(163,163,163)"/>
<rect x="398.80" y="335.9" width="0.80" height="19.5" fill="rgb(25,25,25)"/>
<rect x="399.60" y="335.9" width="0.70" height="19.5" fill="rgb(24,24,24)"/>
<rect x="400.80" y="335.9" width="0.80" height="19.5" fill="rgb(117,117,117)"/>
<rect x="401.60" y="335.9" width="0.80" height="19.5" fill="rgb(140,140,140)"/>
<rect x="402.40" y="335.9" width="0.80" height="19.5" fill="rgb(146,146,146)"/>
<rect x="405.10" y="335.9" width="0.80" height="19.5" fill="rgb(118,118,118)"/>
<rect x="405.90" y="335.9" width="0.80" height="19.5" fill="rgb(129,129,129)"/>
<rect x="406.70" y="335.9" width="0.80" height="19.5" fill="rgb(93,93,93)"/>
<rect x="407.50" y="335.9" width="0.50" height="19.5" fill="rgb(132,132,132)"/>
<rect x="415.20" y="335.9" width="0.80" height="19.5" fill="rgb(128,128,128)"/>
<rect x="416.00" y="335.9" width="0.80" height="19.5" fill="rgb(149,149,149)"/>
<rect x="416.80" y="335.9" width="0.30" height="19.5" fill="rgb(139,139,139)"/>
<rect x="320.0" y="355.7" width="16.00" height="4.8" fill="#c0504f"/>
<rect x="336.0" y="355.7" width="8.00" height="4.8" fill="#c5606a"/>
<rect x="344.0" y="355.7" width="7.00" height="4.8" fill="#c66670"/>
<rect x="351.0" y="355.7" width="6.70" height="4.8" fill="#cc7078"/>
<rect x="357.7" y="355.7" width="7.30" height="4.8" fill="#dcb6d0"/>
<rect x="365.0" y="355.7" width="7.40" height="4.8" fill="#e0c6dc"/>
<rect x="372.4" y="355.7" width="17.60" height="4.8" fill="#d6d6ef"/>
<rect x="390.0" y="355.7" width="18.00" height="4.8" fill="#cdcdec"/>
<rect x="408.0" y="355.7" width="10.00" height="4.8" fill="#7a78c0"/>
<rect x="418.0" y="355.7" width="19.70" height="4.8" fill="#4a3f9c"/>
<rect x="437.7" y="355.7" width="8.50" height="4.8" fill="#2e237a"/>
<polyline points="319.70,323.40 320.56,324.21 321.43,325.02 322.29,325.83 323.15,326.64 324.02,327.45 324.88,328.25 325.75,329.06 326.61,329.87 327.47,330.68 328.34,331.49 329.20,332.30 330.09,331.20 330.97,330.10 331.86,328.96 332.74,327.95 333.63,327.18 334.51,325.67 335.40,324.61 336.43,323.41 337.47,321.78 338.50,320.81 339.45,320.44 340.40,320.11 341.35,319.01 342.30,318.72 343.80,311.13 344.77,310.63 345.75,309.37 346.73,307.64 347.70,307.33 348.85,305.02 350.00,302.44 351.00,301.14 352.00,299.46 353.00,298.06 353.80,296.83 354.60,294.70 355.40,293.12 356.20,291.47 357.00,289.58 358.00,289.37 359.00,288.75 360.00,288.51 361.00,287.28 362.00,286.46 363.00,285.40 363.92,284.56 364.83,283.39 365.75,282.25 366.67,281.91 367.58,280.93 368.50,279.81 369.36,279.52 370.21,279.00 371.07,278.76 371.92,278.64 372.78,278.28 373.63,278.74 374.49,278.24 375.34,278.48 376.20,277.90 377.12,278.41 378.04,278.31 378.96,277.55 379.88,277.74 380.80,278.37 381.64,278.01 382.48,278.51 383.32,278.03 384.16,277.78 385.00,278.32 385.84,278.49 386.68,278.07 387.52,277.95 388.36,278.21 389.20,278.82 390.10,279.03 391.00,278.86 391.90,279.37 392.80,279.64 393.70,280.00 394.60,281.07 395.50,281.01 396.40,281.85 397.30,282.25 398.20,282.80 399.10,283.30 400.00,283.80 400.86,284.23 401.71,284.67 402.57,285.10 403.42,285.53 404.28,285.97 405.13,286.40 405.99,286.83 406.84,287.27 407.70,287.70 408.58,288.33 409.47,288.97 410.35,289.60 411.23,290.23 412.12,290.87 413.00,291.50 413.85,292.12 414.70,292.74 415.55,293.36 416.40,293.98 417.25,294.60 418.10,295.22 418.95,295.84 419.80,296.46 420.65,297.08 421.50,297.70 422.35,298.68 423.19,299.66 424.04,300.65 424.88,301.63 425.73,302.61 426.57,303.59 427.42,304.57 428.26,305.55 429.11,306.54 429.95,307.52 430.80,308.50 431.61,309.29 432.42,310.08 433.23,310.87 434.04,311.66 434.85,312.45 435.66,313.24 436.47,314.03 437.28,314.82 438.09,315.61 438.91,316.39 439.72,317.18 440.53,317.97 441.34,318.76 442.15,319.55 442.96,320.34 443.77,321.13 444.58,321.92 445.39,322.71 446.20,323.50" fill="none" stroke="#6a9c2a" stroke-width="1.3" stroke-linejoin="round"/>
<text transform="translate(396.83,287.20) scale(1.0545,1)" font-size="10.29" font-weight="normal" font-style="normal" fill="#000" >NES 6.0</text>
<text transform="translate(396.85,300.80) scale(1.0575,1)" font-size="10.00" font-weight="normal" font-style="normal" fill="#000" >FDR q 0.0</text>
<text transform="translate(318.98,374.60) scale(1.0435,1)" font-size="10.00" font-weight="normal" font-style="normal" fill="#000" >+Dox</text>
<text transform="translate(432.57,374.60) scale(0.9538,1)" font-size="10.00" font-weight="normal" font-style="normal" fill="#000" >-Dox</text>
</g>
<g id="panelE">
<text transform="translate(57.42,418.00) scale(1.0094,1)" font-size="10.87" font-weight="normal" font-style="normal" fill="#3b5a9c" >DAPI</text>
<text transform="translate(154.21,418.00) scale(1.1284,1)" font-size="10.71" font-weight="normal" font-style="normal" fill="#b3153f" >p53</text>
<text transform="translate(243.91,417.80) scale(1.0425,1)" font-size="10.72" font-weight="normal" font-style="normal" fill="#d1228c" >Merge</text>
<text transform="translate(21.10,501.16) rotate(-90) scale(0.9476,1)" font-size="11.88" font-weight="normal" font-style="normal" fill="#000">+Dox</text>
<text transform="translate(21.10,588.88) rotate(-90) scale(0.9049,1)" font-size="11.88" font-weight="normal" font-style="normal" fill="#000">-Dox</text>
<clipPath id="t00"><rect x="27.3" y="426.6" width="92.3" height="93.3"/></clipPath>
<clipPath id="t01"><rect x="122.0" y="426.6" width="93.0" height="93.3"/></clipPath>
<clipPath id="t02"><rect x="218.0" y="426.6" width="92.9" height="93.3"/></clipPath>
<clipPath id="t10"><rect x="27.3" y="522.2" width="92.3" height="91.5"/></clipPath>
<clipPath id="t11"><rect x="122.0" y="522.2" width="93.0" height="91.5"/></clipPath>
<clipPath id="t12"><rect x="218.0" y="522.2" width="92.9" height="91.5"/></clipPath>
<g clip-path="url(#t00)"><rect x="27.3" y="426.6" width="92.3" height="93.3" fill="#211f44"/><ellipse cx="47.8" cy="485.5" rx="11.0" ry="13.4" fill="#2e2e78" transform="rotate(8 47.8 485.5)" filter="url(#bl15)"/><ellipse cx="47.8" cy="485.5" rx="10.559999999999999" ry="12.863999999999999" fill="#33338a" transform="rotate(8 47.8 485.5)" filter="url(#tx1)" opacity="0.5"/><ellipse cx="93.9" cy="463.8" rx="12.9" ry="10.5" fill="#30307c" transform="rotate(8 93.9 463.8)" filter="url(#bl15)"/><ellipse cx="93.9" cy="463.8" rx="12.384" ry="10.08" fill="#35358c" transform="rotate(8 93.9 463.8)" filter="url(#tx1)" opacity="0.5"/><ellipse cx="99.8" cy="486.8" rx="10.8" ry="9.4" fill="#2e2e76" transform="rotate(-18 99.8 486.8)" filter="url(#bl15)"/><ellipse cx="99.8" cy="486.8" rx="10.368" ry="9.024" fill="#34348a" transform="rotate(-18 99.8 486.8)" filter="url(#tx1)" opacity="0.5"/><ellipse cx="99.8" cy="486.8" rx="10.368" ry="9.024" fill="#3a2a60" transform="rotate(-18 99.8 486.8)" filter="url(#tx2)" opacity="0.3"/></g>
<g clip-path="url(#t01)"><rect x="122.0" y="426.6" width="93.0" height="93.3" fill="#2b1a17"/><ellipse cx="145.0" cy="484.5" rx="12.8" ry="12.4" fill="#561a12" filter="url(#bl15)"/><ellipse cx="145.0" cy="484.5" rx="12.288" ry="11.904" fill="#7e1c16" filter="url(#tx1)" opacity="0.7"/><ellipse cx="145.0" cy="484.5" rx="12.288" ry="11.904" fill="#341410" filter="url(#tx2)" opacity="0.7"/><ellipse cx="187.8" cy="463.6" rx="12.2" ry="10.0" fill="#4e1a12" filter="url(#bl15)"/><ellipse cx="187.8" cy="463.6" rx="11.712" ry="9.6" fill="#721c16" filter="url(#tx1)" opacity="0.7"/><ellipse cx="187.8" cy="463.6" rx="11.712" ry="9.6" fill="#341410" filter="url(#tx2)" opacity="0.7"/><ellipse cx="194.8" cy="487.0" rx="10.2" ry="9.0" fill="#381c18" filter="url(#bl15)"/><ellipse cx="194.8" cy="487.0" rx="9.792" ry="8.64" fill="#4a1e1a" filter="url(#tx1)" opacity="0.6"/></g>
<g clip-path="url(#t02)"><rect x="218.0" y="426.6" width="92.9" height="93.3" fill="#301d18"/><ellipse cx="238.0" cy="487.8" rx="12.8" ry="12.4" fill="#5a1826" filter="url(#bl15)"/><ellipse cx="238.0" cy="487.8" rx="12.288" ry="11.904" fill="#7e1c28" filter="url(#tx1)" opacity="0.65"/><ellipse cx="238.0" cy="487.8" rx="12.288" ry="11.904" fill="#3e1a40" filter="url(#tx2)" opacity="0.45"/><ellipse cx="281.5" cy="466.5" rx="12.2" ry="9.8" fill="#521a36" filter="url(#bl15)"/><ellipse cx="281.5" cy="466.5" rx="11.712" ry="9.408" fill="#7c1c30" filter="url(#tx1)" opacity="0.65"/><ellipse cx="281.5" cy="466.5" rx="11.712" ry="9.408" fill="#3a2c7a" filter="url(#tx2)" opacity="0.5"/><ellipse cx="289.0" cy="489.6" rx="10.2" ry="9.0" fill="#3e1a44" filter="url(#bl15)"/><ellipse cx="289.0" cy="489.6" rx="9.792" ry="8.64" fill="#42307e" filter="url(#tx1)" opacity="0.8"/><ellipse cx="289.0" cy="489.6" rx="9.792" ry="8.64" fill="#5a1a30" filter="url(#tx2)" opacity="0.4"/></g>
<g clip-path="url(#t10)"><rect x="27.3" y="522.2" width="92.3" height="91.5" fill="#252650"/><ellipse cx="43.5" cy="542.2" rx="12.8" ry="12.6" fill="#2e2e74" filter="url(#bl2)"/><ellipse cx="43.5" cy="542.2" rx="12.288" ry="12.096" fill="#38388a" filter="url(#tx1)" opacity="0.3"/><ellipse cx="75.8" cy="549.5" rx="15.0" ry="14.5" fill="#31317a" filter="url(#bl15)"/><ellipse cx="75.8" cy="549.5" rx="14.399999999999999" ry="13.92" fill="#3a3a8c" filter="url(#tx1)" opacity="0.3"/><ellipse cx="43.5" cy="572.6" rx="10.2" ry="11.0" fill="#2e2e76" filter="url(#bl15)"/><ellipse cx="43.5" cy="572.6" rx="9.792" ry="10.559999999999999" fill="#36368a" filter="url(#tx1)" opacity="0.25"/><ellipse cx="103.5" cy="570.8" rx="13.0" ry="13.6" fill="#30307a" filter="url(#bl2)"/><ellipse cx="103.5" cy="570.8" rx="12.48" ry="13.056" fill="#3c3a8e" filter="url(#tx1)" opacity="0.3"/><ellipse cx="72.2" cy="591.0" rx="13.2" ry="14.2" fill="#2f2f7a" filter="url(#bl15)"/><ellipse cx="72.2" cy="591.0" rx="12.671999999999999" ry="13.632" fill="#36368a" filter="url(#tx1)" opacity="0.25"/></g>
<g clip-path="url(#t11)"><rect x="122.0" y="522.2" width="93.0" height="91.5" fill="#4a1a14"/><rect x="122" y="522.3" width="93" height="91.4" fill="#6a1a16" filter="url(#tx3)" opacity="0.55"/><ellipse cx="139.5" cy="547.7" rx="17.0" ry="16.5" fill="#9a1c18" filter="url(#tx3)" opacity="0.75"/><ellipse cx="139.5" cy="547.7" rx="12.5" ry="12.0" fill="#7a1a14" filter="url(#bl15)"/><ellipse cx="139.5" cy="547.7" rx="12.0" ry="11.52" fill="#a01c1a" filter="url(#tx1)" opacity="0.8"/><ellipse cx="139.5" cy="547.7" rx="12.0" ry="11.52" fill="#561610" filter="url(#tx2)" opacity="0.5"/><ellipse cx="172.7" cy="555.0" rx="19.0" ry="18.5" fill="#9a1c18" filter="url(#tx3)" opacity="0.75"/><ellipse cx="172.7" cy="555.0" rx="15.0" ry="14.5" fill="#b0241c" filter="url(#bl15)"/><ellipse cx="172.7" cy="555.0" rx="14.399999999999999" ry="13.92" fill="#c4342a" filter="url(#tx1)" opacity="0.6"/><ellipse cx="172.7" cy="555.0" rx="14.399999999999999" ry="13.92" fill="#9a1c16" filter="url(#tx2)" opacity="0.4"/><ellipse cx="138.5" cy="579.0" rx="15.5" ry="15.0" fill="#8a1a16" filter="url(#tx3)" opacity="0.75"/><ellipse cx="138.5" cy="579.0" rx="11.0" ry="10.5" fill="#701a14" filter="url(#bl15)"/><ellipse cx="138.5" cy="579.0" rx="10.559999999999999" ry="10.08" fill="#941c18" filter="url(#tx1)" opacity="0.8"/><ellipse cx="138.5" cy="579.0" rx="10.559999999999999" ry="10.08" fill="#501610" filter="url(#tx2)" opacity="0.5"/><ellipse cx="200.4" cy="576.3" rx="17.5" ry="17.3" fill="#9a1c18" filter="url(#tx3)" opacity="0.75"/><ellipse cx="200.4" cy="576.3" rx="13.0" ry="12.8" fill="#a51a1a" filter="url(#bl15)"/><ellipse cx="200.4" cy="576.3" rx="12.48" ry="12.288" fill="#b81e1e" filter="url(#tx1)" opacity="0.6"/><ellipse cx="200.4" cy="576.3" rx="12.48" ry="12.288" fill="#801814" filter="url(#tx2)" opacity="0.4"/><ellipse cx="168.0" cy="597.5" rx="18.3" ry="18.1" fill="#9a1c18" filter="url(#tx3)" opacity="0.75"/><ellipse cx="168.0" cy="597.5" rx="13.8" ry="13.6" fill="#9a1a1a" filter="url(#bl15)"/><ellipse cx="168.0" cy="597.5" rx="13.248" ry="13.056" fill="#b01e1e" filter="url(#tx1)" opacity="0.7"/><ellipse cx="168.0" cy="597.5" rx="13.248" ry="13.056" fill="#761614" filter="url(#tx2)" opacity="0.45"/></g>
<g clip-path="url(#t12)"><rect x="218.0" y="522.2" width="92.9" height="91.5" fill="#431d18"/><rect x="218" y="522.3" width="93" height="91.4" fill="#661a16" filter="url(#tx3)" opacity="0.5"/><ellipse cx="236.3" cy="541.2" rx="15.5" ry="15.2" fill="#8a1c1c" filter="url(#tx3)" opacity="0.7"/><ellipse cx="236.3" cy="541.2" rx="11.5" ry="11.2" fill="#5a2478" filter="url(#bl15)"/><ellipse cx="236.3" cy="541.2" rx="11.04" ry="10.751999999999999" fill="#6a36a6" filter="url(#tx1)" opacity="0.6"/><ellipse cx="236.3" cy="541.2" rx="11.04" ry="10.751999999999999" fill="#8a1c3a" filter="url(#tx2)" opacity="0.4"/><ellipse cx="269.5" cy="548.6" rx="18.7" ry="18.2" fill="#901a1c" filter="url(#tx3)" opacity="0.7"/><ellipse cx="269.5" cy="548.6" rx="14.7" ry="14.2" fill="#a0183c" filter="url(#bl15)"/><ellipse cx="269.5" cy="548.6" rx="14.111999999999998" ry="13.632" fill="#b01c44" filter="url(#tx1)" opacity="0.4"/><ellipse cx="269.5" cy="548.6" rx="14.111999999999998" ry="13.632" fill="#8a1a5a" filter="url(#tx2)" opacity="0.4"/><ellipse cx="236.3" cy="571.7" rx="14.0" ry="14.0" fill="#7a1a1a" filter="url(#tx3)" opacity="0.7"/><ellipse cx="236.3" cy="571.7" rx="10.0" ry="10.0" fill="#4e1c44" filter="url(#bl15)"/><ellipse cx="236.3" cy="571.7" rx="9.6" ry="9.6" fill="#5a2a78" filter="url(#tx1)" opacity="0.6"/><ellipse cx="236.3" cy="571.7" rx="9.6" ry="9.6" fill="#7a1a2a" filter="url(#tx2)" opacity="0.4"/><ellipse cx="297.2" cy="569.0" rx="16.6" ry="16.4" fill="#901a1c" filter="url(#tx3)" opacity="0.7"/><ellipse cx="297.2" cy="569.0" rx="12.6" ry="12.4" fill="#8a1a70" filter="url(#bl15)"/><ellipse cx="297.2" cy="569.0" rx="12.096" ry="11.904" fill="#962090" filter="url(#tx1)" opacity="0.4"/><ellipse cx="297.2" cy="569.0" rx="12.096" ry="11.904" fill="#6a2080" filter="url(#tx2)" opacity="0.4"/><ellipse cx="265.0" cy="591.0" rx="17.0" ry="17.0" fill="#901a1c" filter="url(#tx3)" opacity="0.7"/><ellipse cx="265.0" cy="591.0" rx="13.0" ry="13.0" fill="#8e1836" filter="url(#bl15)"/><ellipse cx="265.0" cy="591.0" rx="12.48" ry="12.48" fill="#a01c40" filter="url(#tx1)" opacity="0.5"/><ellipse cx="265.0" cy="591.0" rx="12.48" ry="12.48" fill="#702060" filter="url(#tx2)" opacity="0.4"/><rect x="285.8" y="603.0" width="21" height="3.8" fill="#fff"/></g>
</g>
<g id="panelF">
<text transform="translate(344.10,499.27) rotate(-90) scale(0.7560,1)" font-size="11.59" font-weight="bold" font-style="normal" fill="#000">Nuclear p53 signal</text>
<line x1="377.4" y1="416.2" x2="377.4" y2="506.0" stroke="#000" stroke-width="1.5"/>
<line x1="373.1" y1="505.30" x2="377.4" y2="505.30" stroke="#000" stroke-width="1.2"/>
<text transform="translate(352.75,508.80) scale(1.1539,1)" font-size="9.86" font-weight="normal" font-style="normal" fill="#000" >0.0</text>
<line x1="373.1" y1="488.00" x2="377.4" y2="488.00" stroke="#000" stroke-width="1.2"/>
<text transform="translate(352.75,491.50) scale(1.1539,1)" font-size="9.86" font-weight="normal" font-style="normal" fill="#000" >0.5</text>
<line x1="373.1" y1="470.70" x2="377.4" y2="470.70" stroke="#000" stroke-width="1.2"/>
<text transform="translate(352.32,474.20) scale(1.1856,1)" font-size="9.86" font-weight="normal" font-style="normal" fill="#000" >1.0</text>
<line x1="373.1" y1="453.40" x2="377.4" y2="453.40" stroke="#000" stroke-width="1.2"/>
<text transform="translate(352.32,456.90) scale(1.1686,1)" font-size="10.00" font-weight="normal" font-style="normal" fill="#000" >1.5</text>
<line x1="373.1" y1="436.10" x2="377.4" y2="436.10" stroke="#000" stroke-width="1.2"/>
<text transform="translate(352.63,439.60) scale(1.1628,1)" font-size="9.86" font-weight="normal" font-style="normal" fill="#000" >2.0</text>
<line x1="373.1" y1="418.80" x2="377.4" y2="418.80" stroke="#000" stroke-width="1.2"/>
<text transform="translate(352.63,422.30) scale(1.1628,1)" font-size="9.86" font-weight="normal" font-style="normal" fill="#000" >2.5</text>
<line x1="373.1" y1="505.3" x2="507.3" y2="505.3" stroke="#000" stroke-width="1.5"/>
<line x1="414.7" y1="505.3" x2="414.7" y2="509.8" stroke="#000" stroke-width="1.2"/>
<line x1="470.0" y1="505.3" x2="470.0" y2="509.8" stroke="#000" stroke-width="1.2"/>
<rect x="395.7" y="460.8" width="38.1" height="44.50" fill="#a3002b"/>
<rect x="451.0" y="442.8" width="38.0" height="62.50" fill="#2c4a7e"/>
<line x1="414.7" y1="458.9" x2="414.7" y2="461" stroke="#000" stroke-width="1.4"/>
<line x1="405.4" y1="458.9" x2="423.9" y2="458.9" stroke="#000" stroke-width="1.4"/>
<line x1="470.0" y1="435.4" x2="470.0" y2="443" stroke="#000" stroke-width="1.4"/>
<line x1="460.8" y1="435.4" x2="479.7" y2="435.4" stroke="#000" stroke-width="1.4"/>
<text transform="translate(418.05,427.80) scale(1.0870,1)" font-size="10.57" font-weight="normal" font-style="normal" fill="#000" >p=0.0003</text>
<text transform="translate(402.47,524.20) scale(1.0125,1)" font-size="10.43" font-weight="normal" font-style="normal" fill="#000" >+Dox</text>
<text transform="translate(459.14,524.20) scale(0.9700,1)" font-size="10.43" font-weight="normal" font-style="normal" fill="#000" >-Dox</text>
</g>
<g id="panelG">
<text transform="translate(366.52,571.80) scale(1.0198,1)" font-size="10.76" font-weight="normal" font-style="normal" fill="#000" >Line1</text>
<text transform="translate(422.60,571.70) scale(1.0615,1)" font-size="10.62" font-weight="normal" font-style="normal" fill="#000" >Line2</text>
<line x1="362.6" y1="578.9" x2="398.5" y2="578.9" stroke="#000" stroke-width="1.6"/>
<line x1="418.7" y1="578.9" x2="454.8" y2="578.9" stroke="#000" stroke-width="1.6"/>
<line x1="361.3" y1="589.8" x2="367.7" y2="589.8" stroke="#000" stroke-width="0.95"/>
<line x1="364.5" y1="586.5" x2="364.5" y2="593.1" stroke="#000" stroke-width="0.95"/>
<line x1="421.7" y1="589.8" x2="428.09999999999997" y2="589.8" stroke="#000" stroke-width="0.95"/>
<line x1="424.9" y1="586.5" x2="424.9" y2="593.1" stroke="#000" stroke-width="0.95"/>
<line x1="390.4" y1="589.9" x2="392.6" y2="589.9" stroke="#000" stroke-width="0.9"/>
<line x1="449.9" y1="589.9" x2="452.1" y2="589.9" stroke="#000" stroke-width="0.9"/>
<text transform="translate(475.64,592.70) scale(1.0408,1)" font-size="10.29" font-weight="normal" font-style="normal" fill="#000" >Dox</text>
<rect x="350.5" y="600.0" width="119.3" height="32.5" fill="url(#blot1)"/>
<rect x="351.2" y="640.3" width="118.3" height="31.4" fill="url(#blot2)"/>
<g filter="url(#bb)">
<rect x="354.5" y="613.50" width="22.50" height="5.6" rx="2.80" fill="#080808"/>
<rect x="383.8" y="613.30" width="23.70" height="7.0" rx="3.50" fill="#080808"/>
<rect x="414.5" y="615.20" width="20.00" height="3.6" rx="1.80" fill="#1a1a1a"/>
<rect x="442.0" y="613.20" width="22.30" height="6.2" rx="3.10" fill="#080808"/>
<rect x="353.8" y="654.00" width="23.20" height="4.6" rx="2.30" fill="#0c0c0c"/>
<rect x="382.5" y="655.20" width="24.50" height="4.6" rx="2.30" fill="#0c0c0c"/>
<rect x="412.0" y="656.50" width="21.00" height="4.4" rx="2.20" fill="#0c0c0c"/>
<rect x="438.0" y="655.30" width="23.80" height="4.4" rx="2.20" fill="#0c0c0c"/>
</g>
<ellipse cx="396" cy="627.2" rx="11" ry="2.2" fill="#5a5a5a" filter="url(#bl1)"/>
<ellipse cx="366" cy="627.0" rx="9" ry="1.8" fill="#666" filter="url(#bl1)"/>
<text transform="translate(476.01,621.60) scale(1.2959,1)" font-size="9.43" font-weight="normal" font-style="normal" fill="#000" >p53</text>
<text transform="translate(476.02,659.80) scale(1.0789,1)" font-size="10.34" font-weight="normal" font-style="normal" fill="#000" >β-actin</text>
</g>
</svg></body></html>
